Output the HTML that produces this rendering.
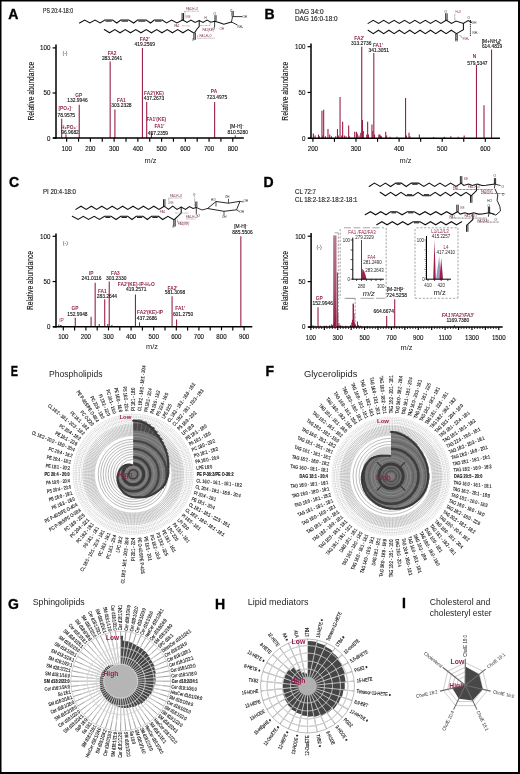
<!DOCTYPE html>
<html><head><meta charset="utf-8"><title>Lipidomics figure</title>
<style>html,body{margin:0;padding:0;background:#fff}svg{display:block}text{font-family:'Liberation Sans', Arial, sans-serif}</style></head>
<body><svg width="520" height="774" viewBox="0 0 520 774">
<rect x="0" y="0" width="520" height="774" fill="#fff"/>
<text font-size="14" fill="#000" font-weight="bold" x="8.30" y="19.20" stroke="#000" stroke-width="0.35">A</text>
<text font-size="6.5" fill="#222" textLength="30" lengthAdjust="spacingAndGlyphs" x="43.00" y="13.20" stroke="#222" stroke-width="0.15">PS 20:4-18:0</text>
<line x1="61.68" y1="138.10" x2="61.68" y2="118.71" stroke="#9a2048" stroke-width="1.1"/>
<line x1="65.95" y1="138.10" x2="65.95" y2="134.49" stroke="#9a2048" stroke-width="1.1"/>
<line x1="79.24" y1="138.10" x2="79.24" y2="104.73" stroke="#9a2048" stroke-width="1.1"/>
<line x1="110.16" y1="138.10" x2="110.16" y2="61.43" stroke="#9a2048" stroke-width="1.1"/>
<line x1="114.90" y1="138.10" x2="114.90" y2="109.51" stroke="#9a2048" stroke-width="1.1"/>
<line x1="142.43" y1="138.10" x2="142.43" y2="47.90" stroke="#9a2048" stroke-width="1.1"/>
<line x1="146.70" y1="138.10" x2="146.70" y2="102.02" stroke="#9a2048" stroke-width="1.1"/>
<line x1="151.44" y1="138.10" x2="151.44" y2="132.69" stroke="#9a2048" stroke-width="1.1"/>
<line x1="214.63" y1="138.10" x2="214.63" y2="102.02" stroke="#9a2048" stroke-width="1.1"/>
<line x1="235.28" y1="138.10" x2="235.28" y2="135.39" stroke="#222" stroke-width="0.8"/>
<line x1="56.00" y1="44.40" x2="56.00" y2="138.80" stroke="#000" stroke-width="1.5"/>
<line x1="53.00" y1="138.10" x2="243.80" y2="138.10" stroke="#000" stroke-width="1.5"/>
<line x1="52.60" y1="138.10" x2="56.00" y2="138.10" stroke="#000" stroke-width="1.2"/>
<text font-size="6.9" fill="#111" text-anchor="end" transform="translate(50.40 140.50) scale(0.9 1)" stroke="#111" stroke-width="0.12">0</text>
<line x1="52.60" y1="93.00" x2="56.00" y2="93.00" stroke="#000" stroke-width="1.2"/>
<text font-size="6.9" fill="#111" text-anchor="end" transform="translate(50.40 95.40) scale(0.9 1)" stroke="#111" stroke-width="0.12">50</text>
<line x1="52.60" y1="47.90" x2="56.00" y2="47.90" stroke="#000" stroke-width="1.2"/>
<text font-size="6.9" fill="#111" text-anchor="end" transform="translate(50.40 50.30) scale(0.9 1)" stroke="#111" stroke-width="0.12">100</text>
<line x1="66.67" y1="138.10" x2="66.67" y2="141.70" stroke="#000" stroke-width="1.15"/>
<line x1="78.54" y1="138.10" x2="78.54" y2="141.70" stroke="#000" stroke-width="1.15"/>
<line x1="90.40" y1="138.10" x2="90.40" y2="141.70" stroke="#000" stroke-width="1.15"/>
<line x1="102.27" y1="138.10" x2="102.27" y2="141.70" stroke="#000" stroke-width="1.15"/>
<line x1="114.13" y1="138.10" x2="114.13" y2="141.70" stroke="#000" stroke-width="1.15"/>
<line x1="126.00" y1="138.10" x2="126.00" y2="141.70" stroke="#000" stroke-width="1.15"/>
<line x1="137.86" y1="138.10" x2="137.86" y2="141.70" stroke="#000" stroke-width="1.15"/>
<line x1="149.73" y1="138.10" x2="149.73" y2="141.70" stroke="#000" stroke-width="1.15"/>
<line x1="161.59" y1="138.10" x2="161.59" y2="141.70" stroke="#000" stroke-width="1.15"/>
<line x1="173.46" y1="138.10" x2="173.46" y2="141.70" stroke="#000" stroke-width="1.15"/>
<line x1="185.32" y1="138.10" x2="185.32" y2="141.70" stroke="#000" stroke-width="1.15"/>
<line x1="197.19" y1="138.10" x2="197.19" y2="141.70" stroke="#000" stroke-width="1.15"/>
<line x1="209.05" y1="138.10" x2="209.05" y2="141.70" stroke="#000" stroke-width="1.15"/>
<line x1="220.92" y1="138.10" x2="220.92" y2="141.70" stroke="#000" stroke-width="1.15"/>
<line x1="232.78" y1="138.10" x2="232.78" y2="141.70" stroke="#000" stroke-width="1.15"/>
<text font-size="6.5" fill="#111" text-anchor="middle" transform="translate(66.67 150.70) scale(0.95 1)" stroke="#111" stroke-width="0.12">100</text>
<text font-size="6.5" fill="#111" text-anchor="middle" transform="translate(90.40 150.70) scale(0.95 1)" stroke="#111" stroke-width="0.12">200</text>
<text font-size="6.5" fill="#111" text-anchor="middle" transform="translate(114.13 150.70) scale(0.95 1)" stroke="#111" stroke-width="0.12">300</text>
<text font-size="6.5" fill="#111" text-anchor="middle" transform="translate(137.86 150.70) scale(0.95 1)" stroke="#111" stroke-width="0.12">400</text>
<text font-size="6.5" fill="#111" text-anchor="middle" transform="translate(161.59 150.70) scale(0.95 1)" stroke="#111" stroke-width="0.12">500</text>
<text font-size="6.5" fill="#111" text-anchor="middle" transform="translate(185.32 150.70) scale(0.95 1)" stroke="#111" stroke-width="0.12">600</text>
<text font-size="6.5" fill="#111" text-anchor="middle" transform="translate(209.05 150.70) scale(0.95 1)" stroke="#111" stroke-width="0.12">700</text>
<text font-size="6.5" fill="#111" text-anchor="middle" transform="translate(232.78 150.70) scale(0.95 1)" stroke="#111" stroke-width="0.12">800</text>
<text font-size="8.3" fill="#111" text-anchor="middle" textLength="58.8" lengthAdjust="spacingAndGlyphs" transform="translate(33.60 91.20) rotate(-90.00)" stroke="#111" stroke-width="0.12">Relative abundance</text>
<text font-size="7.4" fill="#1a1a1a" text-anchor="middle" x="150.50" y="162.50">m/z</text>
<text font-size="5.2" fill="#333" text-anchor="middle" x="65.00" y="55.20">(-)</text>
<text font-size="4.8" fill="#8e2448" text-anchor="middle" font-weight="bold" x="112.10" y="54.70">FA2</text>
<text font-size="4.9" fill="#1e1e1e" text-anchor="middle" x="112.10" y="59.80" stroke="#000" stroke-width="0.12">283.2641</text>
<text font-size="4.8" fill="#8e2448" text-anchor="middle" font-weight="bold" x="144.70" y="41.20">FA2'</text>
<text font-size="4.9" fill="#1e1e1e" text-anchor="middle" x="144.70" y="46.20" stroke="#000" stroke-width="0.12">419.2569</text>
<text font-size="4.8" fill="#8e2448" text-anchor="middle" font-weight="bold" x="121.40" y="102.30">FA1</text>
<text font-size="4.9" fill="#1e1e1e" text-anchor="middle" x="121.40" y="107.40" stroke="#000" stroke-width="0.12">303.2328</text>
<text font-size="4.8" fill="#8e2448" text-anchor="middle" font-weight="bold" x="154.00" y="95.00">FA2'(KE)</text>
<text font-size="4.9" fill="#1e1e1e" text-anchor="middle" x="154.00" y="100.40" stroke="#000" stroke-width="0.12">437.2673</text>
<text font-size="4.8" fill="#8e2448" text-anchor="middle" font-weight="bold" x="156.30" y="120.90">FA1'(KE)</text>
<text font-size="4.8" fill="#8e2448" text-anchor="middle" font-weight="bold" x="159.40" y="127.90">FA1'</text>
<text font-size="4.9" fill="#1e1e1e" text-anchor="middle" x="157.90" y="134.90" stroke="#000" stroke-width="0.12">457.2359</text>
<text font-size="4.8" fill="#8e2448" text-anchor="middle" font-weight="bold" x="214.00" y="92.70">PA</text>
<text font-size="4.9" fill="#1e1e1e" text-anchor="middle" x="217.00" y="99.00" stroke="#000" stroke-width="0.12">723.4975</text>
<text font-size="4.9" fill="#1e1e1e" text-anchor="middle" x="236.90" y="128.40" stroke="#000" stroke-width="0.12">[M-H]⁻</text>
<text font-size="4.9" fill="#1e1e1e" text-anchor="middle" x="237.70" y="133.60" stroke="#000" stroke-width="0.12">810.5280</text>
<text font-size="4.8" fill="#8e2448" text-anchor="middle" font-weight="bold" x="78.75" y="97.30">GP</text>
<text font-size="4.9" fill="#1e1e1e" text-anchor="middle" x="77.50" y="101.80" stroke="#000" stroke-width="0.12">132.9946</text>
<text font-size="4.8" fill="#8e2448" text-anchor="middle" font-weight="bold" x="65.60" y="109.80">[PO₃]⁻</text>
<text font-size="4.9" fill="#1e1e1e" text-anchor="middle" x="66.25" y="116.80" stroke="#000" stroke-width="0.12">78.9575</text>
<text font-size="4.8" fill="#8e2448" text-anchor="middle" font-weight="bold" x="69.40" y="128.60">H₂PO₄⁻</text>
<text font-size="4.9" fill="#1e1e1e" text-anchor="middle" x="70.00" y="133.60" stroke="#000" stroke-width="0.12">96.9682</text>
<polyline points="79.50,23.00 84.70,20.00 89.80,23.00 95.00,20.00 100.20,23.00 104.80,20.00 112.50,20.00 116.80,23.00 120.70,20.00 128.80,20.00 133.70,23.00 137.50,20.00 146.20,20.00 150.50,23.00 154.30,20.00 162.30,20.00 166.50,23.00 171.70,20.00 176.90,23.00 182.50,20.00" fill="none" stroke="#111" stroke-width="1.05" stroke-linejoin="miter" stroke-linecap="round"/>
<line x1="105.60" y1="21.10" x2="111.70" y2="21.10" stroke="#111" stroke-width="1.05"/>
<line x1="121.50" y1="21.10" x2="128.00" y2="21.10" stroke="#111" stroke-width="1.05"/>
<line x1="138.30" y1="21.10" x2="145.40" y2="21.10" stroke="#111" stroke-width="1.05"/>
<line x1="155.10" y1="21.10" x2="161.50" y2="21.10" stroke="#111" stroke-width="1.05"/>
<polyline points="104.30,29.50 109.54,32.80 114.78,29.50 120.02,32.80 125.26,29.50 130.50,32.80 135.74,29.50 140.98,32.80 146.22,29.50 151.46,32.80 156.70,29.50 161.94,32.80 167.18,29.50 172.42,32.80 177.66,29.50 182.90,32.80 188.14,29.50 193.38,32.80" fill="none" stroke="#111" stroke-width="1.05" stroke-linejoin="miter" stroke-linecap="round"/>
<line x1="182.10" y1="20.00" x2="182.10" y2="13.00" stroke="#111" stroke-width="0.9"/>
<line x1="183.50" y1="20.00" x2="183.50" y2="13.00" stroke="#111" stroke-width="0.9"/>
<line x1="193.90" y1="32.80" x2="193.90" y2="39.80" stroke="#111" stroke-width="0.9"/>
<line x1="195.30" y1="32.80" x2="195.30" y2="39.80" stroke="#111" stroke-width="0.9"/>
<polyline points="182.80,20.00 187.00,22.40 191.00,20.00 195.00,22.40 199.20,20.60 203.00,22.40 207.00,20.00 211.00,22.20 214.60,21.20 219.00,22.40 223.80,24.30 231.50,22.00" fill="none" stroke="#111" stroke-width="1.05" stroke-linejoin="miter" stroke-linecap="round"/>
<polyline points="194.60,32.80 197.00,29.00 199.20,26.50 199.20,20.60" fill="none" stroke="#111" stroke-width="1.05" stroke-linejoin="miter" stroke-linecap="round"/>
<line x1="214.90" y1="21.20" x2="214.90" y2="15.20" stroke="#111" stroke-width="0.8"/>
<line x1="216.10" y1="21.20" x2="216.10" y2="15.20" stroke="#111" stroke-width="0.8"/>
<line x1="214.60" y1="21.20" x2="214.60" y2="27.50" stroke="#111" stroke-width="0.8"/>
<polyline points="231.50,22.00 232.50,16.60 242.00,16.60" fill="none" stroke="#111" stroke-width="0.85" stroke-linejoin="miter" stroke-linecap="round"/>
<line x1="232.00" y1="16.60" x2="232.00" y2="11.00" stroke="#111" stroke-width="0.8"/>
<line x1="233.30" y1="16.60" x2="233.30" y2="11.00" stroke="#111" stroke-width="0.8"/>
<line x1="231.50" y1="22.00" x2="237.50" y2="25.00" stroke="#111" stroke-width="0.85"/>
<line x1="184.50" y1="11.20" x2="199.00" y2="11.20" stroke="#555" stroke-width="0.55" stroke-dasharray="0.7,0.55"/>
<line x1="185.00" y1="11.20" x2="185.00" y2="19.00" stroke="#555" stroke-width="0.55" stroke-dasharray="0.7,0.55"/>
<line x1="182.00" y1="25.80" x2="190.00" y2="25.80" stroke="#555" stroke-width="0.55" stroke-dasharray="0.7,0.55"/>
<line x1="200.00" y1="25.50" x2="210.00" y2="25.50" stroke="#555" stroke-width="0.55" stroke-dasharray="0.7,0.55"/>
<line x1="210.00" y1="25.50" x2="210.00" y2="21.00" stroke="#555" stroke-width="0.55" stroke-dasharray="0.7,0.55"/>
<line x1="197.70" y1="38.20" x2="214.60" y2="38.20" stroke="#555" stroke-width="0.55" stroke-dasharray="0.7,0.55"/>
<line x1="197.70" y1="38.20" x2="197.70" y2="34.50" stroke="#555" stroke-width="0.55" stroke-dasharray="0.7,0.55"/>
<text font-size="3.0" fill="#7d2c4c" x="186.00" y="9.60">FA2-H₂O</text>
<text font-size="3.0" fill="#7d2c4c" x="186.50" y="17.60">KE</text>
<text font-size="3.0" fill="#7d2c4c" x="174.20" y="27.00">FA1</text>
<text font-size="3.0" fill="#7d2c4c" x="202.50" y="30.80">FA1(KE)</text>
<text font-size="3.0" fill="#7d2c4c" x="199.50" y="36.80">FA1-H₂O</text>
<text font-size="3.0" fill="#7d2c4c" x="219.50" y="30.00">OH</text>
<text font-size="3.0" fill="#222" x="230.00" y="11.50">O</text>
<text font-size="3.0" fill="#222" x="242.50" y="17.80">OH</text>
<text font-size="3.0" fill="#222" x="237.50" y="28.00">NH₂</text>
<text font-size="3.0" fill="#222" x="213.50" y="14.50">O</text>
<text font-size="3.0" fill="#222" x="212.50" y="30.00">O⁻</text>
<text font-size="3.0" fill="#222" x="192.00" y="40.50">O</text>
<text font-size="3.0" fill="#222" x="204.50" y="18.50">H</text>
<text font-size="14" fill="#000" font-weight="bold" x="264.50" y="19.20" stroke="#000" stroke-width="0.35">B</text>
<text font-size="6.5" fill="#222" textLength="28.5" lengthAdjust="spacingAndGlyphs" x="295.00" y="13.60" stroke="#222" stroke-width="0.15">DAG 34:0</text>
<text font-size="6.5" fill="#222" textLength="42.5" lengthAdjust="spacingAndGlyphs" x="295.00" y="20.90" stroke="#222" stroke-width="0.15">DAG 16:0-18:0</text>
<line x1="313.33" y1="138.20" x2="313.33" y2="133.62" stroke="#9a2048" stroke-width="1.1"/>
<line x1="315.05" y1="138.20" x2="315.05" y2="135.45" stroke="#9a2048" stroke-width="1.1"/>
<line x1="318.50" y1="138.20" x2="318.50" y2="134.54" stroke="#9a2048" stroke-width="1.1"/>
<line x1="319.36" y1="138.20" x2="319.36" y2="136.37" stroke="#9a2048" stroke-width="1.1"/>
<line x1="321.95" y1="138.20" x2="321.95" y2="110.75" stroke="#9a2048" stroke-width="1.1"/>
<line x1="322.81" y1="138.20" x2="322.81" y2="135.45" stroke="#9a2048" stroke-width="1.1"/>
<line x1="323.67" y1="138.20" x2="323.67" y2="109.83" stroke="#9a2048" stroke-width="1.1"/>
<line x1="325.40" y1="138.20" x2="325.40" y2="136.37" stroke="#9a2048" stroke-width="1.1"/>
<line x1="327.98" y1="138.20" x2="327.98" y2="129.05" stroke="#9a2048" stroke-width="1.1"/>
<line x1="329.71" y1="138.20" x2="329.71" y2="134.54" stroke="#9a2048" stroke-width="1.1"/>
<line x1="331.43" y1="138.20" x2="331.43" y2="136.37" stroke="#9a2048" stroke-width="1.1"/>
<line x1="335.74" y1="138.20" x2="335.74" y2="136.37" stroke="#9a2048" stroke-width="1.1"/>
<line x1="337.47" y1="138.20" x2="337.47" y2="129.05" stroke="#9a2048" stroke-width="1.1"/>
<line x1="338.33" y1="138.20" x2="338.33" y2="135.45" stroke="#9a2048" stroke-width="1.1"/>
<line x1="340.05" y1="138.20" x2="340.05" y2="97.03" stroke="#9a2048" stroke-width="1.1"/>
<line x1="341.78" y1="138.20" x2="341.78" y2="135.45" stroke="#9a2048" stroke-width="1.1"/>
<line x1="342.64" y1="138.20" x2="342.64" y2="121.73" stroke="#9a2048" stroke-width="1.1"/>
<line x1="344.36" y1="138.20" x2="344.36" y2="135.45" stroke="#9a2048" stroke-width="1.1"/>
<line x1="346.09" y1="138.20" x2="346.09" y2="136.37" stroke="#9a2048" stroke-width="1.1"/>
<line x1="348.67" y1="138.20" x2="348.67" y2="125.39" stroke="#9a2048" stroke-width="1.1"/>
<line x1="349.53" y1="138.20" x2="349.53" y2="136.37" stroke="#9a2048" stroke-width="1.1"/>
<line x1="354.71" y1="138.20" x2="354.71" y2="131.79" stroke="#9a2048" stroke-width="1.1"/>
<line x1="356.43" y1="138.20" x2="356.43" y2="131.79" stroke="#9a2048" stroke-width="1.1"/>
<line x1="357.29" y1="138.20" x2="357.29" y2="133.62" stroke="#9a2048" stroke-width="1.1"/>
<line x1="359.02" y1="138.20" x2="359.02" y2="135.45" stroke="#9a2048" stroke-width="1.1"/>
<line x1="360.74" y1="138.20" x2="360.74" y2="132.71" stroke="#9a2048" stroke-width="1.1"/>
<line x1="361.72" y1="138.20" x2="361.72" y2="46.70" stroke="#9a2048" stroke-width="1.1"/>
<line x1="362.46" y1="138.20" x2="362.46" y2="119.90" stroke="#9a2048" stroke-width="1.1"/>
<line x1="363.33" y1="138.20" x2="363.33" y2="130.88" stroke="#9a2048" stroke-width="1.1"/>
<line x1="366.77" y1="138.20" x2="366.77" y2="134.54" stroke="#9a2048" stroke-width="1.1"/>
<line x1="367.64" y1="138.20" x2="367.64" y2="121.73" stroke="#9a2048" stroke-width="1.1"/>
<line x1="368.50" y1="138.20" x2="368.50" y2="134.54" stroke="#9a2048" stroke-width="1.1"/>
<line x1="371.95" y1="138.20" x2="371.95" y2="124.47" stroke="#9a2048" stroke-width="1.1"/>
<line x1="372.81" y1="138.20" x2="372.81" y2="130.88" stroke="#9a2048" stroke-width="1.1"/>
<line x1="373.80" y1="138.20" x2="373.80" y2="53.11" stroke="#9a2048" stroke-width="1.1"/>
<line x1="374.53" y1="138.20" x2="374.53" y2="134.54" stroke="#9a2048" stroke-width="1.1"/>
<line x1="378.84" y1="138.20" x2="378.84" y2="134.54" stroke="#9a2048" stroke-width="1.1"/>
<line x1="379.70" y1="138.20" x2="379.70" y2="134.54" stroke="#9a2048" stroke-width="1.1"/>
<line x1="380.57" y1="138.20" x2="380.57" y2="135.45" stroke="#9a2048" stroke-width="1.1"/>
<line x1="381.43" y1="138.20" x2="381.43" y2="136.37" stroke="#9a2048" stroke-width="1.1"/>
<line x1="385.74" y1="138.20" x2="385.74" y2="131.79" stroke="#9a2048" stroke-width="1.1"/>
<line x1="386.60" y1="138.20" x2="386.60" y2="135.45" stroke="#9a2048" stroke-width="1.1"/>
<line x1="390.05" y1="138.20" x2="390.05" y2="136.83" stroke="#9a2048" stroke-width="1.1"/>
<line x1="396.94" y1="138.20" x2="396.94" y2="136.83" stroke="#9a2048" stroke-width="1.1"/>
<line x1="405.56" y1="138.20" x2="405.56" y2="97.94" stroke="#9a2048" stroke-width="1.1"/>
<line x1="406.43" y1="138.20" x2="406.43" y2="135.45" stroke="#9a2048" stroke-width="1.1"/>
<line x1="409.01" y1="138.20" x2="409.01" y2="132.71" stroke="#9a2048" stroke-width="1.1"/>
<line x1="409.88" y1="138.20" x2="409.88" y2="136.37" stroke="#9a2048" stroke-width="1.1"/>
<line x1="419.36" y1="138.20" x2="419.36" y2="134.54" stroke="#9a2048" stroke-width="1.1"/>
<line x1="433.58" y1="138.20" x2="433.58" y2="137.10" stroke="#9a2048" stroke-width="1.1"/>
<line x1="444.35" y1="138.20" x2="444.35" y2="136.83" stroke="#9a2048" stroke-width="1.1"/>
<line x1="450.82" y1="138.20" x2="450.82" y2="136.37" stroke="#9a2048" stroke-width="1.1"/>
<line x1="458.15" y1="138.20" x2="458.15" y2="136.83" stroke="#9a2048" stroke-width="1.1"/>
<line x1="464.18" y1="138.20" x2="464.18" y2="135.45" stroke="#9a2048" stroke-width="1.1"/>
<line x1="476.46" y1="138.20" x2="476.46" y2="65.00" stroke="#9a2048" stroke-width="1.1"/>
<line x1="484.01" y1="138.20" x2="484.01" y2="105.26" stroke="#9a2048" stroke-width="1.1"/>
<line x1="491.55" y1="138.20" x2="491.55" y2="49.45" stroke="#9a2048" stroke-width="1.1"/>
<line x1="311.00" y1="43.60" x2="311.00" y2="138.90" stroke="#000" stroke-width="1.5"/>
<line x1="308.00" y1="138.20" x2="500.00" y2="138.20" stroke="#000" stroke-width="1.5"/>
<line x1="307.60" y1="138.20" x2="311.00" y2="138.20" stroke="#000" stroke-width="1.2"/>
<text font-size="6.9" fill="#111" text-anchor="end" transform="translate(305.40 140.60) scale(0.9 1)" stroke="#111" stroke-width="0.12">0</text>
<line x1="307.60" y1="92.45" x2="311.00" y2="92.45" stroke="#000" stroke-width="1.2"/>
<text font-size="6.9" fill="#111" text-anchor="end" transform="translate(305.40 94.85) scale(0.9 1)" stroke="#111" stroke-width="0.12">50</text>
<line x1="307.60" y1="46.70" x2="311.00" y2="46.70" stroke="#000" stroke-width="1.2"/>
<text font-size="6.9" fill="#111" text-anchor="end" transform="translate(305.40 49.10) scale(0.9 1)" stroke="#111" stroke-width="0.12">100</text>
<line x1="312.90" y1="138.20" x2="312.90" y2="141.80" stroke="#000" stroke-width="1.15"/>
<line x1="334.45" y1="138.20" x2="334.45" y2="141.80" stroke="#000" stroke-width="1.15"/>
<line x1="356.00" y1="138.20" x2="356.00" y2="141.80" stroke="#000" stroke-width="1.15"/>
<line x1="377.55" y1="138.20" x2="377.55" y2="141.80" stroke="#000" stroke-width="1.15"/>
<line x1="399.10" y1="138.20" x2="399.10" y2="141.80" stroke="#000" stroke-width="1.15"/>
<line x1="420.65" y1="138.20" x2="420.65" y2="141.80" stroke="#000" stroke-width="1.15"/>
<line x1="442.20" y1="138.20" x2="442.20" y2="141.80" stroke="#000" stroke-width="1.15"/>
<line x1="463.75" y1="138.20" x2="463.75" y2="141.80" stroke="#000" stroke-width="1.15"/>
<line x1="485.30" y1="138.20" x2="485.30" y2="141.80" stroke="#000" stroke-width="1.15"/>
<text font-size="6.5" fill="#111" text-anchor="middle" transform="translate(312.90 150.70) scale(0.95 1)" stroke="#111" stroke-width="0.12">200</text>
<text font-size="6.5" fill="#111" text-anchor="middle" transform="translate(356.00 150.70) scale(0.95 1)" stroke="#111" stroke-width="0.12">300</text>
<text font-size="6.5" fill="#111" text-anchor="middle" transform="translate(399.10 150.70) scale(0.95 1)" stroke="#111" stroke-width="0.12">400</text>
<text font-size="6.5" fill="#111" text-anchor="middle" transform="translate(442.20 150.70) scale(0.95 1)" stroke="#111" stroke-width="0.12">500</text>
<text font-size="6.5" fill="#111" text-anchor="middle" transform="translate(485.30 150.70) scale(0.95 1)" stroke="#111" stroke-width="0.12">600</text>
<text font-size="8.3" fill="#111" text-anchor="middle" textLength="58.9" lengthAdjust="spacingAndGlyphs" transform="translate(287.80 91.20) rotate(-90.00)" stroke="#111" stroke-width="0.12">Relative abundance</text>
<text font-size="7.4" fill="#1a1a1a" text-anchor="middle" x="405.50" y="162.50">m/z</text>
<text font-size="4.8" fill="#8e2448" text-anchor="middle" font-weight="bold" x="359.30" y="40.20">FA2'</text>
<text font-size="4.9" fill="#1e1e1e" text-anchor="middle" x="361.20" y="45.40" stroke="#000" stroke-width="0.12">313.2736</text>
<text font-size="4.8" fill="#8e2448" text-anchor="middle" font-weight="bold" x="377.90" y="47.20">FA1'</text>
<text font-size="4.9" fill="#1e1e1e" text-anchor="middle" x="378.70" y="52.00" stroke="#000" stroke-width="0.12">341.3051</text>
<text font-size="4.8" fill="#8e2448" text-anchor="middle" font-weight="bold" x="474.60" y="58.10">N</text>
<text font-size="4.9" fill="#1e1e1e" text-anchor="middle" x="477.40" y="65.10" stroke="#000" stroke-width="0.12">579.5347</text>
<text font-size="4.9" fill="#1e1e1e" text-anchor="middle" x="492.10" y="42.60" stroke="#000" stroke-width="0.12">[M+NH₄]⁺</text>
<text font-size="4.9" fill="#1e1e1e" text-anchor="middle" x="492.10" y="48.10" stroke="#000" stroke-width="0.12">614.4819</text>
<polyline points="368.10,23.40 373.30,20.30 378.50,23.40 383.70,20.30 388.90,23.40 394.10,20.30 399.30,23.40 404.50,20.30 409.70,23.40 414.90,20.30 420.10,23.40 425.30,20.30 430.50,23.40 435.70,20.30 440.90,23.40 446.10,20.30" fill="none" stroke="#111" stroke-width="1.05" stroke-linejoin="miter" stroke-linecap="round"/>
<polyline points="368.10,30.20 373.30,33.60 378.50,30.20 383.70,33.60 388.90,30.20 394.10,33.60 399.30,30.20 404.50,33.60 409.70,30.20 414.90,33.60 420.10,30.20 425.30,33.60 430.50,30.20 435.70,33.60 440.90,30.20 446.10,33.60 451.30,30.20 456.50,33.60" fill="none" stroke="#111" stroke-width="1.05" stroke-linejoin="miter" stroke-linecap="round"/>
<line x1="445.70" y1="20.30" x2="445.70" y2="13.30" stroke="#111" stroke-width="0.9"/>
<line x1="447.10" y1="20.30" x2="447.10" y2="13.30" stroke="#111" stroke-width="0.9"/>
<line x1="455.80" y1="33.60" x2="455.80" y2="40.60" stroke="#111" stroke-width="0.9"/>
<line x1="457.20" y1="33.60" x2="457.20" y2="40.60" stroke="#111" stroke-width="0.9"/>
<polyline points="446.40,20.30 451.50,23.50 456.00,21.10 463.40,23.50 468.00,20.50 471.50,22.30" fill="none" stroke="#111" stroke-width="1.05" stroke-linejoin="miter" stroke-linecap="round"/>
<polyline points="456.50,33.60 463.40,29.80 463.40,23.50" fill="none" stroke="#111" stroke-width="1.05" stroke-linejoin="miter" stroke-linecap="round"/>
<line x1="454.80" y1="14.20" x2="454.80" y2="20.50" stroke="#333" stroke-width="0.6" stroke-dasharray="0.7,0.55"/>
<line x1="470.40" y1="20.00" x2="470.40" y2="36.00" stroke="#111" stroke-width="1.0" stroke-dasharray="1.1,0.8"/>
<line x1="459.50" y1="35.00" x2="463.50" y2="39.00" stroke="#333" stroke-width="0.5"/>
<text font-size="3.0" fill="#7d2c4c" x="455.50" y="12.80">H₂O</text>
<text font-size="3.0" fill="#7d2c4c" x="463.50" y="40.20">NH₃</text>
<text font-size="3.0" fill="#222" x="471.80" y="24.30">OH</text>
<text font-size="3.0" fill="#222" x="472.50" y="33.80">NH₄⁺</text>
<text font-size="3.0" fill="#222" x="444.60" y="12.60">O</text>
<text font-size="3.0" fill="#222" x="455.20" y="42.00">O</text>
<text font-size="3.0" fill="#222" x="467.50" y="19.00">O</text>
<text font-size="14" fill="#000" font-weight="bold" x="9.00" y="187.30" stroke="#000" stroke-width="0.35">C</text>
<text font-size="6.5" fill="#222" textLength="33" lengthAdjust="spacingAndGlyphs" x="43.00" y="194.20" stroke="#222" stroke-width="0.15">PI 20:4-18:0</text>
<line x1="58.78" y1="326.80" x2="58.78" y2="324.54" stroke="#9a2048" stroke-width="1.1"/>
<line x1="60.59" y1="326.80" x2="60.59" y2="324.99" stroke="#9a2048" stroke-width="1.1"/>
<line x1="61.49" y1="326.80" x2="61.49" y2="325.44" stroke="#9a2048" stroke-width="1.1"/>
<line x1="75.28" y1="326.80" x2="75.28" y2="317.75" stroke="#9a2048" stroke-width="1.1"/>
<line x1="91.10" y1="326.80" x2="91.10" y2="316.85" stroke="#9a2048" stroke-width="1.1"/>
<line x1="95.17" y1="326.80" x2="95.17" y2="282.82" stroke="#9a2048" stroke-width="1.1"/>
<line x1="99.23" y1="326.80" x2="99.23" y2="324.09" stroke="#9a2048" stroke-width="1.1"/>
<line x1="104.72" y1="326.80" x2="104.72" y2="299.20" stroke="#9a2048" stroke-width="1.1"/>
<line x1="107.82" y1="326.80" x2="107.82" y2="324.09" stroke="#9a2048" stroke-width="1.1"/>
<line x1="109.23" y1="326.80" x2="109.23" y2="281.55" stroke="#9a2048" stroke-width="1.1"/>
<line x1="111.89" y1="326.80" x2="111.89" y2="324.99" stroke="#9a2048" stroke-width="1.1"/>
<line x1="135.45" y1="326.80" x2="135.45" y2="294.58" stroke="#9a2048" stroke-width="1.1"/>
<line x1="139.52" y1="326.80" x2="139.52" y2="322.28" stroke="#9a2048" stroke-width="1.1"/>
<line x1="172.08" y1="326.80" x2="172.08" y2="296.21" stroke="#9a2048" stroke-width="1.1"/>
<line x1="176.59" y1="326.80" x2="176.59" y2="319.56" stroke="#9a2048" stroke-width="1.1"/>
<line x1="240.83" y1="326.80" x2="240.83" y2="236.30" stroke="#9a2048" stroke-width="1.1"/>
<line x1="56.00" y1="233.60" x2="56.00" y2="327.50" stroke="#000" stroke-width="1.5"/>
<line x1="53.00" y1="326.80" x2="252.30" y2="326.80" stroke="#000" stroke-width="1.5"/>
<line x1="52.60" y1="326.80" x2="56.00" y2="326.80" stroke="#000" stroke-width="1.2"/>
<text font-size="6.9" fill="#111" text-anchor="end" transform="translate(50.40 329.20) scale(0.9 1)" stroke="#111" stroke-width="0.12">0</text>
<line x1="52.60" y1="281.55" x2="56.00" y2="281.55" stroke="#000" stroke-width="1.2"/>
<text font-size="6.9" fill="#111" text-anchor="end" transform="translate(50.40 283.95) scale(0.9 1)" stroke="#111" stroke-width="0.12">50</text>
<line x1="52.60" y1="236.30" x2="56.00" y2="236.30" stroke="#000" stroke-width="1.2"/>
<text font-size="6.9" fill="#111" text-anchor="end" transform="translate(50.40 238.70) scale(0.9 1)" stroke="#111" stroke-width="0.12">100</text>
<line x1="63.30" y1="326.80" x2="63.30" y2="330.40" stroke="#000" stroke-width="1.15"/>
<line x1="74.60" y1="326.80" x2="74.60" y2="330.40" stroke="#000" stroke-width="1.15"/>
<line x1="85.90" y1="326.80" x2="85.90" y2="330.40" stroke="#000" stroke-width="1.15"/>
<line x1="97.20" y1="326.80" x2="97.20" y2="330.40" stroke="#000" stroke-width="1.15"/>
<line x1="108.50" y1="326.80" x2="108.50" y2="330.40" stroke="#000" stroke-width="1.15"/>
<line x1="119.80" y1="326.80" x2="119.80" y2="330.40" stroke="#000" stroke-width="1.15"/>
<line x1="131.10" y1="326.80" x2="131.10" y2="330.40" stroke="#000" stroke-width="1.15"/>
<line x1="142.40" y1="326.80" x2="142.40" y2="330.40" stroke="#000" stroke-width="1.15"/>
<line x1="153.70" y1="326.80" x2="153.70" y2="330.40" stroke="#000" stroke-width="1.15"/>
<line x1="165.00" y1="326.80" x2="165.00" y2="330.40" stroke="#000" stroke-width="1.15"/>
<line x1="176.30" y1="326.80" x2="176.30" y2="330.40" stroke="#000" stroke-width="1.15"/>
<line x1="187.60" y1="326.80" x2="187.60" y2="330.40" stroke="#000" stroke-width="1.15"/>
<line x1="198.90" y1="326.80" x2="198.90" y2="330.40" stroke="#000" stroke-width="1.15"/>
<line x1="210.20" y1="326.80" x2="210.20" y2="330.40" stroke="#000" stroke-width="1.15"/>
<line x1="221.50" y1="326.80" x2="221.50" y2="330.40" stroke="#000" stroke-width="1.15"/>
<line x1="232.80" y1="326.80" x2="232.80" y2="330.40" stroke="#000" stroke-width="1.15"/>
<line x1="244.10" y1="326.80" x2="244.10" y2="330.40" stroke="#000" stroke-width="1.15"/>
<text font-size="6.5" fill="#111" text-anchor="middle" transform="translate(63.30 339.40) scale(0.95 1)" stroke="#111" stroke-width="0.12">100</text>
<text font-size="6.5" fill="#111" text-anchor="middle" transform="translate(85.90 339.40) scale(0.95 1)" stroke="#111" stroke-width="0.12">200</text>
<text font-size="6.5" fill="#111" text-anchor="middle" transform="translate(108.50 339.40) scale(0.95 1)" stroke="#111" stroke-width="0.12">300</text>
<text font-size="6.5" fill="#111" text-anchor="middle" transform="translate(131.10 339.40) scale(0.95 1)" stroke="#111" stroke-width="0.12">400</text>
<text font-size="6.5" fill="#111" text-anchor="middle" transform="translate(153.70 339.40) scale(0.95 1)" stroke="#111" stroke-width="0.12">500</text>
<text font-size="6.5" fill="#111" text-anchor="middle" transform="translate(176.30 339.40) scale(0.95 1)" stroke="#111" stroke-width="0.12">600</text>
<text font-size="6.5" fill="#111" text-anchor="middle" transform="translate(198.90 339.40) scale(0.95 1)" stroke="#111" stroke-width="0.12">700</text>
<text font-size="6.5" fill="#111" text-anchor="middle" transform="translate(221.50 339.40) scale(0.95 1)" stroke="#111" stroke-width="0.12">800</text>
<text font-size="6.5" fill="#111" text-anchor="middle" transform="translate(244.10 339.40) scale(0.95 1)" stroke="#111" stroke-width="0.12">900</text>
<text font-size="8.3" fill="#111" text-anchor="middle" textLength="59" lengthAdjust="spacingAndGlyphs" transform="translate(32.50 280.50) rotate(-90.00)" stroke="#111" stroke-width="0.12">Relative abundance</text>
<text font-size="7.4" fill="#1a1a1a" text-anchor="middle" x="152.00" y="349.20">m/z</text>
<text font-size="5.2" fill="#333" text-anchor="middle" x="65.30" y="245.20">(-)</text>
<text font-size="4.8" fill="#8e2448" text-anchor="middle" font-weight="bold" x="75.00" y="310.10">GP</text>
<text font-size="4.9" fill="#1e1e1e" text-anchor="middle" x="77.40" y="315.60" stroke="#000" stroke-width="0.12">152.9948</text>
<text font-size="4.8" fill="#8e2448" text-anchor="middle" font-weight="bold" x="91.30" y="274.70">IP</text>
<text font-size="4.9" fill="#1e1e1e" text-anchor="middle" x="91.50" y="279.50" stroke="#000" stroke-width="0.12">241.0116</text>
<text font-size="4.8" fill="#8e2448" text-anchor="middle" font-weight="bold" x="115.40" y="274.70">FA3</text>
<text font-size="4.9" fill="#1e1e1e" text-anchor="middle" x="116.20" y="280.30" stroke="#000" stroke-width="0.12">303.2330</text>
<text font-size="4.8" fill="#8e2448" text-anchor="middle" font-weight="bold" x="102.30" y="293.20">FA1</text>
<text font-size="4.9" fill="#1e1e1e" text-anchor="middle" x="106.90" y="297.50" stroke="#000" stroke-width="0.12">283.2644</text>
<text font-size="4.8" fill="#8e2448" text-anchor="middle" font-weight="bold" x="136.20" y="286.30">FA2'(KE)-IP-H₂O</text>
<text font-size="4.9" fill="#1e1e1e" text-anchor="middle" x="136.20" y="291.00" stroke="#000" stroke-width="0.12">419.2571</text>
<text font-size="4.8" fill="#8e2448" text-anchor="middle" font-weight="bold" x="150.00" y="314.00">FA2'(KE)-IP</text>
<text font-size="4.9" fill="#1e1e1e" text-anchor="middle" x="146.90" y="319.50" stroke="#000" stroke-width="0.12">437.2686</text>
<text font-size="4.8" fill="#8e2448" text-anchor="middle" font-weight="bold" x="172.50" y="289.60">FA2'</text>
<text font-size="4.9" fill="#1e1e1e" text-anchor="middle" x="175.00" y="294.00" stroke="#000" stroke-width="0.12">581.3098</text>
<text font-size="4.8" fill="#8e2448" text-anchor="middle" font-weight="bold" x="180.20" y="309.70">FA1'</text>
<text font-size="4.9" fill="#1e1e1e" text-anchor="middle" x="183.10" y="315.50" stroke="#000" stroke-width="0.12">601.2750</text>
<text font-size="4.9" fill="#1e1e1e" text-anchor="middle" x="241.20" y="228.00" stroke="#000" stroke-width="0.12">[M-H]⁻</text>
<text font-size="4.9" fill="#1e1e1e" text-anchor="middle" x="242.50" y="234.30" stroke="#000" stroke-width="0.12">885.5506</text>
<text font-size="4.9" fill="#a02e55" text-anchor="middle" x="61.50" y="321.50">IP</text>
<polyline points="75.80,209.40 81.00,206.20 86.20,209.40 91.40,206.20 96.60,209.40 101.80,206.20 107.00,209.40 112.20,206.20 117.40,209.40 122.60,206.20 127.80,209.40 133.00,206.20 138.20,209.40 143.40,206.20 148.60,209.40 153.80,206.20 159.00,209.40 164.20,206.20" fill="none" stroke="#111" stroke-width="1.05" stroke-linejoin="miter" stroke-linecap="round"/>
<polyline points="72.30,216.30 78.10,219.50 83.30,216.30 88.50,219.50 94.20,216.30 99.40,219.50 104.60,216.30 111.00,216.30 116.10,219.50 120.70,216.30 127.70,216.30 132.00,219.50 136.20,216.30 143.00,216.30 147.30,219.50 151.50,216.30 158.50,216.30 162.70,219.50 167.90,216.30 173.50,219.50" fill="none" stroke="#111" stroke-width="1.05" stroke-linejoin="miter" stroke-linecap="round"/>
<line x1="105.40" y1="217.40" x2="110.20" y2="217.40" stroke="#111" stroke-width="1.05"/>
<line x1="121.50" y1="217.40" x2="126.90" y2="217.40" stroke="#111" stroke-width="1.05"/>
<line x1="137.00" y1="217.40" x2="142.20" y2="217.40" stroke="#111" stroke-width="1.05"/>
<line x1="152.30" y1="217.40" x2="157.70" y2="217.40" stroke="#111" stroke-width="1.05"/>
<line x1="163.50" y1="206.20" x2="163.50" y2="199.20" stroke="#111" stroke-width="0.9"/>
<line x1="164.90" y1="206.20" x2="164.90" y2="199.20" stroke="#111" stroke-width="0.9"/>
<line x1="173.80" y1="219.50" x2="173.80" y2="226.50" stroke="#111" stroke-width="0.9"/>
<line x1="175.20" y1="219.50" x2="175.20" y2="226.50" stroke="#111" stroke-width="0.9"/>
<polyline points="164.20,206.20 168.50,209.40 172.70,206.20 177.00,209.40 181.20,207.00 185.50,209.40 189.50,206.60 193.00,208.50 196.30,207.50" fill="none" stroke="#111" stroke-width="1.05" stroke-linejoin="miter" stroke-linecap="round"/>
<polyline points="174.50,219.50 178.00,216.20 181.20,213.00 181.20,207.00" fill="none" stroke="#111" stroke-width="1.05" stroke-linejoin="miter" stroke-linecap="round"/>
<line x1="195.70" y1="207.50" x2="195.70" y2="201.50" stroke="#111" stroke-width="0.8"/>
<line x1="196.90" y1="207.50" x2="196.90" y2="201.50" stroke="#111" stroke-width="0.8"/>
<line x1="196.30" y1="207.50" x2="196.30" y2="214.50" stroke="#111" stroke-width="0.8"/>
<polyline points="196.30,207.50 202.00,210.00 207.50,208.50" fill="none" stroke="#111" stroke-width="0.85" stroke-linejoin="miter" stroke-linecap="round"/>
<polyline points="207.50,208.50 216.00,201.50 228.50,203.20 240.00,201.30 236.50,209.80 224.00,211.30 207.50,208.50" fill="none" stroke="#111" stroke-width="0.9" stroke-linejoin="miter" stroke-linecap="round"/>
<line x1="216.00" y1="201.50" x2="216.00" y2="206.50" stroke="#111" stroke-width="0.7"/>
<line x1="228.50" y1="203.20" x2="228.50" y2="198.80" stroke="#111" stroke-width="0.7"/>
<line x1="224.00" y1="211.30" x2="224.00" y2="215.00" stroke="#111" stroke-width="0.7"/>
<line x1="240.00" y1="201.30" x2="243.50" y2="202.00" stroke="#111" stroke-width="0.7"/>
<line x1="236.50" y1="209.80" x2="239.50" y2="211.50" stroke="#111" stroke-width="0.7"/>
<line x1="168.70" y1="198.00" x2="182.50" y2="198.00" stroke="#555" stroke-width="0.55" stroke-dasharray="0.7,0.55"/>
<line x1="168.70" y1="198.00" x2="168.70" y2="204.00" stroke="#555" stroke-width="0.55" stroke-dasharray="0.7,0.55"/>
<line x1="175.00" y1="213.00" x2="189.00" y2="213.00" stroke="#555" stroke-width="0.55" stroke-dasharray="0.7,0.55"/>
<line x1="177.50" y1="222.00" x2="190.00" y2="222.00" stroke="#555" stroke-width="0.55" stroke-dasharray="0.7,0.55"/>
<line x1="177.50" y1="222.00" x2="177.50" y2="219.00" stroke="#555" stroke-width="0.55" stroke-dasharray="0.7,0.55"/>
<line x1="186.00" y1="219.00" x2="196.00" y2="219.00" stroke="#555" stroke-width="0.55" stroke-dasharray="0.7,0.55"/>
<line x1="194.50" y1="196.50" x2="194.50" y2="206.00" stroke="#555" stroke-width="0.55" stroke-dasharray="0.7,0.55"/>
<text font-size="3.0" fill="#7d2c4c" x="170.00" y="196.50">FA2-H₂O</text>
<text font-size="3.0" fill="#7d2c4c" x="169.50" y="204.00">KE</text>
<text font-size="3.0" fill="#7d2c4c" x="160.00" y="213.00">FA1</text>
<text font-size="3.0" fill="#7d2c4c" x="178.00" y="224.80">FA1(KE)</text>
<text font-size="3.0" fill="#7d2c4c" x="186.00" y="217.80">FA1-H₂O</text>
<text font-size="3.0" fill="#222" x="211.00" y="201.00">HO</text>
<text font-size="3.0" fill="#222" x="225.00" y="198.00">OH</text>
<text font-size="3.0" fill="#222" x="243.50" y="201.50">OH</text>
<text font-size="3.0" fill="#222" x="239.50" y="213.00">OH</text>
<text font-size="3.0" fill="#222" x="222.00" y="218.00">OH</text>
<text font-size="3.0" fill="#222" x="193.00" y="196.00">O</text>
<text font-size="3.0" fill="#222" x="197.50" y="217.00">O⁻</text>
<text font-size="3.0" fill="#222" x="172.00" y="228.00">O</text>
<text font-size="14" fill="#000" font-weight="bold" x="263.50" y="186.90" stroke="#000" stroke-width="0.35">D</text>
<text font-size="6.5" fill="#222" textLength="21" lengthAdjust="spacingAndGlyphs" x="295.00" y="194.30" stroke="#222" stroke-width="0.15">CL 72:7</text>
<text font-size="6.5" fill="#222" textLength="62.5" lengthAdjust="spacingAndGlyphs" x="295.00" y="202.00" stroke="#222" stroke-width="0.15">CL 18:2-18:2-18:2-18:1</text>
<line x1="312.91" y1="327.00" x2="312.91" y2="325.18" stroke="#9a2048" stroke-width="1.1"/>
<line x1="314.93" y1="327.00" x2="314.93" y2="325.64" stroke="#9a2048" stroke-width="1.1"/>
<line x1="318.01" y1="327.00" x2="318.01" y2="307.21" stroke="#9a2048" stroke-width="1.1"/>
<line x1="320.29" y1="327.00" x2="320.29" y2="325.64" stroke="#9a2048" stroke-width="1.1"/>
<line x1="324.32" y1="327.00" x2="324.32" y2="325.64" stroke="#9a2048" stroke-width="1.1"/>
<line x1="326.33" y1="327.00" x2="326.33" y2="325.64" stroke="#9a2048" stroke-width="1.1"/>
<line x1="329.69" y1="327.00" x2="329.69" y2="325.18" stroke="#9a2048" stroke-width="1.1"/>
<line x1="331.70" y1="327.00" x2="331.70" y2="324.28" stroke="#9a2048" stroke-width="1.1"/>
<line x1="332.64" y1="327.00" x2="332.64" y2="325.18" stroke="#9a2048" stroke-width="1.1"/>
<line x1="334.12" y1="327.00" x2="334.12" y2="322.46" stroke="#9a2048" stroke-width="1.1"/>
<line x1="334.65" y1="327.00" x2="334.65" y2="299.76" stroke="#9a2048" stroke-width="1.1"/>
<line x1="334.92" y1="327.00" x2="334.92" y2="236.20" stroke="#9a2048" stroke-width="1.1"/>
<line x1="335.19" y1="327.00" x2="335.19" y2="237.11" stroke="#9a2048" stroke-width="1.1"/>
<line x1="335.46" y1="327.00" x2="335.46" y2="238.92" stroke="#9a2048" stroke-width="1.1"/>
<line x1="335.73" y1="327.00" x2="335.73" y2="308.84" stroke="#9a2048" stroke-width="1.1"/>
<line x1="337.34" y1="327.00" x2="337.34" y2="272.52" stroke="#9a2048" stroke-width="1.1"/>
<line x1="337.74" y1="327.00" x2="337.74" y2="313.38" stroke="#9a2048" stroke-width="1.1"/>
<line x1="338.95" y1="327.00" x2="338.95" y2="323.37" stroke="#9a2048" stroke-width="1.1"/>
<line x1="340.29" y1="327.00" x2="340.29" y2="325.18" stroke="#9a2048" stroke-width="1.1"/>
<line x1="342.17" y1="327.00" x2="342.17" y2="325.64" stroke="#9a2048" stroke-width="1.1"/>
<line x1="345.79" y1="327.00" x2="345.79" y2="325.64" stroke="#9a2048" stroke-width="1.1"/>
<line x1="350.49" y1="327.00" x2="350.49" y2="325.18" stroke="#9a2048" stroke-width="1.1"/>
<line x1="351.83" y1="327.00" x2="351.83" y2="322.46" stroke="#9a2048" stroke-width="1.1"/>
<line x1="352.50" y1="327.00" x2="352.50" y2="319.74" stroke="#9a2048" stroke-width="1.1"/>
<line x1="353.17" y1="327.00" x2="353.17" y2="303.39" stroke="#9a2048" stroke-width="1.1"/>
<line x1="353.44" y1="327.00" x2="353.44" y2="304.30" stroke="#9a2048" stroke-width="1.1"/>
<line x1="353.98" y1="327.00" x2="353.98" y2="313.38" stroke="#9a2048" stroke-width="1.1"/>
<line x1="354.51" y1="327.00" x2="354.51" y2="322.46" stroke="#9a2048" stroke-width="1.1"/>
<line x1="355.32" y1="327.00" x2="355.32" y2="324.28" stroke="#9a2048" stroke-width="1.1"/>
<line x1="357.47" y1="327.00" x2="357.47" y2="321.55" stroke="#9a2048" stroke-width="1.1"/>
<line x1="358.54" y1="327.00" x2="358.54" y2="325.18" stroke="#9a2048" stroke-width="1.1"/>
<line x1="360.55" y1="327.00" x2="360.55" y2="325.64" stroke="#9a2048" stroke-width="1.1"/>
<line x1="367.26" y1="327.00" x2="367.26" y2="326.09" stroke="#9a2048" stroke-width="1.1"/>
<line x1="378.00" y1="327.00" x2="378.00" y2="326.09" stroke="#9a2048" stroke-width="1.1"/>
<line x1="386.68" y1="327.00" x2="386.68" y2="316.10" stroke="#9a2048" stroke-width="1.1"/>
<line x1="394.71" y1="327.00" x2="394.71" y2="299.31" stroke="#9a2048" stroke-width="1.1"/>
<line x1="454.45" y1="327.00" x2="454.45" y2="325.18" stroke="#222" stroke-width="0.8"/>
<line x1="311.10" y1="233.10" x2="311.10" y2="327.70" stroke="#000" stroke-width="1.5"/>
<line x1="308.10" y1="327.00" x2="502.70" y2="327.00" stroke="#000" stroke-width="1.5"/>
<line x1="307.70" y1="327.00" x2="311.10" y2="327.00" stroke="#000" stroke-width="1.2"/>
<text font-size="6.9" fill="#111" text-anchor="end" transform="translate(305.50 329.40) scale(0.9 1)" stroke="#111" stroke-width="0.12">0</text>
<line x1="307.70" y1="281.60" x2="311.10" y2="281.60" stroke="#000" stroke-width="1.2"/>
<text font-size="6.9" fill="#111" text-anchor="end" transform="translate(305.50 284.00) scale(0.9 1)" stroke="#111" stroke-width="0.12">50</text>
<line x1="307.70" y1="236.20" x2="311.10" y2="236.20" stroke="#000" stroke-width="1.2"/>
<text font-size="6.9" fill="#111" text-anchor="end" transform="translate(305.50 238.60) scale(0.9 1)" stroke="#111" stroke-width="0.12">100</text>
<line x1="310.90" y1="327.00" x2="310.90" y2="330.00" stroke="#000" stroke-width="1.15"/>
<line x1="324.32" y1="327.00" x2="324.32" y2="330.00" stroke="#000" stroke-width="1.15"/>
<line x1="337.74" y1="327.00" x2="337.74" y2="330.00" stroke="#000" stroke-width="1.15"/>
<line x1="351.16" y1="327.00" x2="351.16" y2="330.00" stroke="#000" stroke-width="1.15"/>
<line x1="364.58" y1="327.00" x2="364.58" y2="330.00" stroke="#000" stroke-width="1.15"/>
<line x1="378.00" y1="327.00" x2="378.00" y2="330.00" stroke="#000" stroke-width="1.15"/>
<line x1="391.42" y1="327.00" x2="391.42" y2="330.00" stroke="#000" stroke-width="1.15"/>
<line x1="404.84" y1="327.00" x2="404.84" y2="330.00" stroke="#000" stroke-width="1.15"/>
<line x1="418.26" y1="327.00" x2="418.26" y2="330.00" stroke="#000" stroke-width="1.15"/>
<line x1="431.68" y1="327.00" x2="431.68" y2="330.00" stroke="#000" stroke-width="1.15"/>
<line x1="445.10" y1="327.00" x2="445.10" y2="330.00" stroke="#000" stroke-width="1.15"/>
<line x1="458.52" y1="327.00" x2="458.52" y2="330.00" stroke="#000" stroke-width="1.15"/>
<line x1="471.94" y1="327.00" x2="471.94" y2="330.00" stroke="#000" stroke-width="1.15"/>
<line x1="485.36" y1="327.00" x2="485.36" y2="330.00" stroke="#000" stroke-width="1.15"/>
<line x1="498.78" y1="327.00" x2="498.78" y2="330.00" stroke="#000" stroke-width="1.15"/>
<line x1="313.58" y1="327.00" x2="313.58" y2="329.00" stroke="#000" stroke-width="0.75"/>
<line x1="316.27" y1="327.00" x2="316.27" y2="329.00" stroke="#000" stroke-width="0.75"/>
<line x1="318.95" y1="327.00" x2="318.95" y2="329.00" stroke="#000" stroke-width="0.75"/>
<line x1="321.64" y1="327.00" x2="321.64" y2="329.00" stroke="#000" stroke-width="0.75"/>
<line x1="327.00" y1="327.00" x2="327.00" y2="329.00" stroke="#000" stroke-width="0.75"/>
<line x1="329.69" y1="327.00" x2="329.69" y2="329.00" stroke="#000" stroke-width="0.75"/>
<line x1="332.37" y1="327.00" x2="332.37" y2="329.00" stroke="#000" stroke-width="0.75"/>
<line x1="335.06" y1="327.00" x2="335.06" y2="329.00" stroke="#000" stroke-width="0.75"/>
<line x1="340.42" y1="327.00" x2="340.42" y2="329.00" stroke="#000" stroke-width="0.75"/>
<line x1="343.11" y1="327.00" x2="343.11" y2="329.00" stroke="#000" stroke-width="0.75"/>
<line x1="345.79" y1="327.00" x2="345.79" y2="329.00" stroke="#000" stroke-width="0.75"/>
<line x1="348.48" y1="327.00" x2="348.48" y2="329.00" stroke="#000" stroke-width="0.75"/>
<line x1="353.84" y1="327.00" x2="353.84" y2="329.00" stroke="#000" stroke-width="0.75"/>
<line x1="356.53" y1="327.00" x2="356.53" y2="329.00" stroke="#000" stroke-width="0.75"/>
<line x1="359.21" y1="327.00" x2="359.21" y2="329.00" stroke="#000" stroke-width="0.75"/>
<line x1="361.90" y1="327.00" x2="361.90" y2="329.00" stroke="#000" stroke-width="0.75"/>
<line x1="367.26" y1="327.00" x2="367.26" y2="329.00" stroke="#000" stroke-width="0.75"/>
<line x1="369.95" y1="327.00" x2="369.95" y2="329.00" stroke="#000" stroke-width="0.75"/>
<line x1="372.63" y1="327.00" x2="372.63" y2="329.00" stroke="#000" stroke-width="0.75"/>
<line x1="375.32" y1="327.00" x2="375.32" y2="329.00" stroke="#000" stroke-width="0.75"/>
<line x1="380.68" y1="327.00" x2="380.68" y2="329.00" stroke="#000" stroke-width="0.75"/>
<line x1="383.37" y1="327.00" x2="383.37" y2="329.00" stroke="#000" stroke-width="0.75"/>
<line x1="386.05" y1="327.00" x2="386.05" y2="329.00" stroke="#000" stroke-width="0.75"/>
<line x1="388.74" y1="327.00" x2="388.74" y2="329.00" stroke="#000" stroke-width="0.75"/>
<line x1="394.10" y1="327.00" x2="394.10" y2="329.00" stroke="#000" stroke-width="0.75"/>
<line x1="396.79" y1="327.00" x2="396.79" y2="329.00" stroke="#000" stroke-width="0.75"/>
<line x1="399.47" y1="327.00" x2="399.47" y2="329.00" stroke="#000" stroke-width="0.75"/>
<line x1="402.16" y1="327.00" x2="402.16" y2="329.00" stroke="#000" stroke-width="0.75"/>
<line x1="407.52" y1="327.00" x2="407.52" y2="329.00" stroke="#000" stroke-width="0.75"/>
<line x1="410.21" y1="327.00" x2="410.21" y2="329.00" stroke="#000" stroke-width="0.75"/>
<line x1="412.89" y1="327.00" x2="412.89" y2="329.00" stroke="#000" stroke-width="0.75"/>
<line x1="415.58" y1="327.00" x2="415.58" y2="329.00" stroke="#000" stroke-width="0.75"/>
<line x1="420.94" y1="327.00" x2="420.94" y2="329.00" stroke="#000" stroke-width="0.75"/>
<line x1="423.63" y1="327.00" x2="423.63" y2="329.00" stroke="#000" stroke-width="0.75"/>
<line x1="426.31" y1="327.00" x2="426.31" y2="329.00" stroke="#000" stroke-width="0.75"/>
<line x1="429.00" y1="327.00" x2="429.00" y2="329.00" stroke="#000" stroke-width="0.75"/>
<line x1="434.36" y1="327.00" x2="434.36" y2="329.00" stroke="#000" stroke-width="0.75"/>
<line x1="437.05" y1="327.00" x2="437.05" y2="329.00" stroke="#000" stroke-width="0.75"/>
<line x1="439.73" y1="327.00" x2="439.73" y2="329.00" stroke="#000" stroke-width="0.75"/>
<line x1="442.42" y1="327.00" x2="442.42" y2="329.00" stroke="#000" stroke-width="0.75"/>
<line x1="447.78" y1="327.00" x2="447.78" y2="329.00" stroke="#000" stroke-width="0.75"/>
<line x1="450.47" y1="327.00" x2="450.47" y2="329.00" stroke="#000" stroke-width="0.75"/>
<line x1="453.15" y1="327.00" x2="453.15" y2="329.00" stroke="#000" stroke-width="0.75"/>
<line x1="455.84" y1="327.00" x2="455.84" y2="329.00" stroke="#000" stroke-width="0.75"/>
<line x1="461.20" y1="327.00" x2="461.20" y2="329.00" stroke="#000" stroke-width="0.75"/>
<line x1="463.89" y1="327.00" x2="463.89" y2="329.00" stroke="#000" stroke-width="0.75"/>
<line x1="466.57" y1="327.00" x2="466.57" y2="329.00" stroke="#000" stroke-width="0.75"/>
<line x1="469.26" y1="327.00" x2="469.26" y2="329.00" stroke="#000" stroke-width="0.75"/>
<line x1="474.62" y1="327.00" x2="474.62" y2="329.00" stroke="#000" stroke-width="0.75"/>
<line x1="477.31" y1="327.00" x2="477.31" y2="329.00" stroke="#000" stroke-width="0.75"/>
<line x1="479.99" y1="327.00" x2="479.99" y2="329.00" stroke="#000" stroke-width="0.75"/>
<line x1="482.68" y1="327.00" x2="482.68" y2="329.00" stroke="#000" stroke-width="0.75"/>
<line x1="488.04" y1="327.00" x2="488.04" y2="329.00" stroke="#000" stroke-width="0.75"/>
<line x1="490.73" y1="327.00" x2="490.73" y2="329.00" stroke="#000" stroke-width="0.75"/>
<line x1="493.41" y1="327.00" x2="493.41" y2="329.00" stroke="#000" stroke-width="0.75"/>
<line x1="496.10" y1="327.00" x2="496.10" y2="329.00" stroke="#000" stroke-width="0.75"/>
<text font-size="6.5" fill="#111" text-anchor="middle" transform="translate(310.90 339.90) scale(0.95 1)" stroke="#111" stroke-width="0.12">100</text>
<text font-size="6.5" fill="#111" text-anchor="middle" transform="translate(337.74 339.90) scale(0.95 1)" stroke="#111" stroke-width="0.12">300</text>
<text font-size="6.5" fill="#111" text-anchor="middle" transform="translate(364.58 339.90) scale(0.95 1)" stroke="#111" stroke-width="0.12">500</text>
<text font-size="6.5" fill="#111" text-anchor="middle" transform="translate(391.42 339.90) scale(0.95 1)" stroke="#111" stroke-width="0.12">700</text>
<text font-size="6.5" fill="#111" text-anchor="middle" transform="translate(418.26 339.90) scale(0.95 1)" stroke="#111" stroke-width="0.12">900</text>
<text font-size="6.5" fill="#111" text-anchor="middle" transform="translate(445.10 339.90) scale(0.95 1)" stroke="#111" stroke-width="0.12">1100</text>
<text font-size="6.5" fill="#111" text-anchor="middle" transform="translate(471.94 339.90) scale(0.95 1)" stroke="#111" stroke-width="0.12">1300</text>
<text font-size="6.5" fill="#111" text-anchor="middle" transform="translate(498.78 339.90) scale(0.95 1)" stroke="#111" stroke-width="0.12">1500</text>
<text font-size="8.3" fill="#111" text-anchor="middle" textLength="59" lengthAdjust="spacingAndGlyphs" transform="translate(288.30 280.50) rotate(-90.00)" stroke="#111" stroke-width="0.12">Relative abundance</text>
<text font-size="7.4" fill="#1a1a1a" text-anchor="middle" x="406.50" y="350.20">m/z</text>
<text font-size="5.2" fill="#333" text-anchor="middle" x="319.20" y="249.20">(-)</text>
<text font-size="4.8" fill="#8e2448" text-anchor="middle" font-weight="bold" x="319.30" y="299.60">GP</text>
<text font-size="4.9" fill="#1e1e1e" text-anchor="middle" x="322.70" y="305.10" stroke="#000" stroke-width="0.12">152.9946</text>
<text font-size="4.9" fill="#1e1e1e" text-anchor="middle" x="383.80" y="313.40" stroke="#000" stroke-width="0.12">664.6674</text>
<text font-size="4.9" fill="#1e1e1e" text-anchor="middle" x="395.80" y="291.30" stroke="#000" stroke-width="0.12">[M-2H]²⁻</text>
<text font-size="4.9" fill="#1e1e1e" text-anchor="middle" x="396.70" y="297.10" stroke="#000" stroke-width="0.12">724.5258</text>
<text font-size="4.8" fill="#8e2448" text-anchor="middle" font-weight="bold" font-style="italic" x="457.90" y="317.00">FA1'/FA2'/FA3'</text>
<text font-size="4.9" fill="#1e1e1e" text-anchor="middle" x="457.90" y="321.50" stroke="#000" stroke-width="0.12">1169.7380</text>
<linearGradient id="gD" x1="0" y1="0" x2="0" y2="1"><stop offset="0" stop-color="#b87a92"/><stop offset="0.6" stop-color="#a8506e"/><stop offset="1" stop-color="#8e1a40"/></linearGradient>
<rect x="333.2" y="235.4" width="3.3" height="91.6" fill="url(#gD)"/>
<line x1="338.30" y1="233.00" x2="338.30" y2="324.00" stroke="#8f8f8f" stroke-width="0.8" stroke-dasharray="2.2,1.4"/>
<line x1="334.50" y1="232.80" x2="338.30" y2="232.80" stroke="#8f8f8f" stroke-width="0.8"/>
<line x1="345.80" y1="298.30" x2="355.60" y2="298.30" stroke="#8f8f8f" stroke-width="0.8"/>
<line x1="355.20" y1="298.30" x2="355.20" y2="324.00" stroke="#8f8f8f" stroke-width="0.8" stroke-dasharray="2.2,1.4"/>
<rect x="340.2" y="227.8" width="46" height="70.3" fill="#fff" stroke="none"/>
<line x1="340.20" y1="229.00" x2="340.20" y2="298.00" stroke="#8f8f8f" stroke-width="0.8" stroke-dasharray="2.2,1.4"/>
<line x1="386.20" y1="227.80" x2="386.20" y2="298.00" stroke="#8f8f8f" stroke-width="0.8" stroke-dasharray="2.2,1.4"/>
<line x1="344.00" y1="227.80" x2="384.00" y2="227.80" stroke="#8f8f8f" stroke-width="0.8" stroke-dasharray="7,2.5"/>
<line x1="344.50" y1="298.30" x2="385.00" y2="298.30" stroke="#8f8f8f" stroke-width="0.8" stroke-dasharray="10.5,5.5,13.6,2"/>
<line x1="361.50" y1="279.20" x2="361.50" y2="240.00" stroke="#9a2048" stroke-width="1.0"/>
<path d="M361.8 279.2 L362.3 268.5 L363.3 270 L364.5 272 L365.5 275 L366.5 279.2 Z" fill="#9a2048"/>
<line x1="352.80" y1="237.70" x2="352.80" y2="279.60" stroke="#000" stroke-width="1.0"/>
<line x1="352.40" y1="279.20" x2="383.80" y2="279.20" stroke="#000" stroke-width="1.0"/>
<line x1="350.60" y1="240.00" x2="352.80" y2="240.00" stroke="#000" stroke-width="0.7"/>
<line x1="350.60" y1="250.00" x2="352.80" y2="250.00" stroke="#000" stroke-width="0.7"/>
<line x1="350.60" y1="259.60" x2="352.80" y2="259.60" stroke="#000" stroke-width="0.7"/>
<line x1="350.60" y1="269.40" x2="352.80" y2="269.40" stroke="#000" stroke-width="0.7"/>
<line x1="350.60" y1="279.20" x2="352.80" y2="279.20" stroke="#000" stroke-width="0.7"/>
<line x1="356.60" y1="279.20" x2="356.60" y2="281.00" stroke="#000" stroke-width="0.7"/>
<line x1="361.50" y1="279.20" x2="361.50" y2="281.00" stroke="#000" stroke-width="0.7"/>
<line x1="366.40" y1="279.20" x2="366.40" y2="281.00" stroke="#000" stroke-width="0.7"/>
<line x1="371.20" y1="279.20" x2="371.20" y2="281.00" stroke="#000" stroke-width="0.7"/>
<line x1="376.00" y1="279.20" x2="376.00" y2="281.00" stroke="#000" stroke-width="0.7"/>
<line x1="380.80" y1="279.20" x2="380.80" y2="281.00" stroke="#000" stroke-width="0.7"/>
<text font-size="5.0" fill="#1e1e1e" text-anchor="end" transform="translate(350.00 241.80) scale(0.86 1)">100</text>
<text font-size="5.0" fill="#1e1e1e" text-anchor="end" transform="translate(350.00 281.00) scale(0.86 1)">0</text>
<text font-size="5.2" fill="#1e1e1e" text-anchor="middle" transform="translate(361.50 288.30) scale(0.86 1)">280</text>
<text font-size="5.2" fill="#1e1e1e" text-anchor="middle" transform="translate(380.80 288.30) scale(0.86 1)">300</text>
<text font-size="7.6" fill="#1e1e1e" text-anchor="middle" font-style="italic" x="368.80" y="295.80">m/z</text>
<text font-size="5.2" fill="#8e2448" text-anchor="middle" transform="translate(362.00 233.80) scale(0.86 1)">FA1 /FA2/FA3</text>
<text font-size="5.2" fill="#1e1e1e" text-anchor="middle" transform="translate(364.50 238.70) scale(0.86 1)">279.2329</text>
<text font-size="5.2" fill="#8e2448" text-anchor="middle" transform="translate(371.50 259.20) scale(0.86 1)">FA4</text>
<text font-size="5.2" fill="#1e1e1e" text-anchor="middle" transform="translate(372.50 264.00) scale(0.86 1)">281.2490</text>
<text font-size="5.2" fill="#1e1e1e" text-anchor="middle" transform="translate(374.50 271.60) scale(0.86 1)">283.2643</text>
<rect x="415" y="227.8" width="43" height="70.3" fill="#fff" stroke="none"/>
<line x1="415.00" y1="229.00" x2="415.00" y2="298.00" stroke="#8f8f8f" stroke-width="0.8" stroke-dasharray="2.2,1.4"/>
<line x1="458.00" y1="227.80" x2="458.00" y2="298.00" stroke="#8f8f8f" stroke-width="0.8" stroke-dasharray="2.2,1.4"/>
<line x1="416.50" y1="227.80" x2="457.00" y2="227.80" stroke="#8f8f8f" stroke-width="0.8" stroke-dasharray="2.2,1.6"/>
<line x1="415.00" y1="298.30" x2="458.00" y2="298.30" stroke="#8f8f8f" stroke-width="0.8" stroke-dasharray="2.2,1.6"/>
<path d="M433.2 279.2 L434.5 240 L435.8 279.2 Z" fill="#9a2048"/>
<path d="M436 279.2 L439.2 256 L441 279.2 Z" fill="#8e8ec2" opacity="0.9"/>
<path d="M439.5 279.2 L441.2 257.7 L443 279.2 Z" fill="#9a2048"/>
<line x1="426.50" y1="236.00" x2="426.50" y2="279.60" stroke="#000" stroke-width="1.0"/>
<line x1="426.10" y1="279.20" x2="451.00" y2="279.20" stroke="#000" stroke-width="1.0"/>
<line x1="424.30" y1="279.20" x2="426.50" y2="279.20" stroke="#000" stroke-width="0.5"/>
<line x1="425.20" y1="277.24" x2="426.50" y2="277.24" stroke="#000" stroke-width="0.5"/>
<line x1="425.20" y1="275.28" x2="426.50" y2="275.28" stroke="#000" stroke-width="0.5"/>
<line x1="425.20" y1="273.32" x2="426.50" y2="273.32" stroke="#000" stroke-width="0.5"/>
<line x1="425.20" y1="271.36" x2="426.50" y2="271.36" stroke="#000" stroke-width="0.5"/>
<line x1="424.30" y1="269.40" x2="426.50" y2="269.40" stroke="#000" stroke-width="0.5"/>
<line x1="425.20" y1="267.44" x2="426.50" y2="267.44" stroke="#000" stroke-width="0.5"/>
<line x1="425.20" y1="265.48" x2="426.50" y2="265.48" stroke="#000" stroke-width="0.5"/>
<line x1="425.20" y1="263.52" x2="426.50" y2="263.52" stroke="#000" stroke-width="0.5"/>
<line x1="425.20" y1="261.56" x2="426.50" y2="261.56" stroke="#000" stroke-width="0.5"/>
<line x1="424.30" y1="259.60" x2="426.50" y2="259.60" stroke="#000" stroke-width="0.5"/>
<line x1="425.20" y1="257.64" x2="426.50" y2="257.64" stroke="#000" stroke-width="0.5"/>
<line x1="425.20" y1="255.68" x2="426.50" y2="255.68" stroke="#000" stroke-width="0.5"/>
<line x1="425.20" y1="253.72" x2="426.50" y2="253.72" stroke="#000" stroke-width="0.5"/>
<line x1="425.20" y1="251.76" x2="426.50" y2="251.76" stroke="#000" stroke-width="0.5"/>
<line x1="424.30" y1="249.80" x2="426.50" y2="249.80" stroke="#000" stroke-width="0.5"/>
<line x1="425.20" y1="247.84" x2="426.50" y2="247.84" stroke="#000" stroke-width="0.5"/>
<line x1="425.20" y1="245.88" x2="426.50" y2="245.88" stroke="#000" stroke-width="0.5"/>
<line x1="425.20" y1="243.92" x2="426.50" y2="243.92" stroke="#000" stroke-width="0.5"/>
<line x1="425.20" y1="241.96" x2="426.50" y2="241.96" stroke="#000" stroke-width="0.5"/>
<line x1="424.30" y1="240.00" x2="426.50" y2="240.00" stroke="#000" stroke-width="0.5"/>
<line x1="428.00" y1="279.20" x2="428.00" y2="281.00" stroke="#000" stroke-width="0.7"/>
<line x1="434.60" y1="279.20" x2="434.60" y2="281.00" stroke="#000" stroke-width="0.7"/>
<line x1="441.20" y1="279.20" x2="441.20" y2="281.00" stroke="#000" stroke-width="0.7"/>
<line x1="447.80" y1="279.20" x2="447.80" y2="281.00" stroke="#000" stroke-width="0.7"/>
<text font-size="5.0" fill="#1e1e1e" text-anchor="end" transform="translate(424.00 241.60) scale(0.86 1)">100</text>
<text font-size="5.0" fill="#1e1e1e" text-anchor="end" transform="translate(424.60 281.00) scale(0.86 1)">0</text>
<text font-size="5.2" fill="#1e1e1e" text-anchor="middle" transform="translate(428.00 287.30) scale(0.86 1)">410</text>
<text font-size="5.2" fill="#1e1e1e" text-anchor="middle" transform="translate(441.20 287.30) scale(0.86 1)">420</text>
<text font-size="7.6" fill="#1e1e1e" text-anchor="middle" x="439.60" y="295.30">m/z</text>
<text font-size="5.2" fill="#8e2448" text-anchor="middle" transform="translate(440.00 233.20) scale(0.86 1)">L1/L2/L3</text>
<text font-size="5.2" fill="#1e1e1e" text-anchor="middle" transform="translate(441.00 238.00) scale(0.86 1)">415.2257</text>
<text font-size="5.2" fill="#8e2448" text-anchor="middle" transform="translate(446.00 249.40) scale(0.86 1)">L4</text>
<text font-size="5.2" fill="#1e1e1e" text-anchor="middle" transform="translate(445.80 254.00) scale(0.86 1)">417.2410</text>
<polyline points="369.20,186.50 374.40,183.10 380.20,186.50 385.40,183.10 390.60,186.50 395.80,183.10 401.30,183.10 406.10,186.50 411.30,183.10 418.50,183.10 423.85,186.50 429.20,183.10 434.55,186.50 439.90,183.10 445.25,186.50 450.60,183.10 455.95,186.50 461.30,183.10" fill="none" stroke="#111" stroke-width="1.05" stroke-linejoin="miter" stroke-linecap="round"/>
<line x1="396.60" y1="184.20" x2="400.50" y2="184.20" stroke="#111" stroke-width="1.05"/>
<line x1="412.10" y1="184.20" x2="417.70" y2="184.20" stroke="#111" stroke-width="1.05"/>
<polyline points="380.20,192.30 385.40,195.80 390.60,192.30 395.80,195.80 401.00,192.30 406.10,195.80 413.00,195.80 418.00,192.30 423.00,195.80 430.00,195.80 435.15,192.30 440.30,195.80 445.45,192.30 450.60,195.80 455.75,192.30 460.90,195.80 466.05,192.30 471.20,195.80" fill="none" stroke="#111" stroke-width="1.05" stroke-linejoin="miter" stroke-linecap="round"/>
<line x1="406.90" y1="194.70" x2="412.20" y2="194.70" stroke="#111" stroke-width="1.05"/>
<line x1="423.80" y1="194.70" x2="429.20" y2="194.70" stroke="#111" stroke-width="1.05"/>
<polyline points="365.20,214.80 370.40,211.70 375.60,214.80 380.80,211.70 386.00,214.80 390.60,211.70 396.90,211.70 402.10,214.80 407.30,211.70 414.20,211.70 419.61,214.80 425.02,211.70 430.43,214.80 435.84,211.70 441.25,214.80 446.66,211.70 452.07,214.80 457.48,211.70" fill="none" stroke="#111" stroke-width="1.05" stroke-linejoin="miter" stroke-linecap="round"/>
<line x1="391.40" y1="212.80" x2="396.10" y2="212.80" stroke="#111" stroke-width="1.05"/>
<line x1="408.10" y1="212.80" x2="413.40" y2="212.80" stroke="#111" stroke-width="1.05"/>
<polyline points="376.70,224.80 381.90,221.70 387.10,224.80 392.30,221.70 397.50,224.80 402.70,221.70 407.90,224.80 413.10,221.70 420.10,221.70 425.30,224.80 430.50,221.70 435.70,224.80 440.90,221.70 446.10,224.80 451.30,221.70 456.50,224.80 461.70,221.70" fill="none" stroke="#111" stroke-width="1.05" stroke-linejoin="miter" stroke-linecap="round"/>
<line x1="413.90" y1="222.80" x2="419.30" y2="222.80" stroke="#111" stroke-width="1.05"/>
<line x1="460.40" y1="183.10" x2="460.40" y2="176.10" stroke="#111" stroke-width="0.9"/>
<line x1="461.80" y1="183.10" x2="461.80" y2="176.10" stroke="#111" stroke-width="0.9"/>
<line x1="470.50" y1="195.80" x2="470.50" y2="202.80" stroke="#111" stroke-width="0.9"/>
<line x1="471.90" y1="195.80" x2="471.90" y2="202.80" stroke="#111" stroke-width="0.9"/>
<polyline points="461.10,183.10 463.80,185.50 468.50,184.10 472.50,185.50 477.30,184.10 482.10,185.50 486.00,185.30 495.00,184.10" fill="none" stroke="#111" stroke-width="1.05" stroke-linejoin="miter" stroke-linecap="round"/>
<polyline points="471.20,195.80 476.50,190.50 476.50,185.50" fill="none" stroke="#111" stroke-width="1.05" stroke-linejoin="miter" stroke-linecap="round"/>
<line x1="494.40" y1="184.10" x2="494.40" y2="178.10" stroke="#111" stroke-width="0.9"/>
<line x1="495.60" y1="184.10" x2="495.60" y2="178.10" stroke="#111" stroke-width="0.9"/>
<line x1="495.00" y1="184.10" x2="500.50" y2="185.50" stroke="#111" stroke-width="0.8"/>
<line x1="495.00" y1="184.10" x2="494.40" y2="188.10" stroke="#111" stroke-width="0.8"/>
<line x1="453.10" y1="189.50" x2="493.00" y2="189.50" stroke="#222" stroke-width="0.7" stroke-dasharray="0.8,0.6"/>
<line x1="481.10" y1="193.50" x2="505.00" y2="193.50" stroke="#222" stroke-width="0.7" stroke-dasharray="0.8,0.6"/>
<text font-size="3.0" fill="#7d2c4c" x="453.10" y="188.90">FA1</text>
<text font-size="3.0" fill="#7d2c4c" x="468.10" y="188.10">FA1-H₂O</text>
<text font-size="3.0" fill="#7d2c4c" x="481.10" y="193.10">FA2(KE)</text>
<text font-size="3.0" fill="#7d2c4c" x="464.10" y="180.10">KE</text>
<line x1="456.80" y1="211.70" x2="456.80" y2="204.70" stroke="#111" stroke-width="0.9"/>
<line x1="458.20" y1="211.70" x2="458.20" y2="204.70" stroke="#111" stroke-width="0.9"/>
<line x1="466.50" y1="224.80" x2="466.50" y2="231.80" stroke="#111" stroke-width="0.9"/>
<line x1="467.90" y1="224.80" x2="467.90" y2="231.80" stroke="#111" stroke-width="0.9"/>
<polyline points="457.50,211.70 460.20,214.10 464.90,212.70 468.90,214.10 473.70,212.70 478.50,214.10 482.40,213.90 489.00,212.70" fill="none" stroke="#111" stroke-width="1.05" stroke-linejoin="miter" stroke-linecap="round"/>
<polyline points="467.20,224.80 472.90,219.50 472.90,214.10" fill="none" stroke="#111" stroke-width="1.05" stroke-linejoin="miter" stroke-linecap="round"/>
<line x1="488.40" y1="212.70" x2="488.40" y2="206.70" stroke="#111" stroke-width="0.9"/>
<line x1="489.60" y1="212.70" x2="489.60" y2="206.70" stroke="#111" stroke-width="0.9"/>
<line x1="489.00" y1="212.70" x2="494.50" y2="214.10" stroke="#111" stroke-width="0.8"/>
<line x1="489.00" y1="212.70" x2="488.40" y2="216.70" stroke="#111" stroke-width="0.8"/>
<line x1="449.50" y1="218.10" x2="487.00" y2="218.10" stroke="#222" stroke-width="0.7" stroke-dasharray="0.8,0.6"/>
<line x1="477.50" y1="222.10" x2="499.00" y2="222.10" stroke="#222" stroke-width="0.7" stroke-dasharray="0.8,0.6"/>
<text font-size="3.0" fill="#7d2c4c" x="449.50" y="217.50">FA1</text>
<text font-size="3.0" fill="#7d2c4c" x="464.50" y="216.70">FA1-H₂O</text>
<text font-size="3.0" fill="#7d2c4c" x="477.50" y="221.70">FA2(KE)</text>
<text font-size="3.0" fill="#7d2c4c" x="460.50" y="208.70">KE</text>
<polyline points="495.00,189.00 497.80,194.90 497.10,200.30 499.80,206.30 500.50,211.00 495.80,215.10 489.00,212.70" fill="none" stroke="#111" stroke-width="0.9" stroke-linejoin="miter" stroke-linecap="round"/>
<text font-size="3.0" fill="#222" x="487.30" y="201.50">HO</text>
<text font-size="3.0" fill="#222" x="493.50" y="176.50">O</text>
<text font-size="3.0" fill="#222" x="501.50" y="187.50">O⁻</text>
<text font-size="3.0" fill="#222" x="502.00" y="196.00">O</text>
<text font-size="3.0" fill="#222" x="487.50" y="206.50">O</text>
<text font-size="3.0" fill="#222" x="494.50" y="221.00">O⁻</text>
<text font-size="14" fill="#000" font-weight="bold" transform="translate(10.80 376.00) scale(0.78 1)" stroke="#000" stroke-width="0.35">E</text>
<text font-size="9.4" fill="#1e1e1e" textLength="53.5" lengthAdjust="spacingAndGlyphs" x="49.00" y="377.20">Phospholipids</text>
<circle cx="133.20" cy="474.30" r="15.00" fill="none" stroke="#8a8a8a" stroke-width="0.6"/>
<circle cx="133.20" cy="474.30" r="17.50" fill="none" stroke="#8a8a8a" stroke-width="0.6"/>
<circle cx="133.20" cy="474.30" r="20.00" fill="none" stroke="#8a8a8a" stroke-width="0.6"/>
<circle cx="133.20" cy="474.30" r="22.50" fill="none" stroke="#8a8a8a" stroke-width="0.6"/>
<circle cx="133.20" cy="474.30" r="25.00" fill="none" stroke="#8a8a8a" stroke-width="0.6"/>
<circle cx="133.20" cy="474.30" r="27.50" fill="none" stroke="#8a8a8a" stroke-width="0.6"/>
<circle cx="133.20" cy="474.30" r="30.00" fill="none" stroke="#8a8a8a" stroke-width="0.6"/>
<circle cx="133.20" cy="474.30" r="32.50" fill="none" stroke="#8a8a8a" stroke-width="0.6"/>
<circle cx="133.20" cy="474.30" r="35.00" fill="none" stroke="#8a8a8a" stroke-width="0.6"/>
<path d="M133.20 435.80L133.20 424.30M134.41 435.82L134.77 424.32M135.62 435.88L136.34 424.40M136.82 435.97L137.91 424.52M138.03 436.10L139.47 424.69M139.22 436.27L141.02 424.92M140.41 436.48L142.57 425.19M141.60 436.73L144.11 425.50M142.77 437.01L145.63 425.87M143.94 437.33L147.15 426.29M145.10 437.68L148.65 426.75M146.24 438.08L150.14 427.26M147.37 438.50L151.61 427.81M148.49 438.97L153.06 428.41M149.59 439.46L154.49 429.06M150.68 440.00L155.90 429.75M151.75 440.56L157.29 430.48M152.80 441.16L158.65 431.26M153.83 441.79L159.99 432.08M154.84 442.46L161.30 432.95M155.83 443.15L162.59 433.85M156.80 443.88L163.85 434.79M157.74 444.64L165.07 435.77M158.66 445.42L166.27 436.79M159.56 446.23L167.43 437.85M160.42 447.08L168.56 438.94M161.27 447.94L169.65 440.07M162.08 448.84L170.71 441.23M162.86 449.76L171.73 442.43M163.62 450.70L172.71 443.65M164.35 451.67L173.65 444.91M165.04 452.66L174.55 446.20M165.71 453.67L175.42 447.51M166.34 454.70L176.24 448.85M166.94 455.75L177.02 450.21M167.50 456.82L177.75 451.60M168.04 457.91L178.44 453.01M168.53 459.01L179.09 454.44M169.00 460.13L179.69 455.89M169.42 461.26L180.24 457.36M169.82 462.40L180.75 458.85M170.17 463.56L181.21 460.35M170.49 464.73L181.63 461.87M170.77 465.90L182.00 463.39M171.02 467.09L182.31 464.93M171.23 468.28L182.58 466.48M171.40 469.47L182.81 468.03M171.53 470.68L182.98 469.59M171.62 471.88L183.10 471.16M171.68 473.09L183.18 472.73M171.70 474.30L183.20 474.30M171.68 475.51L183.18 475.87M171.62 476.72L183.10 477.44M171.53 477.92L182.98 479.01M171.40 479.13L182.81 480.57M171.23 480.32L182.58 482.12M171.02 481.51L182.31 483.67M170.77 482.70L182.00 485.21M170.49 483.87L181.63 486.73M170.17 485.04L181.21 488.25M169.82 486.20L180.75 489.75M169.42 487.34L180.24 491.24M169.00 488.47L179.69 492.71M168.53 489.59L179.09 494.16M168.04 490.69L178.44 495.59M167.50 491.78L177.75 497.00M166.94 492.85L177.02 498.39M166.34 493.90L176.24 499.75M165.71 494.93L175.42 501.09M165.04 495.94L174.55 502.40M164.35 496.93L173.65 503.69M163.62 497.90L172.71 504.95M162.86 498.84L171.73 506.17M162.08 499.76L170.71 507.37M161.27 500.66L169.65 508.53M160.42 501.52L168.56 509.66M159.56 502.37L167.43 510.75M158.66 503.18L166.27 511.81M157.74 503.96L165.07 512.83M156.80 504.72L163.85 513.81M155.83 505.45L162.59 514.75M154.84 506.14L161.30 515.65M153.83 506.81L159.99 516.52M152.80 507.44L158.65 517.34M151.75 508.04L157.29 518.12M150.68 508.60L155.90 518.85M149.59 509.14L154.49 519.54M148.49 509.63L153.06 520.19M147.37 510.10L151.61 520.79M146.24 510.52L150.14 521.34M145.10 510.92L148.65 521.85M143.94 511.27L147.15 522.31M142.77 511.59L145.63 522.73M141.60 511.87L144.11 523.10M140.41 512.12L142.57 523.41M139.22 512.33L141.02 523.68M138.03 512.50L139.47 523.91M136.82 512.63L137.91 524.08M135.62 512.72L136.34 524.20M134.41 512.78L134.77 524.28M133.20 512.80L133.20 524.30M131.99 512.78L131.63 524.28M130.78 512.72L130.06 524.20M129.58 512.63L128.49 524.08M128.37 512.50L126.93 523.91M127.18 512.33L125.38 523.68M125.99 512.12L123.83 523.41M124.80 511.87L122.29 523.10M123.63 511.59L120.77 522.73M122.46 511.27L119.25 522.31M121.30 510.92L117.75 521.85M120.16 510.52L116.26 521.34M119.03 510.10L114.79 520.79M117.91 509.63L113.34 520.19M116.81 509.14L111.91 519.54M115.72 508.60L110.50 518.85M114.65 508.04L109.11 518.12M113.60 507.44L107.75 517.34M112.57 506.81L106.41 516.52M111.56 506.14L105.10 515.65M110.57 505.45L103.81 514.75M109.60 504.72L102.55 513.81M108.66 503.96L101.33 512.83M107.74 503.18L100.13 511.81M106.84 502.37L98.97 510.75M105.98 501.52L97.84 509.66M105.13 500.66L96.75 508.53M104.32 499.76L95.69 507.37M103.54 498.84L94.67 506.17M102.78 497.90L93.69 504.95M102.05 496.93L92.75 503.69M101.36 495.94L91.85 502.40M100.69 494.93L90.98 501.09M100.06 493.90L90.16 499.75M99.46 492.85L89.38 498.39M98.90 491.78L88.65 497.00M98.36 490.69L87.96 495.59M97.87 489.59L87.31 494.16M97.40 488.47L86.71 492.71M96.98 487.34L86.16 491.24M96.58 486.20L85.65 489.75M96.23 485.04L85.19 488.25M95.91 483.87L84.77 486.73M95.63 482.70L84.40 485.21M95.38 481.51L84.09 483.67M95.17 480.32L83.82 482.12M95.00 479.13L83.59 480.57M94.87 477.92L83.42 479.01M94.78 476.72L83.30 477.44M94.72 475.51L83.22 475.87M94.70 474.30L83.20 474.30M94.72 473.09L83.22 472.73M94.78 471.88L83.30 471.16M94.87 470.68L83.42 469.59M95.00 469.47L83.59 468.03M95.17 468.28L83.82 466.48M95.38 467.09L84.09 464.93M95.63 465.90L84.40 463.39M95.91 464.73L84.77 461.87M96.23 463.56L85.19 460.35M96.58 462.40L85.65 458.85M96.98 461.26L86.16 457.36M97.40 460.13L86.71 455.89M97.87 459.01L87.31 454.44M98.36 457.91L87.96 453.01M98.90 456.82L88.65 451.60M99.46 455.75L89.38 450.21M100.06 454.70L90.16 448.85M100.69 453.67L90.98 447.51M101.36 452.66L91.85 446.20M102.05 451.67L92.75 444.91M102.78 450.70L93.69 443.65M103.54 449.76L94.67 442.43M104.32 448.84L95.69 441.23M105.13 447.94L96.75 440.07M105.98 447.08L97.84 438.94M106.84 446.23L98.97 437.85M107.74 445.42L100.13 436.79M108.66 444.64L101.33 435.77M109.60 443.88L102.55 434.79M110.57 443.15L103.81 433.85M111.56 442.46L105.10 432.95M112.57 441.79L106.41 432.08M113.60 441.16L107.75 431.26M114.65 440.56L109.11 430.48M115.72 440.00L110.50 429.75M116.81 439.46L111.91 429.06M117.91 438.97L113.34 428.41M119.03 438.50L114.79 427.81M120.16 438.08L116.26 427.26M121.30 437.68L117.75 426.75M122.46 437.33L119.25 426.29M123.63 437.01L120.77 425.87M124.80 436.73L122.29 425.50M125.99 436.48L123.83 425.19M127.18 436.27L125.38 424.92M128.37 436.10L126.93 424.69M129.58 435.97L128.49 424.52M130.78 435.88L130.06 424.40M131.99 435.82L131.63 424.32" stroke="#8c8c8c" stroke-width="0.5" fill="none"/>
<path d="M133.20 424.30L133.20 414.30M134.77 424.32L135.08 414.33M136.34 424.40L136.97 414.42M137.91 424.52L138.85 414.57M139.47 424.69L140.72 414.77M141.02 424.92L142.59 415.04M142.57 425.19L144.44 415.36M144.11 425.50L146.29 415.74M145.63 425.87L148.12 416.19M147.15 426.29L149.94 416.68M148.65 426.75L151.74 417.24M150.14 427.26L153.52 417.85M151.61 427.81L155.29 418.51M153.06 428.41L157.03 419.23M154.49 429.06L158.75 420.01M155.90 429.75L160.44 420.84M157.29 430.48L162.11 421.72M158.65 431.26L163.74 422.66M159.99 432.08L165.35 423.64M161.30 432.95L166.93 424.68M162.59 433.85L168.47 425.76M163.85 434.79L169.97 426.89M165.07 435.77L171.45 428.07M166.27 436.79L172.88 429.29M167.43 437.85L174.27 430.56M168.56 438.94L175.63 431.87M169.65 440.07L176.94 433.23M170.71 441.23L178.21 434.62M171.73 442.43L179.43 436.05M172.71 443.65L180.61 437.53M173.65 444.91L181.74 439.03M174.55 446.20L182.82 440.57M175.42 447.51L183.86 442.15M176.24 448.85L184.84 443.76M177.02 450.21L185.78 445.39M177.75 451.60L186.66 447.06M178.44 453.01L187.49 448.75M179.09 454.44L188.27 450.47M179.69 455.89L188.99 452.21M180.24 457.36L189.65 453.98M180.75 458.85L190.26 455.76M181.21 460.35L190.82 457.56M181.63 461.87L191.31 459.38M182.00 463.39L191.76 461.21M182.31 464.93L192.14 463.06M182.58 466.48L192.46 464.91M182.81 468.03L192.73 466.78M182.98 469.59L192.93 468.65M183.10 471.16L193.08 470.53M183.18 472.73L193.17 472.42M183.20 474.30L193.20 474.30M183.18 475.87L193.17 476.18M183.10 477.44L193.08 478.07M182.98 479.01L192.93 479.95M182.81 480.57L192.73 481.82M182.58 482.12L192.46 483.69M182.31 483.67L192.14 485.54M182.00 485.21L191.76 487.39M181.63 486.73L191.31 489.22M181.21 488.25L190.82 491.04M180.75 489.75L190.26 492.84M180.24 491.24L189.65 494.62M179.69 492.71L188.99 496.39M179.09 494.16L188.27 498.13M178.44 495.59L187.49 499.85M177.75 497.00L186.66 501.54M177.02 498.39L185.78 503.21M176.24 499.75L184.84 504.84M175.42 501.09L183.86 506.45M174.55 502.40L182.82 508.03M173.65 503.69L181.74 509.57M172.71 504.95L180.61 511.07M171.73 506.17L179.43 512.55M170.71 507.37L178.21 513.98M169.65 508.53L176.94 515.37M168.56 509.66L175.63 516.73M167.43 510.75L174.27 518.04M166.27 511.81L172.88 519.31M165.07 512.83L171.45 520.53M163.85 513.81L169.97 521.71M162.59 514.75L168.47 522.84M161.30 515.65L166.93 523.92M159.99 516.52L165.35 524.96M158.65 517.34L163.74 525.94M157.29 518.12L162.11 526.88M155.90 518.85L160.44 527.76M154.49 519.54L158.75 528.59M153.06 520.19L157.03 529.37M151.61 520.79L155.29 530.09M150.14 521.34L153.52 530.75M148.65 521.85L151.74 531.36M147.15 522.31L149.94 531.92M145.63 522.73L148.12 532.41M144.11 523.10L146.29 532.86M142.57 523.41L144.44 533.24M141.02 523.68L142.59 533.56M139.47 523.91L140.72 533.83M137.91 524.08L138.85 534.03M136.34 524.20L136.97 534.18M134.77 524.28L135.08 534.27M133.20 524.30L133.20 534.30M131.63 524.28L131.32 534.27M130.06 524.20L129.43 534.18M128.49 524.08L127.55 534.03M126.93 523.91L125.68 533.83M125.38 523.68L123.81 533.56M123.83 523.41L121.96 533.24M122.29 523.10L120.11 532.86M120.77 522.73L118.28 532.41M119.25 522.31L116.46 531.92M117.75 521.85L114.66 531.36M116.26 521.34L112.88 530.75M114.79 520.79L111.11 530.09M113.34 520.19L109.37 529.37M111.91 519.54L107.65 528.59M110.50 518.85L105.96 527.76M109.11 518.12L104.29 526.88M107.75 517.34L102.66 525.94M106.41 516.52L101.05 524.96M105.10 515.65L99.47 523.92M103.81 514.75L97.93 522.84M102.55 513.81L96.43 521.71M101.33 512.83L94.95 520.53M100.13 511.81L93.52 519.31M98.97 510.75L92.13 518.04M97.84 509.66L90.77 516.73M96.75 508.53L89.46 515.37M95.69 507.37L88.19 513.98M94.67 506.17L86.97 512.55M93.69 504.95L85.79 511.07M92.75 503.69L84.66 509.57M91.85 502.40L83.58 508.03M90.98 501.09L82.54 506.45M90.16 499.75L81.56 504.84M89.38 498.39L80.62 503.21M88.65 497.00L79.74 501.54M87.96 495.59L78.91 499.85M87.31 494.16L78.13 498.13M86.71 492.71L77.41 496.39M86.16 491.24L76.75 494.62M85.65 489.75L76.14 492.84M85.19 488.25L75.58 491.04M84.77 486.73L75.09 489.22M84.40 485.21L74.64 487.39M84.09 483.67L74.26 485.54M83.82 482.12L73.94 483.69M83.59 480.57L73.67 481.82M83.42 479.01L73.47 479.95M83.30 477.44L73.32 478.07M83.22 475.87L73.23 476.18M83.20 474.30L73.20 474.30M83.22 472.73L73.23 472.42M83.30 471.16L73.32 470.53M83.42 469.59L73.47 468.65M83.59 468.03L73.67 466.78M83.82 466.48L73.94 464.91M84.09 464.93L74.26 463.06M84.40 463.39L74.64 461.21M84.77 461.87L75.09 459.38M85.19 460.35L75.58 457.56M85.65 458.85L76.14 455.76M86.16 457.36L76.75 453.98M86.71 455.89L77.41 452.21M87.31 454.44L78.13 450.47M87.96 453.01L78.91 448.75M88.65 451.60L79.74 447.06M89.38 450.21L80.62 445.39M90.16 448.85L81.56 443.76M90.98 447.51L82.54 442.15M91.85 446.20L83.58 440.57M92.75 444.91L84.66 439.03M93.69 443.65L85.79 437.53M94.67 442.43L86.97 436.05M95.69 441.23L88.19 434.62M96.75 440.07L89.46 433.23M97.84 438.94L90.77 431.87M98.97 437.85L92.13 430.56M100.13 436.79L93.52 429.29M101.33 435.77L94.95 428.07M102.55 434.79L96.43 426.89M103.81 433.85L97.93 425.76M105.10 432.95L99.47 424.68M106.41 432.08L101.05 423.64M107.75 431.26L102.66 422.66M109.11 430.48L104.29 421.72M110.50 429.75L105.96 420.84M111.91 429.06L107.65 420.01M113.34 428.41L109.37 419.23M114.79 427.81L111.11 418.51M116.26 427.26L112.88 417.85M117.75 426.75L114.66 417.24M119.25 426.29L116.46 416.68M120.77 425.87L118.28 416.19M122.29 425.50L120.11 415.74M123.83 425.19L121.96 415.36M125.38 424.92L123.81 415.04M126.93 424.69L125.68 414.77M128.49 424.52L127.55 414.57M130.06 424.40L129.43 414.42M131.63 424.32L131.32 414.33" stroke="#9a9a9a" stroke-width="0.5" fill="none" stroke-dasharray="0.8 0.8"/>
<circle cx="133.20" cy="474.30" r="38.50" fill="none" stroke="#b0b0b0" stroke-width="0.5" stroke-dasharray="0.8 0.8"/>
<circle cx="133.20" cy="474.30" r="41.50" fill="none" stroke="#b0b0b0" stroke-width="0.5" stroke-dasharray="0.8 0.8"/>
<circle cx="133.20" cy="474.30" r="44.50" fill="none" stroke="#b0b0b0" stroke-width="0.5" stroke-dasharray="0.8 0.8"/>
<circle cx="133.20" cy="474.30" r="47.50" fill="none" stroke="#b0b0b0" stroke-width="0.5" stroke-dasharray="0.8 0.8"/>
<circle cx="133.20" cy="474.30" r="50.50" fill="none" stroke="#b0b0b0" stroke-width="0.5" stroke-dasharray="0.8 0.8"/>
<circle cx="133.20" cy="474.30" r="54.00" fill="none" stroke="#b0b0b0" stroke-width="0.5" stroke-dasharray="0.8 0.8"/>
<circle cx="133.20" cy="474.30" r="57.50" fill="none" stroke="#b0b0b0" stroke-width="0.5" stroke-dasharray="0.8 0.8"/>
<circle cx="133.20" cy="474.30" r="60.00" fill="none" stroke="#b0b0b0" stroke-width="0.5" stroke-dasharray="0.8 0.8"/>
<path d="M133.20 474.30L133.20 419.18A55.12 55.12 0 0 1 138.00 419.39ZM133.20 474.30L138.01 419.27A55.24 55.24 0 0 1 142.79 419.90ZM133.20 474.30L142.63 420.81A54.31 54.31 0 0 1 147.26 421.84ZM133.20 474.30L146.89 423.22A52.88 52.88 0 0 1 151.29 424.61ZM133.20 474.30L150.80 425.94A51.47 51.47 0 0 1 154.95 427.66ZM133.20 474.30L154.00 429.69A49.22 49.22 0 0 1 157.81 431.67ZM133.20 474.30L156.79 433.44A47.18 47.18 0 0 1 160.26 435.65ZM133.20 474.30L159.53 436.70A45.90 45.90 0 0 1 162.70 439.14ZM133.20 474.30L161.57 440.49A44.14 44.14 0 0 1 164.41 443.09ZM133.20 474.30L163.56 443.94A42.93 42.93 0 0 1 166.09 446.70ZM133.20 474.30L165.57 447.14A42.25 42.25 0 0 1 167.81 450.07ZM133.20 474.30L166.73 450.82A40.93 40.93 0 0 1 168.65 453.83ZM133.20 474.30L167.92 454.26A40.09 40.09 0 0 1 169.53 457.36ZM133.20 474.30L168.21 457.98A38.63 38.63 0 0 1 169.50 461.09ZM133.20 474.30L168.89 461.31A37.98 37.98 0 0 1 169.88 464.47ZM133.20 474.30L169.16 464.67A37.22 37.22 0 0 1 169.86 467.84ZM133.20 474.30L169.07 467.98A36.42 36.42 0 0 1 169.48 471.13ZM133.20 474.30L169.45 471.13A36.39 36.39 0 0 1 169.59 474.30ZM133.20 474.30L169.10 474.30A35.90 35.90 0 0 1 168.97 477.43ZM133.20 474.30L167.99 477.34A34.92 34.92 0 0 1 167.59 480.36ZM133.20 474.30L167.13 480.28A34.45 34.45 0 0 1 166.48 483.22ZM133.20 474.30L166.05 483.10A34.01 34.01 0 0 1 165.16 485.93ZM133.20 474.30L164.56 485.72A33.38 33.38 0 0 1 163.45 488.41ZM133.20 474.30L162.33 487.88A32.14 32.14 0 0 1 161.04 490.37ZM133.20 474.30L160.12 489.84A31.09 31.09 0 0 1 158.67 492.13ZM133.20 474.30L158.00 491.66A30.27 30.27 0 0 1 156.39 493.76ZM133.20 474.30L155.59 493.09A29.23 29.23 0 0 1 153.87 494.97ZM133.20 474.30L153.38 494.48A28.54 28.54 0 0 1 151.55 496.16ZM133.20 474.30L151.11 495.65A27.87 27.87 0 0 1 149.18 497.13ZM133.20 474.30L148.76 496.52A27.13 27.13 0 0 1 146.76 497.79ZM133.20 474.30L146.32 497.02A26.23 26.23 0 0 1 144.29 498.08ZM133.20 474.30L143.98 497.41A25.50 25.50 0 0 1 141.92 498.26ZM133.20 474.30L141.67 497.56A24.75 24.75 0 0 1 139.61 498.21ZM133.20 474.30L139.52 497.90A24.43 24.43 0 0 1 137.44 498.36ZM133.20 474.30L137.36 497.91A23.97 23.97 0 0 1 135.29 498.18ZM133.20 474.30L135.24 497.67A23.46 23.46 0 0 1 133.20 497.76ZM133.20 474.30L133.20 497.89A23.59 23.59 0 0 1 131.14 497.80ZM133.20 474.30L131.19 497.25A23.04 23.04 0 0 1 129.20 496.99ZM133.20 474.30L129.26 496.66A22.71 22.71 0 0 1 127.32 496.23ZM133.20 474.30L127.49 495.60A22.05 22.05 0 0 1 125.66 495.02ZM133.20 474.30L125.66 495.02A22.05 22.05 0 0 1 123.88 494.28ZM133.20 474.30L124.13 493.75A21.47 21.47 0 0 1 122.47 492.89ZM133.20 474.30L122.94 492.07A20.52 20.52 0 0 1 121.43 491.11ZM133.20 474.30L121.64 490.81A20.15 20.15 0 0 1 120.25 489.74ZM133.20 474.30L120.42 489.53A19.88 19.88 0 0 1 119.14 488.36ZM133.20 474.30L119.50 488.00A19.38 19.38 0 0 1 118.36 486.76ZM133.20 474.30L118.63 486.52A19.02 19.02 0 0 1 117.62 485.21ZM133.20 474.30L118.24 484.78A18.26 18.26 0 0 1 117.38 483.43ZM133.20 474.30L117.56 483.33A18.06 18.06 0 0 1 116.83 481.93ZM133.20 474.30L117.32 481.71A17.52 17.52 0 0 1 116.73 480.29ZM133.20 474.30L117.32 480.08A16.89 16.89 0 0 1 116.88 478.67ZM133.20 474.30L117.08 478.62A16.69 16.69 0 0 1 116.76 477.20ZM133.20 474.30L116.96 477.16A16.49 16.49 0 0 1 116.77 475.74ZM133.20 474.30L117.17 475.70A16.10 16.10 0 0 1 117.10 474.30ZM133.20 474.30L117.65 474.30A15.55 15.55 0 0 1 117.71 472.94ZM133.20 474.30L117.95 472.97A15.30 15.30 0 0 1 118.13 471.64ZM133.20 474.30L118.75 471.75A14.67 14.67 0 0 1 119.03 470.50ZM133.20 474.30L119.20 470.55A14.50 14.50 0 0 1 119.58 469.34ZM133.20 474.30L119.55 469.33A14.53 14.53 0 0 1 120.04 468.16ZM133.20 474.30L120.52 468.39A13.99 13.99 0 0 1 121.08 467.30ZM133.20 474.30L121.47 467.53A13.54 13.54 0 0 1 122.11 466.53ZM133.20 474.30L122.17 466.58A13.46 13.46 0 0 1 122.89 465.65ZM133.20 474.30L123.12 465.84A13.16 13.16 0 0 1 123.89 464.99ZM133.20 474.30L124.19 465.29A12.74 12.74 0 0 1 125.01 464.54ZM133.20 474.30L125.38 464.98A12.16 12.16 0 0 1 126.22 464.34ZM133.20 474.30L126.43 464.63A11.80 11.80 0 0 1 127.30 464.08ZM133.20 474.30L127.49 464.41A11.42 11.42 0 0 1 128.37 463.95ZM133.20 474.30L128.49 464.19A11.15 11.15 0 0 1 129.39 463.82ZM133.20 474.30L129.58 464.37A10.57 10.57 0 0 1 130.46 464.09ZM133.20 474.30L130.60 464.58A10.06 10.06 0 0 1 131.45 464.39ZM133.20 474.30L131.51 464.71A9.74 9.74 0 0 1 132.35 464.60ZM133.20 474.30L132.41 465.24A9.10 9.10 0 0 1 133.20 465.20Z" fill="#737373"/>
<clipPath id="clipE"><path d="M133.20 474.30L133.20 419.18A55.12 55.12 0 0 1 138.00 419.39ZM133.20 474.30L138.01 419.27A55.24 55.24 0 0 1 142.79 419.90ZM133.20 474.30L142.63 420.81A54.31 54.31 0 0 1 147.26 421.84ZM133.20 474.30L146.89 423.22A52.88 52.88 0 0 1 151.29 424.61ZM133.20 474.30L150.80 425.94A51.47 51.47 0 0 1 154.95 427.66ZM133.20 474.30L154.00 429.69A49.22 49.22 0 0 1 157.81 431.67ZM133.20 474.30L156.79 433.44A47.18 47.18 0 0 1 160.26 435.65ZM133.20 474.30L159.53 436.70A45.90 45.90 0 0 1 162.70 439.14ZM133.20 474.30L161.57 440.49A44.14 44.14 0 0 1 164.41 443.09ZM133.20 474.30L163.56 443.94A42.93 42.93 0 0 1 166.09 446.70ZM133.20 474.30L165.57 447.14A42.25 42.25 0 0 1 167.81 450.07ZM133.20 474.30L166.73 450.82A40.93 40.93 0 0 1 168.65 453.83ZM133.20 474.30L167.92 454.26A40.09 40.09 0 0 1 169.53 457.36ZM133.20 474.30L168.21 457.98A38.63 38.63 0 0 1 169.50 461.09ZM133.20 474.30L168.89 461.31A37.98 37.98 0 0 1 169.88 464.47ZM133.20 474.30L169.16 464.67A37.22 37.22 0 0 1 169.86 467.84ZM133.20 474.30L169.07 467.98A36.42 36.42 0 0 1 169.48 471.13ZM133.20 474.30L169.45 471.13A36.39 36.39 0 0 1 169.59 474.30ZM133.20 474.30L169.10 474.30A35.90 35.90 0 0 1 168.97 477.43ZM133.20 474.30L167.99 477.34A34.92 34.92 0 0 1 167.59 480.36ZM133.20 474.30L167.13 480.28A34.45 34.45 0 0 1 166.48 483.22ZM133.20 474.30L166.05 483.10A34.01 34.01 0 0 1 165.16 485.93ZM133.20 474.30L164.56 485.72A33.38 33.38 0 0 1 163.45 488.41ZM133.20 474.30L162.33 487.88A32.14 32.14 0 0 1 161.04 490.37ZM133.20 474.30L160.12 489.84A31.09 31.09 0 0 1 158.67 492.13ZM133.20 474.30L158.00 491.66A30.27 30.27 0 0 1 156.39 493.76ZM133.20 474.30L155.59 493.09A29.23 29.23 0 0 1 153.87 494.97ZM133.20 474.30L153.38 494.48A28.54 28.54 0 0 1 151.55 496.16ZM133.20 474.30L151.11 495.65A27.87 27.87 0 0 1 149.18 497.13ZM133.20 474.30L148.76 496.52A27.13 27.13 0 0 1 146.76 497.79ZM133.20 474.30L146.32 497.02A26.23 26.23 0 0 1 144.29 498.08ZM133.20 474.30L143.98 497.41A25.50 25.50 0 0 1 141.92 498.26ZM133.20 474.30L141.67 497.56A24.75 24.75 0 0 1 139.61 498.21ZM133.20 474.30L139.52 497.90A24.43 24.43 0 0 1 137.44 498.36ZM133.20 474.30L137.36 497.91A23.97 23.97 0 0 1 135.29 498.18ZM133.20 474.30L135.24 497.67A23.46 23.46 0 0 1 133.20 497.76ZM133.20 474.30L133.20 497.89A23.59 23.59 0 0 1 131.14 497.80ZM133.20 474.30L131.19 497.25A23.04 23.04 0 0 1 129.20 496.99ZM133.20 474.30L129.26 496.66A22.71 22.71 0 0 1 127.32 496.23ZM133.20 474.30L127.49 495.60A22.05 22.05 0 0 1 125.66 495.02ZM133.20 474.30L125.66 495.02A22.05 22.05 0 0 1 123.88 494.28ZM133.20 474.30L124.13 493.75A21.47 21.47 0 0 1 122.47 492.89ZM133.20 474.30L122.94 492.07A20.52 20.52 0 0 1 121.43 491.11ZM133.20 474.30L121.64 490.81A20.15 20.15 0 0 1 120.25 489.74ZM133.20 474.30L120.42 489.53A19.88 19.88 0 0 1 119.14 488.36ZM133.20 474.30L119.50 488.00A19.38 19.38 0 0 1 118.36 486.76ZM133.20 474.30L118.63 486.52A19.02 19.02 0 0 1 117.62 485.21ZM133.20 474.30L118.24 484.78A18.26 18.26 0 0 1 117.38 483.43ZM133.20 474.30L117.56 483.33A18.06 18.06 0 0 1 116.83 481.93ZM133.20 474.30L117.32 481.71A17.52 17.52 0 0 1 116.73 480.29ZM133.20 474.30L117.32 480.08A16.89 16.89 0 0 1 116.88 478.67ZM133.20 474.30L117.08 478.62A16.69 16.69 0 0 1 116.76 477.20ZM133.20 474.30L116.96 477.16A16.49 16.49 0 0 1 116.77 475.74ZM133.20 474.30L117.17 475.70A16.10 16.10 0 0 1 117.10 474.30ZM133.20 474.30L117.65 474.30A15.55 15.55 0 0 1 117.71 472.94ZM133.20 474.30L117.95 472.97A15.30 15.30 0 0 1 118.13 471.64ZM133.20 474.30L118.75 471.75A14.67 14.67 0 0 1 119.03 470.50ZM133.20 474.30L119.20 470.55A14.50 14.50 0 0 1 119.58 469.34ZM133.20 474.30L119.55 469.33A14.53 14.53 0 0 1 120.04 468.16ZM133.20 474.30L120.52 468.39A13.99 13.99 0 0 1 121.08 467.30ZM133.20 474.30L121.47 467.53A13.54 13.54 0 0 1 122.11 466.53ZM133.20 474.30L122.17 466.58A13.46 13.46 0 0 1 122.89 465.65ZM133.20 474.30L123.12 465.84A13.16 13.16 0 0 1 123.89 464.99ZM133.20 474.30L124.19 465.29A12.74 12.74 0 0 1 125.01 464.54ZM133.20 474.30L125.38 464.98A12.16 12.16 0 0 1 126.22 464.34ZM133.20 474.30L126.43 464.63A11.80 11.80 0 0 1 127.30 464.08ZM133.20 474.30L127.49 464.41A11.42 11.42 0 0 1 128.37 463.95ZM133.20 474.30L128.49 464.19A11.15 11.15 0 0 1 129.39 463.82ZM133.20 474.30L129.58 464.37A10.57 10.57 0 0 1 130.46 464.09ZM133.20 474.30L130.60 464.58A10.06 10.06 0 0 1 131.45 464.39ZM133.20 474.30L131.51 464.71A9.74 9.74 0 0 1 132.35 464.60ZM133.20 474.30L132.41 465.24A9.10 9.10 0 0 1 133.20 465.20Z"/></clipPath>
<g clip-path="url(#clipE)">
<circle cx="133.20" cy="474.30" r="4.50" fill="none" stroke="#3c3c3c" stroke-width="1.6"/>
<circle cx="133.20" cy="474.30" r="10.50" fill="none" stroke="#3a3a3a" stroke-width="3"/>
<circle cx="133.20" cy="474.30" r="17.00" fill="none" stroke="#3e3e3e" stroke-width="2.6"/>
<circle cx="133.20" cy="474.30" r="25.50" fill="none" stroke="#444" stroke-width="2.2"/>
<circle cx="133.20" cy="474.30" r="33.50" fill="none" stroke="#444" stroke-width="2.2"/>
<circle cx="133.20" cy="474.30" r="47.50" fill="none" stroke="#4a4a4a" stroke-width="7"/>
<circle cx="133.20" cy="474.30" r="7.50" fill="none" stroke="#9a9a9a" stroke-width="0.6"/>
<circle cx="133.20" cy="474.30" r="13.80" fill="none" stroke="#9a9a9a" stroke-width="0.6"/>
<circle cx="133.20" cy="474.30" r="21.00" fill="none" stroke="#999" stroke-width="0.7"/>
<circle cx="133.20" cy="474.30" r="29.50" fill="none" stroke="#999" stroke-width="0.7"/>
<circle cx="133.20" cy="474.30" r="38.00" fill="none" stroke="#9a9a9a" stroke-width="0.7"/>
<circle cx="133.20" cy="474.30" r="41.00" fill="none" stroke="#9a9a9a" stroke-width="0.6"/>
<path d="M133.20 431.30L133.20 418.30M136.95 431.46L138.08 418.51M140.67 431.95L142.92 419.15M144.33 432.77L147.69 420.21M147.91 433.89L152.35 421.68M151.37 435.33L156.87 423.55M154.70 437.06L161.20 425.80M157.86 439.08L165.32 428.43M160.84 441.36L169.20 431.40M163.61 443.89L172.80 434.70M166.14 446.66L176.10 438.30M168.42 449.64L179.07 442.18M170.44 452.80L181.70 446.30M172.17 456.13L183.95 450.63M173.61 459.59L185.82 455.15M174.73 463.17L187.29 459.81M175.55 466.83L188.35 464.58M176.04 470.55L188.99 469.42M176.20 474.30L189.20 474.30M176.04 478.05L188.99 479.18M175.55 481.77L188.35 484.02M174.73 485.43L187.29 488.79M173.61 489.01L185.82 493.45M172.17 492.47L183.95 497.97M170.44 495.80L181.70 502.30M168.42 498.96L179.07 506.42M166.14 501.94L176.10 510.30M163.61 504.71L172.80 513.90M160.84 507.24L169.20 517.20M157.86 509.52L165.32 520.17M154.70 511.54L161.20 522.80M151.37 513.27L156.87 525.05M147.91 514.71L152.35 526.92M144.33 515.83L147.69 528.39M140.67 516.65L142.92 529.45M136.95 517.14L138.08 530.09M133.20 517.30L133.20 530.30M129.45 517.14L128.32 530.09M125.73 516.65L123.48 529.45M122.07 515.83L118.71 528.39M118.49 514.71L114.05 526.92M115.03 513.27L109.53 525.05M111.70 511.54L105.20 522.80M108.54 509.52L101.08 520.17M105.56 507.24L97.20 517.20M102.79 504.71L93.60 513.90M100.26 501.94L90.30 510.30M97.98 498.96L87.33 506.42M95.96 495.80L84.70 502.30M94.23 492.47L82.45 497.97M92.79 489.01L80.58 493.45M91.67 485.43L79.11 488.79M90.85 481.77L78.05 484.02M90.36 478.05L77.41 479.18M90.20 474.30L77.20 474.30M90.36 470.55L77.41 469.42M90.85 466.83L78.05 464.58M91.67 463.17L79.11 459.81M92.79 459.59L80.58 455.15M94.23 456.13L82.45 450.63M95.96 452.80L84.70 446.30M97.98 449.64L87.33 442.18M100.26 446.66L90.30 438.30M102.79 443.89L93.60 434.70M105.56 441.36L97.20 431.40M108.54 439.08L101.08 428.43M111.70 437.06L105.20 425.80M115.03 435.33L109.53 423.55M118.49 433.89L114.05 421.68M122.07 432.77L118.71 420.21M125.73 431.95L123.48 419.15M129.45 431.46L128.32 418.51" stroke="#8a8a8a" stroke-width="0.45" fill="none"/>
</g>
<polyline points="133.20,420.74 135.02,420.89 136.84,421.10 138.64,421.37 140.42,421.71 142.16,422.31 143.86,423.00 145.52,423.73 147.14,424.52 148.66,425.55 150.12,426.66 151.52,427.81 152.86,429.01 154.03,430.47 155.08,432.04 156.05,433.64 156.97,435.19 158.00,436.46 158.99,437.75 159.91,439.06 160.77,440.39 161.57,441.74 162.34,443.07 163.08,444.40 163.76,445.74 164.39,447.08 164.95,448.44 165.47,449.81 165.94,451.17 166.38,452.51 166.77,453.86 167.11,455.21 167.39,456.56 167.62,457.91 167.81,459.24 167.98,460.56 168.10,461.87 168.18,463.17 168.20,464.47 168.18,465.75 168.13,467.02 168.19,468.24 168.20,469.46 168.18,470.68 168.11,471.89 167.99,473.09 167.84,474.27 167.65,475.45 167.41,476.61 167.14,477.76 166.83,478.89 166.48,480.01 166.10,481.11 165.68,482.18 165.10,483.21 164.46,484.19 163.79,485.14 163.10,486.06 162.38,486.94 161.63,487.79 160.84,488.59 160.02,489.35 159.19,490.07 158.33,490.75 157.46,491.39 156.58,491.99 155.73,492.59 154.86,493.14 153.98,493.67 153.09,494.15 152.20,494.59 151.29,495.00 150.39,495.37 149.47,495.70 148.56,496.00 147.65,496.27 146.75,496.52 145.85,496.72 144.95,496.90 144.05,497.03 143.15,497.13 142.27,497.20 141.39,497.24 140.52,497.24 139.66,497.22 138.84,497.30 138.03,497.35 137.21,497.37 136.40,497.36 135.60,497.33 134.81,497.26 134.02,497.17 133.24,497.05 132.46,496.90 131.70,496.72 130.95,496.51 130.22,496.28 129.49,496.02 128.78,495.74 128.09,495.44 127.41,495.11 126.74,494.76 126.11,494.36 125.50,493.94 124.91,493.49 124.34,493.02 123.79,492.54 123.26,492.05 122.76,491.53 122.28,491.01 121.83,490.47 121.40,489.93 120.99,489.37 120.61,488.80 120.25,488.22 119.91,487.64 119.60,487.05 119.32,486.45 119.06,485.85 118.81,485.25 118.59,484.66 118.38,484.06 118.20,483.46 118.04,482.86 117.91,482.26 117.80,481.67 117.71,481.07 117.64,480.47 117.59,479.88 117.55,479.31 117.52,478.73 117.52,478.16 117.53,477.59 117.57,477.03 117.63,476.48 117.70,475.93 117.80,475.39 117.91,474.86 118.04,474.34 118.16,473.82 118.30,473.32 118.46,472.82 118.63,472.33 118.81,471.86 119.02,471.39 119.23,470.93 119.47,470.49 119.71,470.06 119.97,469.64 120.25,469.23 120.53,468.84 120.83,468.46 121.14,468.09 121.46,467.74 121.79,467.40 122.13,467.08 122.47,466.77 122.83,466.48 123.21,466.21 123.60,465.98 124.00,465.76 124.41,465.55 124.81,465.37 125.22,465.20 125.63,465.05 126.04,464.92 126.46,464.80 126.87,464.70 127.28,464.63 127.69,464.57 128.10,464.53 128.51,464.51 128.91,464.50 129.31,464.51 129.70,464.54 130.08,464.58 130.46,464.63 130.83,464.70 131.19,464.78 131.54,464.87 131.89,464.95" fill="none" stroke="#383838" stroke-width="2.0" stroke-linejoin="miter" stroke-linecap="round"/>
<text font-size="5.0" fill="#1c1c1c" transform="translate(133.20 410.80) rotate(-90.00) scale(0.77 1)" dominant-baseline="central" stroke="#1c1c1c" stroke-width="0.16">PI 18:1 - 18:0</text>
<text font-size="5.0" fill="#1c1c1c" transform="translate(139.42 411.11) rotate(-84.38) scale(0.77 1)" dominant-baseline="central" stroke="#1c1c1c" stroke-width="0.16">CL 18:2 - 16:1 - 18:1 - 20:4</text>
<text font-size="5.0" fill="#1c1c1c" transform="translate(145.59 412.02) rotate(-78.75) scale(0.77 1)" dominant-baseline="central" stroke="#1c1c1c" stroke-width="0.16">PA 18:1 - 20:4</text>
<text font-size="5.0" fill="#1c1c1c" transform="translate(151.63 413.53) rotate(-73.12) scale(0.77 1)" dominant-baseline="central" stroke="#1c1c1c" stroke-width="0.16">PA 18:0 - 18:2</text>
<text font-size="5.0" fill="#1c1c1c" transform="translate(157.50 415.63) rotate(-67.50) scale(0.77 1)" dominant-baseline="central" stroke="#1c1c1c" stroke-width="0.16">PS 22:4 - 16:0</text>
<text font-size="5.0" fill="#1c1c1c" transform="translate(163.13 418.30) rotate(-61.88) scale(0.77 1)" dominant-baseline="central" stroke="#1c1c1c" stroke-width="0.16">LPE 22:5</text>
<text font-size="5.0" fill="#1c1c1c" transform="translate(168.48 421.50) rotate(-56.25) scale(0.77 1)" dominant-baseline="central" stroke="#1c1c1c" stroke-width="0.16">CL 18:2 - 18:2 - 16:0 - 18:2</text>
<text font-size="5.0" fill="#1c1c1c" transform="translate(173.48 425.21) rotate(-50.62) scale(0.77 1)" dominant-baseline="central" stroke="#1c1c1c" stroke-width="0.16">CL 18:2 - 18:1 - 20:3 - 18:3</text>
<text font-size="5.0" fill="#1c1c1c" transform="translate(178.10 429.40) rotate(-45.00) scale(0.77 1)" dominant-baseline="central" stroke="#1c1c1c" stroke-width="0.16">PS 16:0 - 20:2</text>
<text font-size="5.0" fill="#1c1c1c" transform="translate(182.29 434.02) rotate(-39.38) scale(0.77 1)" dominant-baseline="central" stroke="#1c1c1c" stroke-width="0.16">LPI 18:0</text>
<text font-size="5.0" fill="#1c1c1c" transform="translate(186.00 439.02) rotate(-33.75) scale(0.77 1)" dominant-baseline="central" stroke="#1c1c1c" stroke-width="0.16">PE 18:1 - 18:0</text>
<text font-size="5.0" fill="#1c1c1c" transform="translate(189.20 444.37) rotate(-28.12) scale(0.77 1)" dominant-baseline="central" stroke="#1c1c1c" stroke-width="0.16">PA 18:1 - 18:0</text>
<text font-size="5.0" fill="#1c1c1c" transform="translate(191.87 450.00) rotate(-22.50) scale(0.77 1)" dominant-baseline="central" stroke="#1c1c1c" stroke-width="0.16">PC 18:0 - 20:2</text>
<text font-size="5.0" fill="#1c1c1c" transform="translate(193.97 455.87) rotate(-16.88) scale(0.77 1)" dominant-baseline="central" stroke="#1c1c1c" stroke-width="0.16">PG 18:1 - 18:2</text>
<text font-size="5.0" fill="#1c1c1c" transform="translate(195.48 461.91) rotate(-11.25) scale(0.77 1)" dominant-baseline="central" stroke="#1c1c1c" stroke-width="0.16">PA 16:0 - 20:4</text>
<text font-size="5.0" fill="#1c1c1c" transform="translate(196.39 468.08) rotate(-5.62) scale(0.77 1)" dominant-baseline="central" stroke="#1c1c1c" stroke-width="0.16">LPE 18:0</text>
<text font-size="5.0" fill="#1c1c1c" font-weight="bold" transform="translate(196.70 474.30) rotate(0.00) scale(0.77 1)" dominant-baseline="central" stroke="#1c1c1c" stroke-width="0.16">PE P-36:3/PE O-36:2</text>
<text font-size="5.0" fill="#1c1c1c" transform="translate(196.39 480.52) rotate(5.62) scale(0.77 1)" dominant-baseline="central" stroke="#1c1c1c" stroke-width="0.16">CL 16:0 - 16:1 - 16:1 - 18:2</text>
<text font-size="5.0" fill="#1c1c1c" transform="translate(195.48 486.69) rotate(11.25) scale(0.77 1)" dominant-baseline="central" stroke="#1c1c1c" stroke-width="0.16">CL 20:4 - 18:1 - 16:0 - 20:4</text>
<text font-size="5.0" fill="#1c1c1c" transform="translate(193.97 492.73) rotate(16.88) scale(0.77 1)" dominant-baseline="central" stroke="#1c1c1c" stroke-width="0.16">PI 20:4 - 18:1</text>
<text font-size="5.0" fill="#1c1c1c" transform="translate(191.87 498.60) rotate(22.50) scale(0.77 1)" dominant-baseline="central" stroke="#1c1c1c" stroke-width="0.16">PE 18:1 - 20:4</text>
<text font-size="5.0" fill="#1c1c1c" transform="translate(189.20 504.23) rotate(28.12) scale(0.77 1)" dominant-baseline="central" stroke="#1c1c1c" stroke-width="0.16">CL 18:1 - 18:1 - 22:5 - 18:1</text>
<text font-size="5.0" fill="#1c1c1c" transform="translate(186.00 509.58) rotate(33.75) scale(0.77 1)" dominant-baseline="central" stroke="#1c1c1c" stroke-width="0.16">CL 18:2 - 18:0 - 18:1 - 18:1</text>
<text font-size="5.0" fill="#1c1c1c" transform="translate(182.29 514.58) rotate(39.38) scale(0.77 1)" dominant-baseline="central" stroke="#1c1c1c" stroke-width="0.16">PI 18:0 - 18:1</text>
<text font-size="5.0" fill="#1c1c1c" transform="translate(178.10 519.20) rotate(45.00) scale(0.77 1)" dominant-baseline="central" stroke="#1c1c1c" stroke-width="0.16">LPI 22:0</text>
<text font-size="5.0" fill="#1c1c1c" transform="translate(173.48 523.39) rotate(50.62) scale(0.77 1)" dominant-baseline="central" stroke="#1c1c1c" stroke-width="0.16">PA 18:1 - 16:1</text>
<text font-size="5.0" fill="#1c1c1c" transform="translate(168.48 527.10) rotate(56.25) scale(0.77 1)" dominant-baseline="central" stroke="#1c1c1c" stroke-width="0.16">LPC 22:0</text>
<text font-size="5.0" fill="#1c1c1c" transform="translate(163.13 530.30) rotate(61.88) scale(0.77 1)" dominant-baseline="central" stroke="#1c1c1c" stroke-width="0.16">PE 18:1 - 16:1</text>
<text font-size="5.0" fill="#1c1c1c" transform="translate(157.50 532.97) rotate(67.50) scale(0.77 1)" dominant-baseline="central" stroke="#1c1c1c" stroke-width="0.16">PS 18:2 - 22:5</text>
<text font-size="5.0" fill="#1c1c1c" transform="translate(151.63 535.07) rotate(73.12) scale(0.77 1)" dominant-baseline="central" stroke="#1c1c1c" stroke-width="0.16">PG 18:2 - 20:0</text>
<text font-size="5.0" fill="#1c1c1c" transform="translate(145.59 536.58) rotate(78.75) scale(0.77 1)" dominant-baseline="central" stroke="#1c1c1c" stroke-width="0.16">PE 18:1 - 20:1</text>
<text font-size="5.0" fill="#1c1c1c" transform="translate(139.42 537.49) rotate(84.38) scale(0.77 1)" dominant-baseline="central" stroke="#1c1c1c" stroke-width="0.16">PE O-40:6/PE P-40:5</text>
<text font-size="5.0" fill="#1c1c1c" text-anchor="end" transform="translate(133.20 537.80) rotate(270.00) scale(0.77 1)" dominant-baseline="central" stroke="#1c1c1c" stroke-width="0.16">PI 20:1 - 22:4</text>
<text font-size="5.0" fill="#1c1c1c" text-anchor="end" transform="translate(126.98 537.49) rotate(275.62) scale(0.77 1)" dominant-baseline="central" stroke="#1c1c1c" stroke-width="0.16">CL 18:1 - 16:1 - 20:3 - 20:4</text>
<text font-size="5.0" fill="#1c1c1c" text-anchor="end" transform="translate(120.81 536.58) rotate(281.25) scale(0.77 1)" dominant-baseline="central" stroke="#1c1c1c" stroke-width="0.16">LPC 18:2</text>
<text font-size="5.0" fill="#1c1c1c" text-anchor="end" transform="translate(114.77 535.07) rotate(286.88) scale(0.77 1)" dominant-baseline="central" stroke="#1c1c1c" stroke-width="0.16">PC 16:1 - 20:4</text>
<text font-size="5.0" fill="#1c1c1c" text-anchor="end" transform="translate(108.90 532.97) rotate(292.50) scale(0.77 1)" dominant-baseline="central" stroke="#1c1c1c" stroke-width="0.16">PC 18:2 - 18:1</text>
<text font-size="5.0" fill="#1c1c1c" text-anchor="end" transform="translate(103.27 530.30) rotate(298.12) scale(0.77 1)" dominant-baseline="central" stroke="#1c1c1c" stroke-width="0.16">CL 18:0 - 16:1 - 20:3 - 18:1</text>
<text font-size="5.0" fill="#1c1c1c" text-anchor="end" transform="translate(97.92 527.10) rotate(303.75) scale(0.77 1)" dominant-baseline="central" stroke="#1c1c1c" stroke-width="0.16">PS 18:1 - 18:1</text>
<text font-size="5.0" fill="#1c1c1c" text-anchor="end" transform="translate(92.92 523.39) rotate(309.38) scale(0.77 1)" dominant-baseline="central" stroke="#1c1c1c" stroke-width="0.16">PC 18:2 - 18:1</text>
<text font-size="5.0" fill="#1c1c1c" text-anchor="end" transform="translate(88.30 519.20) rotate(315.00) scale(0.77 1)" dominant-baseline="central" stroke="#1c1c1c" stroke-width="0.16">PC 20:4 - 22:1</text>
<text font-size="5.0" fill="#1c1c1c" text-anchor="end" transform="translate(84.11 514.58) rotate(320.62) scale(0.77 1)" dominant-baseline="central" stroke="#1c1c1c" stroke-width="0.16">PC 18:0 - 22:5</text>
<text font-size="5.0" fill="#1c1c1c" text-anchor="end" transform="translate(80.40 509.58) rotate(326.25) scale(0.77 1)" dominant-baseline="central" stroke="#1c1c1c" stroke-width="0.16">PC P-38:5/PC O-38:4</text>
<text font-size="5.0" fill="#1c1c1c" text-anchor="end" transform="translate(77.20 504.23) rotate(331.88) scale(0.77 1)" dominant-baseline="central" stroke="#1c1c1c" stroke-width="0.16">PE P-40:5/PE O-40:4</text>
<text font-size="5.0" fill="#1c1c1c" text-anchor="end" transform="translate(74.53 498.60) rotate(337.50) scale(0.77 1)" dominant-baseline="central" stroke="#1c1c1c" stroke-width="0.16">PE 18:3 - 18:0</text>
<text font-size="5.0" fill="#1c1c1c" text-anchor="end" transform="translate(72.43 492.73) rotate(343.12) scale(0.77 1)" dominant-baseline="central" stroke="#1c1c1c" stroke-width="0.16">PE 18:0 - 19:1</text>
<text font-size="5.0" fill="#1c1c1c" text-anchor="end" transform="translate(70.92 486.69) rotate(348.75) scale(0.77 1)" dominant-baseline="central" stroke="#1c1c1c" stroke-width="0.16">PS 20:4 - 20:0</text>
<text font-size="5.0" fill="#1c1c1c" text-anchor="end" transform="translate(70.01 480.52) rotate(354.38) scale(0.77 1)" dominant-baseline="central" stroke="#1c1c1c" stroke-width="0.16">PA 19:0 - 20:4</text>
<text font-size="5.0" fill="#1c1c1c" text-anchor="end" font-weight="bold" transform="translate(69.70 474.30) rotate(360.00) scale(0.77 1)" dominant-baseline="central" stroke="#1c1c1c" stroke-width="0.16">PC 20:4 - 20:0</text>
<text font-size="5.0" fill="#1c1c1c" text-anchor="end" transform="translate(70.01 468.08) rotate(365.62) scale(0.77 1)" dominant-baseline="central" stroke="#1c1c1c" stroke-width="0.16">PE 18:1 - 20:2</text>
<text font-size="5.0" fill="#1c1c1c" text-anchor="end" transform="translate(70.92 461.91) rotate(371.25) scale(0.77 1)" dominant-baseline="central" stroke="#1c1c1c" stroke-width="0.16">PE 20:4 - 18:2</text>
<text font-size="5.0" fill="#1c1c1c" text-anchor="end" transform="translate(72.43 455.87) rotate(376.88) scale(0.77 1)" dominant-baseline="central" stroke="#1c1c1c" stroke-width="0.16">PC 20:4 - 18:2</text>
<text font-size="5.0" fill="#1c1c1c" text-anchor="end" transform="translate(74.53 450.00) rotate(382.50) scale(0.77 1)" dominant-baseline="central" stroke="#1c1c1c" stroke-width="0.16">CL 18:2 - 20:2 - 18:0 - 20:4</text>
<text font-size="5.0" fill="#1c1c1c" text-anchor="end" transform="translate(77.20 444.37) rotate(388.12) scale(0.77 1)" dominant-baseline="central" stroke="#1c1c1c" stroke-width="0.16">PE 18:1 - 22:6</text>
<text font-size="5.0" fill="#1c1c1c" text-anchor="end" transform="translate(80.40 439.02) rotate(393.75) scale(0.77 1)" dominant-baseline="central" stroke="#1c1c1c" stroke-width="0.16">PC 20:4 - 18:2</text>
<text font-size="5.0" fill="#1c1c1c" text-anchor="end" transform="translate(84.11 434.02) rotate(399.38) scale(0.77 1)" dominant-baseline="central" stroke="#1c1c1c" stroke-width="0.16">CL 18:2 - 18:1 - 20:3 - 18:2</text>
<text font-size="5.0" fill="#1c1c1c" text-anchor="end" transform="translate(88.30 429.40) rotate(405.00) scale(0.77 1)" dominant-baseline="central" stroke="#1c1c1c" stroke-width="0.16">PE 18:1 - 18:2</text>
<text font-size="5.0" fill="#1c1c1c" text-anchor="end" transform="translate(92.92 425.21) rotate(410.62) scale(0.77 1)" dominant-baseline="central" stroke="#1c1c1c" stroke-width="0.16">PC O-22:0</text>
<text font-size="5.0" fill="#1c1c1c" text-anchor="end" transform="translate(97.92 421.50) rotate(416.25) scale(0.77 1)" dominant-baseline="central" stroke="#1c1c1c" stroke-width="0.16">PE P-40:5/PE O-40:4</text>
<text font-size="5.0" fill="#1c1c1c" text-anchor="end" transform="translate(103.27 418.30) rotate(421.88) scale(0.77 1)" dominant-baseline="central" stroke="#1c1c1c" stroke-width="0.16">PC 22:6 - 18:0</text>
<text font-size="5.0" fill="#1c1c1c" text-anchor="end" transform="translate(108.90 415.63) rotate(427.50) scale(0.77 1)" dominant-baseline="central" stroke="#1c1c1c" stroke-width="0.16">PI 18:2 - 22:0</text>
<text font-size="5.0" fill="#1c1c1c" text-anchor="end" transform="translate(114.77 413.53) rotate(433.12) scale(0.77 1)" dominant-baseline="central" stroke="#1c1c1c" stroke-width="0.16">PC 20:1 - 16:0</text>
<text font-size="5.0" fill="#1c1c1c" text-anchor="end" transform="translate(120.81 412.02) rotate(438.75) scale(0.77 1)" dominant-baseline="central" stroke="#1c1c1c" stroke-width="0.16">PE 16:0 - 16:0</text>
<text font-size="5.0" fill="#1c1c1c" text-anchor="end" transform="translate(126.98 411.11) rotate(444.38) scale(0.77 1)" dominant-baseline="central" stroke="#1c1c1c" stroke-width="0.16">PS 16:0 - 20:4</text>
<text font-size="5.9" fill="#962050" text-anchor="middle" font-weight="bold" x="125.40" y="417.00" dominant-baseline="central">Low</text>
<text font-size="6.6" fill="#962050" text-anchor="middle" font-weight="bold" x="125.30" y="474.70" dominant-baseline="central">High</text>
<text font-size="14" fill="#000" font-weight="bold" x="265.50" y="376.30" stroke="#000" stroke-width="0.35">F</text>
<text font-size="9.4" fill="#1e1e1e" textLength="53.5" lengthAdjust="spacingAndGlyphs" x="304.00" y="377.20">Glycerolipids</text>
<circle cx="391.00" cy="476.30" r="14.00" fill="none" stroke="#909090" stroke-width="0.6"/>
<circle cx="391.00" cy="476.30" r="17.00" fill="none" stroke="#909090" stroke-width="0.6"/>
<circle cx="391.00" cy="476.30" r="20.00" fill="none" stroke="#909090" stroke-width="0.6"/>
<circle cx="391.00" cy="476.30" r="23.00" fill="none" stroke="#909090" stroke-width="0.6"/>
<circle cx="391.00" cy="476.30" r="26.00" fill="none" stroke="#909090" stroke-width="0.6"/>
<circle cx="391.00" cy="476.30" r="29.00" fill="none" stroke="#909090" stroke-width="0.6"/>
<circle cx="391.00" cy="476.30" r="32.00" fill="none" stroke="#909090" stroke-width="0.6"/>
<circle cx="391.00" cy="476.30" r="35.00" fill="none" stroke="#909090" stroke-width="0.6"/>
<circle cx="391.00" cy="476.30" r="38.00" fill="none" stroke="#909090" stroke-width="0.6"/>
<path d="M391.00 435.30L391.00 425.30M392.29 435.32L392.60 425.33M393.57 435.38L394.20 425.40M394.86 435.48L395.80 425.53M396.14 435.62L397.39 425.70M397.41 435.80L398.98 425.93M398.68 436.03L400.56 426.20M399.94 436.29L402.13 426.53M401.20 436.59L403.68 426.90M402.44 436.93L405.23 427.33M403.67 437.31L406.76 427.80M404.89 437.72L408.28 428.32M406.09 438.18L409.77 428.88M407.28 438.67L411.25 429.49M408.46 439.20L412.71 430.15M409.61 439.77L414.15 430.86M410.75 440.37L415.57 431.61M411.87 441.01L416.96 432.40M412.97 441.68L418.33 433.24M414.05 442.39L419.67 434.12M415.10 443.13L420.98 435.04M416.13 443.90L422.26 436.00M417.13 444.71L423.51 437.00M418.11 445.55L424.73 438.04M419.07 446.41L425.91 439.12M419.99 447.31L427.06 440.24M420.89 448.23L428.18 441.39M421.75 449.19L429.26 442.57M422.59 450.17L430.30 443.79M423.40 451.17L431.30 445.04M424.17 452.20L432.26 446.32M424.91 453.25L433.18 447.63M425.62 454.33L434.06 448.97M426.29 455.43L434.90 450.34M426.93 456.55L435.69 451.73M427.53 457.69L436.44 453.15M428.10 458.84L437.15 454.59M428.63 460.02L437.81 456.05M429.12 461.21L438.42 457.53M429.58 462.41L438.98 459.02M429.99 463.63L439.50 460.54M430.37 464.86L439.97 462.07M430.71 466.10L440.40 463.62M431.01 467.36L440.77 465.17M431.27 468.62L441.10 466.74M431.50 469.89L441.37 468.32M431.68 471.16L441.60 469.91M431.82 472.44L441.77 471.50M431.92 473.73L441.90 473.10M431.98 475.01L441.97 474.70M432.00 476.30L442.00 476.30M431.98 477.59L441.97 477.90M431.92 478.87L441.90 479.50M431.82 480.16L441.77 481.10M431.68 481.44L441.60 482.69M431.50 482.71L441.37 484.28M431.27 483.98L441.10 485.86M431.01 485.24L440.77 487.43M430.71 486.50L440.40 488.98M430.37 487.74L439.97 490.53M429.99 488.97L439.50 492.06M429.58 490.19L438.98 493.58M429.12 491.39L438.42 495.07M428.63 492.58L437.81 496.55M428.10 493.76L437.15 498.01M427.53 494.91L436.44 499.45M426.93 496.05L435.69 500.87M426.29 497.17L434.90 502.26M425.62 498.27L434.06 503.63M424.91 499.35L433.18 504.97M424.17 500.40L432.26 506.28M423.40 501.43L431.30 507.56M422.59 502.43L430.30 508.81M421.75 503.41L429.26 510.03M420.89 504.37L428.18 511.21M419.99 505.29L427.06 512.36M419.07 506.19L425.91 513.48M418.11 507.05L424.73 514.56M417.13 507.89L423.51 515.60M416.13 508.70L422.26 516.60M415.10 509.47L420.98 517.56M414.05 510.21L419.67 518.48M412.97 510.92L418.33 519.36M411.87 511.59L416.96 520.20M410.75 512.23L415.57 520.99M409.61 512.83L414.15 521.74M408.46 513.40L412.71 522.45M407.28 513.93L411.25 523.11M406.09 514.42L409.77 523.72M404.89 514.88L408.28 524.28M403.67 515.29L406.76 524.80M402.44 515.67L405.23 525.27M401.20 516.01L403.68 525.70M399.94 516.31L402.13 526.07M398.68 516.57L400.56 526.40M397.41 516.80L398.98 526.67M396.14 516.98L397.39 526.90M394.86 517.12L395.80 527.07M393.57 517.22L394.20 527.20M392.29 517.28L392.60 527.27M391.00 517.30L391.00 527.30M389.71 517.28L389.40 527.27M388.43 517.22L387.80 527.20M387.14 517.12L386.20 527.07M385.86 516.98L384.61 526.90M384.59 516.80L383.02 526.67M383.32 516.57L381.44 526.40M382.06 516.31L379.87 526.07M380.80 516.01L378.32 525.70M379.56 515.67L376.77 525.27M378.33 515.29L375.24 524.80M377.11 514.88L373.72 524.28M375.91 514.42L372.23 523.72M374.72 513.93L370.75 523.11M373.54 513.40L369.29 522.45M372.39 512.83L367.85 521.74M371.25 512.23L366.43 520.99M370.13 511.59L365.04 520.20M369.03 510.92L363.67 519.36M367.95 510.21L362.33 518.48M366.90 509.47L361.02 517.56M365.87 508.70L359.74 516.60M364.87 507.89L358.49 515.60M363.89 507.05L357.27 514.56M362.93 506.19L356.09 513.48M362.01 505.29L354.94 512.36M361.11 504.37L353.82 511.21M360.25 503.41L352.74 510.03M359.41 502.43L351.70 508.81M358.60 501.43L350.70 507.56M357.83 500.40L349.74 506.28M357.09 499.35L348.82 504.97M356.38 498.27L347.94 503.63M355.71 497.17L347.10 502.26M355.07 496.05L346.31 500.87M354.47 494.91L345.56 499.45M353.90 493.76L344.85 498.01M353.37 492.58L344.19 496.55M352.88 491.39L343.58 495.07M352.42 490.19L343.02 493.58M352.01 488.97L342.50 492.06M351.63 487.74L342.03 490.53M351.29 486.50L341.60 488.98M350.99 485.24L341.23 487.43M350.73 483.98L340.90 485.86M350.50 482.71L340.63 484.28M350.32 481.44L340.40 482.69M350.18 480.16L340.23 481.10M350.08 478.87L340.10 479.50M350.02 477.59L340.03 477.90M350.00 476.30L340.00 476.30M350.02 475.01L340.03 474.70M350.08 473.73L340.10 473.10M350.18 472.44L340.23 471.50M350.32 471.16L340.40 469.91M350.50 469.89L340.63 468.32M350.73 468.62L340.90 466.74M350.99 467.36L341.23 465.17M351.29 466.10L341.60 463.62M351.63 464.86L342.03 462.07M352.01 463.63L342.50 460.54M352.42 462.41L343.02 459.02M352.88 461.21L343.58 457.53M353.37 460.02L344.19 456.05M353.90 458.84L344.85 454.59M354.47 457.69L345.56 453.15M355.07 456.55L346.31 451.73M355.71 455.43L347.10 450.34M356.38 454.33L347.94 448.97M357.09 453.25L348.82 447.63M357.83 452.20L349.74 446.32M358.60 451.17L350.70 445.04M359.41 450.17L351.70 443.79M360.25 449.19L352.74 442.57M361.11 448.23L353.82 441.39M362.01 447.31L354.94 440.24M362.93 446.41L356.09 439.12M363.89 445.55L357.27 438.04M364.87 444.71L358.49 437.00M365.87 443.90L359.74 436.00M366.90 443.13L361.02 435.04M367.95 442.39L362.33 434.12M369.03 441.68L363.67 433.24M370.13 441.01L365.04 432.40M371.25 440.37L366.43 431.61M372.39 439.77L367.85 430.86M373.54 439.20L369.29 430.15M374.72 438.67L370.75 429.49M375.91 438.18L372.23 428.88M377.11 437.72L373.72 428.32M378.33 437.31L375.24 427.80M379.56 436.93L376.77 427.33M380.80 436.59L378.32 426.90M382.06 436.29L379.87 426.53M383.32 436.03L381.44 426.20M384.59 435.80L383.02 425.93M385.86 435.62L384.61 425.70M387.14 435.48L386.20 425.53M388.43 435.38L387.80 425.40M389.71 435.32L389.40 425.33" stroke="#8c8c8c" stroke-width="0.5" fill="none"/>
<path d="M391.00 425.30L391.00 417.30M392.60 425.33L392.85 417.33M394.20 425.40L394.70 417.42M395.80 425.53L396.55 417.56M397.39 425.70L398.39 417.77M398.98 425.93L400.23 418.03M400.56 426.20L402.06 418.35M402.13 426.53L403.87 418.72M403.68 426.90L405.67 419.15M405.23 427.33L407.46 419.64M406.76 427.80L409.23 420.19M408.28 428.32L410.99 420.79M409.77 428.88L412.72 421.44M411.25 429.49L414.43 422.15M412.71 430.15L416.12 422.92M414.15 430.86L417.79 423.73M415.57 431.61L419.42 424.60M416.96 432.40L421.03 425.52M418.33 433.24L422.61 426.48M419.67 434.12L424.16 427.50M420.98 435.04L425.68 428.57M422.26 436.00L427.16 429.68M423.51 437.00L428.61 430.84M424.73 438.04L430.02 432.04M425.91 439.12L431.39 433.29M427.06 440.24L432.72 434.58M428.18 441.39L434.01 435.91M429.26 442.57L435.26 437.28M430.30 443.79L436.46 438.69M431.30 445.04L437.62 440.14M432.26 446.32L438.73 441.62M433.18 447.63L439.80 443.14M434.06 448.97L440.82 444.69M434.90 450.34L441.78 446.27M435.69 451.73L442.70 447.88M436.44 453.15L443.57 449.51M437.15 454.59L444.38 451.18M437.81 456.05L445.15 452.87M438.42 457.53L445.86 454.58M438.98 459.02L446.51 456.31M439.50 460.54L447.11 458.07M439.97 462.07L447.66 459.84M440.40 463.62L448.15 461.63M440.77 465.17L448.58 463.43M441.10 466.74L448.95 465.24M441.37 468.32L449.27 467.07M441.60 469.91L449.53 468.91M441.77 471.50L449.74 470.75M441.90 473.10L449.88 472.60M441.97 474.70L449.97 474.45M442.00 476.30L450.00 476.30M441.97 477.90L449.97 478.15M441.90 479.50L449.88 480.00M441.77 481.10L449.74 481.85M441.60 482.69L449.53 483.69M441.37 484.28L449.27 485.53M441.10 485.86L448.95 487.36M440.77 487.43L448.58 489.17M440.40 488.98L448.15 490.97M439.97 490.53L447.66 492.76M439.50 492.06L447.11 494.53M438.98 493.58L446.51 496.29M438.42 495.07L445.86 498.02M437.81 496.55L445.15 499.73M437.15 498.01L444.38 501.42M436.44 499.45L443.57 503.09M435.69 500.87L442.70 504.72M434.90 502.26L441.78 506.33M434.06 503.63L440.82 507.91M433.18 504.97L439.80 509.46M432.26 506.28L438.73 510.98M431.30 507.56L437.62 512.46M430.30 508.81L436.46 513.91M429.26 510.03L435.26 515.32M428.18 511.21L434.01 516.69M427.06 512.36L432.72 518.02M425.91 513.48L431.39 519.31M424.73 514.56L430.02 520.56M423.51 515.60L428.61 521.76M422.26 516.60L427.16 522.92M420.98 517.56L425.68 524.03M419.67 518.48L424.16 525.10M418.33 519.36L422.61 526.12M416.96 520.20L421.03 527.08M415.57 520.99L419.42 528.00M414.15 521.74L417.79 528.87M412.71 522.45L416.12 529.68M411.25 523.11L414.43 530.45M409.77 523.72L412.72 531.16M408.28 524.28L410.99 531.81M406.76 524.80L409.23 532.41M405.23 525.27L407.46 532.96M403.68 525.70L405.67 533.45M402.13 526.07L403.87 533.88M400.56 526.40L402.06 534.25M398.98 526.67L400.23 534.57M397.39 526.90L398.39 534.83M395.80 527.07L396.55 535.04M394.20 527.20L394.70 535.18M392.60 527.27L392.85 535.27M391.00 527.30L391.00 535.30M389.40 527.27L389.15 535.27M387.80 527.20L387.30 535.18M386.20 527.07L385.45 535.04M384.61 526.90L383.61 534.83M383.02 526.67L381.77 534.57M381.44 526.40L379.94 534.25M379.87 526.07L378.13 533.88M378.32 525.70L376.33 533.45M376.77 525.27L374.54 532.96M375.24 524.80L372.77 532.41M373.72 524.28L371.01 531.81M372.23 523.72L369.28 531.16M370.75 523.11L367.57 530.45M369.29 522.45L365.88 529.68M367.85 521.74L364.21 528.87M366.43 520.99L362.58 528.00M365.04 520.20L360.97 527.08M363.67 519.36L359.39 526.12M362.33 518.48L357.84 525.10M361.02 517.56L356.32 524.03M359.74 516.60L354.84 522.92M358.49 515.60L353.39 521.76M357.27 514.56L351.98 520.56M356.09 513.48L350.61 519.31M354.94 512.36L349.28 518.02M353.82 511.21L347.99 516.69M352.74 510.03L346.74 515.32M351.70 508.81L345.54 513.91M350.70 507.56L344.38 512.46M349.74 506.28L343.27 510.98M348.82 504.97L342.20 509.46M347.94 503.63L341.18 507.91M347.10 502.26L340.22 506.33M346.31 500.87L339.30 504.72M345.56 499.45L338.43 503.09M344.85 498.01L337.62 501.42M344.19 496.55L336.85 499.73M343.58 495.07L336.14 498.02M343.02 493.58L335.49 496.29M342.50 492.06L334.89 494.53M342.03 490.53L334.34 492.76M341.60 488.98L333.85 490.97M341.23 487.43L333.42 489.17M340.90 485.86L333.05 487.36M340.63 484.28L332.73 485.53M340.40 482.69L332.47 483.69M340.23 481.10L332.26 481.85M340.10 479.50L332.12 480.00M340.03 477.90L332.03 478.15M340.00 476.30L332.00 476.30M340.03 474.70L332.03 474.45M340.10 473.10L332.12 472.60M340.23 471.50L332.26 470.75M340.40 469.91L332.47 468.91M340.63 468.32L332.73 467.07M340.90 466.74L333.05 465.24M341.23 465.17L333.42 463.43M341.60 463.62L333.85 461.63M342.03 462.07L334.34 459.84M342.50 460.54L334.89 458.07M343.02 459.02L335.49 456.31M343.58 457.53L336.14 454.58M344.19 456.05L336.85 452.87M344.85 454.59L337.62 451.18M345.56 453.15L338.43 449.51M346.31 451.73L339.30 447.88M347.10 450.34L340.22 446.27M347.94 448.97L341.18 444.69M348.82 447.63L342.20 443.14M349.74 446.32L343.27 441.62M350.70 445.04L344.38 440.14M351.70 443.79L345.54 438.69M352.74 442.57L346.74 437.28M353.82 441.39L347.99 435.91M354.94 440.24L349.28 434.58M356.09 439.12L350.61 433.29M357.27 438.04L351.98 432.04M358.49 437.00L353.39 430.84M359.74 436.00L354.84 429.68M361.02 435.04L356.32 428.57M362.33 434.12L357.84 427.50M363.67 433.24L359.39 426.48M365.04 432.40L360.97 425.52M366.43 431.61L362.58 424.60M367.85 430.86L364.21 423.73M369.29 430.15L365.88 422.92M370.75 429.49L367.57 422.15M372.23 428.88L369.28 421.44M373.72 428.32L371.01 420.79M375.24 427.80L372.77 420.19M376.77 427.33L374.54 419.64M378.32 426.90L376.33 419.15M379.87 426.53L378.13 418.72M381.44 426.20L379.94 418.35M383.02 425.93L381.77 418.03M384.61 425.70L383.61 417.77M386.20 425.53L385.45 417.56M387.80 425.40L387.30 417.42M389.40 425.33L389.15 417.33" stroke="#9a9a9a" stroke-width="0.5" fill="none" stroke-dasharray="0.8 0.8"/>
<circle cx="391.00" cy="476.30" r="41.00" fill="none" stroke="#b0b0b0" stroke-width="0.5" stroke-dasharray="0.8 0.8"/>
<circle cx="391.00" cy="476.30" r="44.00" fill="none" stroke="#b0b0b0" stroke-width="0.5" stroke-dasharray="0.8 0.8"/>
<circle cx="391.00" cy="476.30" r="47.00" fill="none" stroke="#b0b0b0" stroke-width="0.5" stroke-dasharray="0.8 0.8"/>
<circle cx="391.00" cy="476.30" r="50.00" fill="none" stroke="#b0b0b0" stroke-width="0.5" stroke-dasharray="0.8 0.8"/>
<circle cx="391.00" cy="476.30" r="53.50" fill="none" stroke="#b0b0b0" stroke-width="0.5" stroke-dasharray="0.8 0.8"/>
<circle cx="391.00" cy="476.30" r="56.50" fill="none" stroke="#b0b0b0" stroke-width="0.5" stroke-dasharray="0.8 0.8"/>
<circle cx="391.00" cy="476.30" r="59.00" fill="none" stroke="#b0b0b0" stroke-width="0.5" stroke-dasharray="0.8 0.8"/>
<path d="M373.15 469.80 L362.81 466.04 A30 30 0 0 1 391.0 446.3 L391.0 457.3 A19 19 0 0 0 373.15 469.80 Z" fill="#d0d0d0"/>
<path d="M391.00 476.30L391.00 430.73A45.57 45.57 0 0 1 394.97 430.90ZM391.00 476.30L394.97 430.94A45.53 45.53 0 0 1 398.91 431.46ZM391.00 476.30L398.79 432.10A44.88 44.88 0 0 1 402.62 432.95ZM391.00 476.30L402.37 433.86A43.94 43.94 0 0 1 406.03 435.01ZM391.00 476.30L405.83 435.54A43.37 43.37 0 0 1 409.33 436.99ZM391.00 476.30L409.02 437.66A42.64 42.64 0 0 1 412.32 439.38ZM391.00 476.30L412.02 439.89A42.05 42.05 0 0 1 415.12 441.86ZM391.00 476.30L414.80 442.31A41.50 41.50 0 0 1 417.67 444.51ZM391.00 476.30L417.05 445.25A40.53 40.53 0 0 1 419.66 447.64ZM391.00 476.30L419.24 448.06A39.94 39.94 0 0 1 421.60 450.63ZM391.00 476.30L421.55 450.67A39.88 39.88 0 0 1 423.66 453.43ZM391.00 476.30L423.17 453.78A39.27 39.27 0 0 1 425.01 456.67ZM391.00 476.30L425.02 456.66A39.28 39.28 0 0 1 426.60 459.70ZM391.00 476.30L426.02 459.97A38.64 38.64 0 0 1 427.31 463.08ZM391.00 476.30L427.38 463.06A38.72 38.72 0 0 1 428.40 466.28ZM391.00 476.30L428.38 466.28A38.70 38.70 0 0 1 429.11 469.58ZM391.00 476.30L428.66 469.66A38.24 38.24 0 0 1 429.09 472.97ZM391.00 476.30L429.52 472.93A38.67 38.67 0 0 1 429.67 476.30ZM391.00 476.30L429.64 476.30A38.64 38.64 0 0 1 429.49 479.67ZM391.00 476.30L428.97 479.62A38.12 38.12 0 0 1 428.54 482.92ZM391.00 476.30L428.46 482.91A38.04 38.04 0 0 1 427.74 486.15ZM391.00 476.30L427.90 486.19A38.20 38.20 0 0 1 426.90 489.37ZM391.00 476.30L426.98 489.40A38.29 38.29 0 0 1 425.70 492.48ZM391.00 476.30L425.26 492.28A37.80 37.80 0 0 1 423.74 495.20ZM391.00 476.30L423.45 495.03A37.47 37.47 0 0 1 421.69 497.79ZM391.00 476.30L421.52 497.67A37.26 37.26 0 0 1 419.55 500.25ZM391.00 476.30L419.12 499.89A36.70 36.70 0 0 1 416.95 502.25ZM391.00 476.30L416.80 502.10A36.49 36.49 0 0 1 414.46 504.25ZM391.00 476.30L414.33 504.10A36.30 36.30 0 0 1 411.82 506.03ZM391.00 476.30L411.60 505.72A35.91 35.91 0 0 1 408.96 507.40ZM391.00 476.30L408.67 506.90A35.33 35.33 0 0 1 405.93 508.32ZM391.00 476.30L405.75 507.93A34.90 34.90 0 0 1 402.94 509.10ZM391.00 476.30L402.79 508.69A34.47 34.47 0 0 1 399.92 509.60ZM391.00 476.30L399.85 509.32A34.19 34.19 0 0 1 396.94 509.97ZM391.00 476.30L396.85 509.49A33.70 33.70 0 0 1 393.94 509.87ZM391.00 476.30L393.89 509.36A33.19 33.19 0 0 1 391.00 509.49ZM391.00 476.30L391.00 509.69A33.39 33.39 0 0 1 388.09 509.57ZM391.00 476.30L388.12 509.18A33.00 33.00 0 0 1 385.27 508.80ZM391.00 476.30L385.30 508.64A32.83 32.83 0 0 1 382.50 508.02ZM391.00 476.30L382.63 507.54A32.34 32.34 0 0 1 379.94 506.69ZM391.00 476.30L379.85 506.94A32.60 32.60 0 0 1 377.22 505.85ZM391.00 476.30L377.35 505.58A32.30 32.30 0 0 1 374.85 504.27ZM391.00 476.30L375.18 503.70A31.64 31.64 0 0 1 372.85 502.22ZM391.00 476.30L372.88 502.18A31.60 31.60 0 0 1 370.69 500.50ZM391.00 476.30L370.64 500.57A31.68 31.68 0 0 1 368.60 498.70ZM391.00 476.30L368.71 498.59A31.53 31.53 0 0 1 366.85 496.56ZM391.00 476.30L366.86 496.56A31.51 31.51 0 0 1 365.19 494.38ZM391.00 476.30L365.56 494.11A31.06 31.06 0 0 1 364.10 491.83ZM391.00 476.30L364.03 491.87A31.15 31.15 0 0 1 362.77 489.46ZM391.00 476.30L363.01 489.35A30.88 30.88 0 0 1 361.98 486.86ZM391.00 476.30L362.35 486.73A30.49 30.49 0 0 1 361.55 484.19ZM391.00 476.30L361.56 484.19A30.48 30.48 0 0 1 360.98 481.59ZM391.00 476.30L360.98 481.59A30.49 30.49 0 0 1 360.63 478.96ZM391.00 476.30L360.82 478.94A30.29 30.29 0 0 1 360.71 476.30ZM391.00 476.30L361.14 476.30A29.86 29.86 0 0 1 361.25 473.70ZM391.00 476.30L361.49 473.72A29.62 29.62 0 0 1 361.83 471.16ZM391.00 476.30L362.44 471.26A29.00 29.00 0 0 1 362.99 468.79ZM391.00 476.30L363.15 468.84A28.84 28.84 0 0 1 363.90 466.44ZM391.00 476.30L363.86 466.42A28.88 28.88 0 0 1 364.83 464.09ZM391.00 476.30L365.31 464.32A28.34 28.34 0 0 1 366.46 462.13ZM391.00 476.30L366.89 462.38A27.84 27.84 0 0 1 368.20 460.33ZM391.00 476.30L368.30 460.41A27.71 27.71 0 0 1 369.77 458.49ZM391.00 476.30L370.13 458.79A27.25 27.25 0 0 1 371.73 457.03ZM391.00 476.30L372.28 457.58A26.48 26.48 0 0 1 373.98 456.02ZM391.00 476.30L374.58 456.73A25.54 25.54 0 0 1 376.35 455.38ZM391.00 476.30L376.80 456.02A24.76 24.76 0 0 1 378.62 454.86ZM391.00 476.30L379.01 455.53A23.98 23.98 0 0 1 380.86 454.56ZM391.00 476.30L381.14 455.16A23.32 23.32 0 0 1 383.02 454.38ZM391.00 476.30L383.33 455.23A22.42 22.42 0 0 1 385.20 454.65ZM391.00 476.30L385.34 455.18A21.86 21.86 0 0 1 387.20 454.77ZM391.00 476.30L387.27 455.16A21.46 21.46 0 0 1 389.13 454.92ZM391.00 476.30L389.18 455.51A20.87 20.87 0 0 1 391.00 455.43Z" fill="#7a7a7a"/>
<clipPath id="clipF"><path d="M391.00 476.30L391.00 430.73A45.57 45.57 0 0 1 394.97 430.90ZM391.00 476.30L394.97 430.94A45.53 45.53 0 0 1 398.91 431.46ZM391.00 476.30L398.79 432.10A44.88 44.88 0 0 1 402.62 432.95ZM391.00 476.30L402.37 433.86A43.94 43.94 0 0 1 406.03 435.01ZM391.00 476.30L405.83 435.54A43.37 43.37 0 0 1 409.33 436.99ZM391.00 476.30L409.02 437.66A42.64 42.64 0 0 1 412.32 439.38ZM391.00 476.30L412.02 439.89A42.05 42.05 0 0 1 415.12 441.86ZM391.00 476.30L414.80 442.31A41.50 41.50 0 0 1 417.67 444.51ZM391.00 476.30L417.05 445.25A40.53 40.53 0 0 1 419.66 447.64ZM391.00 476.30L419.24 448.06A39.94 39.94 0 0 1 421.60 450.63ZM391.00 476.30L421.55 450.67A39.88 39.88 0 0 1 423.66 453.43ZM391.00 476.30L423.17 453.78A39.27 39.27 0 0 1 425.01 456.67ZM391.00 476.30L425.02 456.66A39.28 39.28 0 0 1 426.60 459.70ZM391.00 476.30L426.02 459.97A38.64 38.64 0 0 1 427.31 463.08ZM391.00 476.30L427.38 463.06A38.72 38.72 0 0 1 428.40 466.28ZM391.00 476.30L428.38 466.28A38.70 38.70 0 0 1 429.11 469.58ZM391.00 476.30L428.66 469.66A38.24 38.24 0 0 1 429.09 472.97ZM391.00 476.30L429.52 472.93A38.67 38.67 0 0 1 429.67 476.30ZM391.00 476.30L429.64 476.30A38.64 38.64 0 0 1 429.49 479.67ZM391.00 476.30L428.97 479.62A38.12 38.12 0 0 1 428.54 482.92ZM391.00 476.30L428.46 482.91A38.04 38.04 0 0 1 427.74 486.15ZM391.00 476.30L427.90 486.19A38.20 38.20 0 0 1 426.90 489.37ZM391.00 476.30L426.98 489.40A38.29 38.29 0 0 1 425.70 492.48ZM391.00 476.30L425.26 492.28A37.80 37.80 0 0 1 423.74 495.20ZM391.00 476.30L423.45 495.03A37.47 37.47 0 0 1 421.69 497.79ZM391.00 476.30L421.52 497.67A37.26 37.26 0 0 1 419.55 500.25ZM391.00 476.30L419.12 499.89A36.70 36.70 0 0 1 416.95 502.25ZM391.00 476.30L416.80 502.10A36.49 36.49 0 0 1 414.46 504.25ZM391.00 476.30L414.33 504.10A36.30 36.30 0 0 1 411.82 506.03ZM391.00 476.30L411.60 505.72A35.91 35.91 0 0 1 408.96 507.40ZM391.00 476.30L408.67 506.90A35.33 35.33 0 0 1 405.93 508.32ZM391.00 476.30L405.75 507.93A34.90 34.90 0 0 1 402.94 509.10ZM391.00 476.30L402.79 508.69A34.47 34.47 0 0 1 399.92 509.60ZM391.00 476.30L399.85 509.32A34.19 34.19 0 0 1 396.94 509.97ZM391.00 476.30L396.85 509.49A33.70 33.70 0 0 1 393.94 509.87ZM391.00 476.30L393.89 509.36A33.19 33.19 0 0 1 391.00 509.49ZM391.00 476.30L391.00 509.69A33.39 33.39 0 0 1 388.09 509.57ZM391.00 476.30L388.12 509.18A33.00 33.00 0 0 1 385.27 508.80ZM391.00 476.30L385.30 508.64A32.83 32.83 0 0 1 382.50 508.02ZM391.00 476.30L382.63 507.54A32.34 32.34 0 0 1 379.94 506.69ZM391.00 476.30L379.85 506.94A32.60 32.60 0 0 1 377.22 505.85ZM391.00 476.30L377.35 505.58A32.30 32.30 0 0 1 374.85 504.27ZM391.00 476.30L375.18 503.70A31.64 31.64 0 0 1 372.85 502.22ZM391.00 476.30L372.88 502.18A31.60 31.60 0 0 1 370.69 500.50ZM391.00 476.30L370.64 500.57A31.68 31.68 0 0 1 368.60 498.70ZM391.00 476.30L368.71 498.59A31.53 31.53 0 0 1 366.85 496.56ZM391.00 476.30L366.86 496.56A31.51 31.51 0 0 1 365.19 494.38ZM391.00 476.30L365.56 494.11A31.06 31.06 0 0 1 364.10 491.83ZM391.00 476.30L364.03 491.87A31.15 31.15 0 0 1 362.77 489.46ZM391.00 476.30L363.01 489.35A30.88 30.88 0 0 1 361.98 486.86ZM391.00 476.30L362.35 486.73A30.49 30.49 0 0 1 361.55 484.19ZM391.00 476.30L361.56 484.19A30.48 30.48 0 0 1 360.98 481.59ZM391.00 476.30L360.98 481.59A30.49 30.49 0 0 1 360.63 478.96ZM391.00 476.30L360.82 478.94A30.29 30.29 0 0 1 360.71 476.30ZM391.00 476.30L361.14 476.30A29.86 29.86 0 0 1 361.25 473.70ZM391.00 476.30L361.49 473.72A29.62 29.62 0 0 1 361.83 471.16ZM391.00 476.30L362.44 471.26A29.00 29.00 0 0 1 362.99 468.79ZM391.00 476.30L363.15 468.84A28.84 28.84 0 0 1 363.90 466.44ZM391.00 476.30L363.86 466.42A28.88 28.88 0 0 1 364.83 464.09ZM391.00 476.30L365.31 464.32A28.34 28.34 0 0 1 366.46 462.13ZM391.00 476.30L366.89 462.38A27.84 27.84 0 0 1 368.20 460.33ZM391.00 476.30L368.30 460.41A27.71 27.71 0 0 1 369.77 458.49ZM391.00 476.30L370.13 458.79A27.25 27.25 0 0 1 371.73 457.03ZM391.00 476.30L372.28 457.58A26.48 26.48 0 0 1 373.98 456.02ZM391.00 476.30L374.58 456.73A25.54 25.54 0 0 1 376.35 455.38ZM391.00 476.30L376.80 456.02A24.76 24.76 0 0 1 378.62 454.86ZM391.00 476.30L379.01 455.53A23.98 23.98 0 0 1 380.86 454.56ZM391.00 476.30L381.14 455.16A23.32 23.32 0 0 1 383.02 454.38ZM391.00 476.30L383.33 455.23A22.42 22.42 0 0 1 385.20 454.65ZM391.00 476.30L385.34 455.18A21.86 21.86 0 0 1 387.20 454.77ZM391.00 476.30L387.27 455.16A21.46 21.46 0 0 1 389.13 454.92ZM391.00 476.30L389.18 455.51A20.87 20.87 0 0 1 391.00 455.43Z"/></clipPath>
<g clip-path="url(#clipF)">
<path d="M391.00 472.30L391.00 430.30M391.17 472.30L393.01 430.34M391.35 472.32L395.01 430.48M391.52 472.33L397.00 430.69M391.69 472.36L398.99 431.00M391.87 472.39L400.96 431.39M392.04 472.44L402.91 431.87M392.20 472.49L404.83 432.43M392.37 472.54L406.73 433.07M392.53 472.60L408.60 433.80M392.69 472.67L410.44 434.61M392.85 472.75L412.24 435.50M393.00 472.84L414.00 436.46M393.15 472.93L415.72 437.50M393.29 473.02L417.38 438.62M393.44 473.13L419.00 439.81M393.57 473.24L420.57 441.06M393.70 473.35L422.08 442.39M393.83 473.47L423.53 443.77M393.95 473.60L424.91 445.22M394.06 473.73L426.24 446.73M394.17 473.86L427.49 448.30M394.28 474.01L428.68 449.92M394.37 474.15L429.80 451.58M394.46 474.30L430.84 453.30M394.55 474.45L431.80 455.06M394.63 474.61L432.69 456.86M394.70 474.77L433.50 458.70M394.76 474.93L434.23 460.57M394.81 475.10L434.87 462.47M394.86 475.26L435.43 464.39M394.91 475.43L435.91 466.34M394.94 475.61L436.30 468.31M394.97 475.78L436.61 470.30M394.98 475.95L436.82 472.29M395.00 476.13L436.96 474.29M395.00 476.30L437.00 476.30M395.00 476.47L436.96 478.31M394.98 476.65L436.82 480.31M394.97 476.82L436.61 482.30M394.94 476.99L436.30 484.29M394.91 477.17L435.91 486.26M394.86 477.34L435.43 488.21M394.81 477.50L434.87 490.13M394.76 477.67L434.23 492.03M394.70 477.83L433.50 493.90M394.63 477.99L432.69 495.74M394.55 478.15L431.80 497.54M394.46 478.30L430.84 499.30M394.37 478.45L429.80 501.02M394.28 478.59L428.68 502.68M394.17 478.74L427.49 504.30M394.06 478.87L426.24 505.87M393.95 479.00L424.91 507.38M393.83 479.13L423.53 508.83M393.70 479.25L422.08 510.21M393.57 479.36L420.57 511.54M393.44 479.47L419.00 512.79M393.29 479.58L417.38 513.98M393.15 479.67L415.72 515.10M393.00 479.76L414.00 516.14M392.85 479.85L412.24 517.10M392.69 479.93L410.44 517.99M392.53 480.00L408.60 518.80M392.37 480.06L406.73 519.53M392.20 480.11L404.83 520.17M392.04 480.16L402.91 520.73M391.87 480.21L400.96 521.21M391.69 480.24L398.99 521.60M391.52 480.27L397.00 521.91M391.35 480.28L395.01 522.12M391.17 480.30L393.01 522.26M391.00 480.30L391.00 522.30M390.83 480.30L388.99 522.26M390.65 480.28L386.99 522.12M390.48 480.27L385.00 521.91M390.31 480.24L383.01 521.60M390.13 480.21L381.04 521.21M389.96 480.16L379.09 520.73M389.80 480.11L377.17 520.17M389.63 480.06L375.27 519.53M389.47 480.00L373.40 518.80M389.31 479.93L371.56 517.99M389.15 479.85L369.76 517.10M389.00 479.76L368.00 516.14M388.85 479.67L366.28 515.10M388.71 479.58L364.62 513.98M388.56 479.47L363.00 512.79M388.43 479.36L361.43 511.54M388.30 479.25L359.92 510.21M388.17 479.13L358.47 508.83M388.05 479.00L357.09 507.38M387.94 478.87L355.76 505.87M387.83 478.74L354.51 504.30M387.72 478.59L353.32 502.68M387.63 478.45L352.20 501.02M387.54 478.30L351.16 499.30M387.45 478.15L350.20 497.54M387.37 477.99L349.31 495.74M387.30 477.83L348.50 493.90M387.24 477.67L347.77 492.03M387.19 477.50L347.13 490.13M387.14 477.34L346.57 488.21M387.09 477.17L346.09 486.26M387.06 476.99L345.70 484.29M387.03 476.82L345.39 482.30M387.02 476.65L345.18 480.31M387.00 476.47L345.04 478.31M387.00 476.30L345.00 476.30M387.00 476.13L345.04 474.29M387.02 475.95L345.18 472.29M387.03 475.78L345.39 470.30M387.06 475.61L345.70 468.31M387.09 475.43L346.09 466.34M387.14 475.26L346.57 464.39M387.19 475.10L347.13 462.47M387.24 474.93L347.77 460.57M387.30 474.77L348.50 458.70M387.37 474.61L349.31 456.86M387.45 474.45L350.20 455.06M387.54 474.30L351.16 453.30M387.63 474.15L352.20 451.58M387.72 474.01L353.32 449.92M387.83 473.86L354.51 448.30M387.94 473.73L355.76 446.73M388.05 473.60L357.09 445.22M388.17 473.47L358.47 443.77M388.30 473.35L359.92 442.39M388.43 473.24L361.43 441.06M388.56 473.13L363.00 439.81M388.71 473.02L364.62 438.62M388.85 472.93L366.28 437.50M389.00 472.84L368.00 436.46M389.15 472.75L369.76 435.50M389.31 472.67L371.56 434.61M389.47 472.60L373.40 433.80M389.63 472.54L375.27 433.07M389.80 472.49L377.17 432.43M389.96 472.44L379.09 431.87M390.13 472.39L381.04 431.39M390.31 472.36L383.01 431.00M390.48 472.33L385.00 430.69M390.65 472.32L386.99 430.48M390.83 472.30L388.99 430.34" stroke="#666" stroke-width="0.35" fill="none"/>
<circle cx="391.00" cy="476.30" r="12.20" fill="none" stroke="#3a3a3a" stroke-width="3.0"/>
<circle cx="391.00" cy="476.30" r="27.50" fill="none" stroke="#3e3e3e" stroke-width="2.6"/>
<circle cx="391.00" cy="476.30" r="5.50" fill="none" stroke="#444" stroke-width="0.8"/>
<circle cx="391.00" cy="476.30" r="8.50" fill="none" stroke="#444" stroke-width="0.8"/>
<circle cx="391.00" cy="476.30" r="16.50" fill="none" stroke="#9a9a9a" stroke-width="0.6"/>
<circle cx="391.00" cy="476.30" r="19.50" fill="none" stroke="#9a9a9a" stroke-width="0.6"/>
<circle cx="391.00" cy="476.30" r="22.50" fill="none" stroke="#555" stroke-width="0.7"/>
<circle cx="391.00" cy="476.30" r="31.50" fill="none" stroke="#9a9a9a" stroke-width="0.6"/>
<circle cx="391.00" cy="476.30" r="34.50" fill="none" stroke="#555" stroke-width="0.7"/>
<circle cx="391.00" cy="476.30" r="38.00" fill="none" stroke="#9a9a9a" stroke-width="0.6"/>
<circle cx="391.00" cy="476.30" r="41.50" fill="none" stroke="#9a9a9a" stroke-width="0.6"/>
<path d="M400.55 466.75L405.14 462.16M400.55 485.85L405.14 490.44M381.45 485.85L376.86 490.44M381.45 466.75L376.86 462.16" stroke="#3a3a3a" stroke-width="1.3" fill="none"/>
</g>
<polyline points="391.00,431.91 392.54,432.10 394.06,432.34 395.56,432.63 397.05,433.04 398.50,433.50 399.94,434.01 401.34,434.57 402.72,435.18 404.06,435.87 405.36,436.60 406.63,437.38 407.86,438.19 409.05,439.05 410.21,439.94 411.32,440.86 412.40,441.82 413.43,442.81 414.43,443.81 415.42,444.81 416.36,445.84 417.26,446.89 418.12,447.98 418.94,449.08 419.71,450.21 420.43,451.36 421.12,452.52 421.75,453.71 422.38,454.88 423.05,456.02 423.67,457.18 424.25,458.36 424.79,459.56 425.29,460.77 425.74,462.00 426.15,463.24 426.51,464.49 426.83,465.75 427.11,467.01 427.34,468.29 427.53,469.57 427.67,470.85 427.82,472.13 427.94,473.41 428.02,474.69 428.05,475.98 428.04,477.26 427.99,478.55 427.89,479.83 427.74,481.11 427.55,482.38 427.28,483.64 426.95,484.88 426.57,486.11 426.16,487.32 425.70,488.51 425.20,489.69 424.66,490.84 424.08,491.98 423.47,493.09 422.82,494.18 422.09,495.22 421.31,496.22 420.50,497.19 419.66,498.12 418.78,499.02 417.88,499.89 416.96,500.72 416.01,501.52 415.03,502.28 414.03,503.01 413.01,503.69 411.97,504.34 410.89,504.91 409.80,505.45 408.69,505.94 407.58,506.40 406.45,506.81 405.31,507.18 404.17,507.50 403.02,507.79 401.86,508.03 400.71,508.23 399.55,508.39 398.40,508.51 397.24,508.59 396.10,508.64 394.95,508.66 393.82,508.65 392.69,508.59 391.56,508.50 390.45,508.39 389.34,508.26 388.24,508.10 387.14,507.90 386.06,507.67 384.99,507.39 383.94,507.08 382.89,506.74 381.87,506.36 380.86,505.94 379.86,505.49 378.89,505.01 377.94,504.50 377.01,503.95 376.09,503.38 375.21,502.77 374.34,502.13 373.50,501.48 372.67,500.81 371.87,500.12 371.09,499.40 370.34,498.65 369.61,497.88 368.92,497.08 368.25,496.27 367.62,495.43 367.01,494.57 366.44,493.70 365.90,492.80 365.39,491.89 364.91,490.96 364.48,490.02 364.08,489.06 363.71,488.10 363.38,487.12 363.08,486.13 362.82,485.14 362.60,484.14 362.41,483.13 362.25,482.12 362.13,481.11 362.05,480.09 362.00,479.08 361.99,478.07 362.01,477.06 362.08,476.05 362.21,475.05 362.39,474.06 362.59,473.09 362.83,472.12 363.10,471.16 363.40,470.22 363.74,469.29 364.10,468.38 364.50,467.49 364.93,466.61 365.38,465.76 365.86,464.92 366.38,464.11 366.93,463.32 367.52,462.57 368.12,461.83 368.75,461.12 369.40,460.44 370.07,459.79 370.78,459.17 371.60,458.67 372.43,458.21 373.27,457.79 374.11,457.40 374.96,457.04 375.82,456.73 376.69,456.47 377.56,456.25 378.43,456.06 379.30,455.91 380.16,455.79 381.02,455.71 381.87,455.67 382.71,455.65 383.53,455.68 384.34,455.69 385.11,455.65 385.87,455.63 386.63,455.65 387.38,455.69 388.12,455.75 388.85,455.79 389.57,455.84 390.29,455.93" fill="none" stroke="#383838" stroke-width="2.0" stroke-linejoin="miter" stroke-linecap="round"/>
<text font-size="5.0" fill="#1c1c1c" transform="translate(391.00 413.30) rotate(-90.00) scale(0.77 1)" dominant-baseline="central" stroke="#1c1c1c" stroke-width="0.16">TAG 18:2 - 20:1 - 18:1</text>
<text font-size="5.0" fill="#1c1c1c" transform="translate(397.18 413.60) rotate(-84.38) scale(0.77 1)" dominant-baseline="central" stroke="#1c1c1c" stroke-width="0.16">TAG 16:0 - 18:2 - 20:4</text>
<text font-size="5.0" fill="#1c1c1c" transform="translate(403.29 414.51) rotate(-78.75) scale(0.77 1)" dominant-baseline="central" stroke="#1c1c1c" stroke-width="0.16">TAG 18:1 - 18:1 - 20:4</text>
<text font-size="5.0" fill="#1c1c1c" transform="translate(409.29 416.01) rotate(-73.12) scale(0.77 1)" dominant-baseline="central" stroke="#1c1c1c" stroke-width="0.16">TAG 16:0 - 20:3 - 18:1</text>
<text font-size="5.0" fill="#1c1c1c" transform="translate(415.11 418.10) rotate(-67.50) scale(0.77 1)" dominant-baseline="central" stroke="#1c1c1c" stroke-width="0.16">TAG 16:0 - 18:1 - 22:5</text>
<text font-size="5.0" fill="#1c1c1c" transform="translate(420.70 420.74) rotate(-61.88) scale(0.77 1)" dominant-baseline="central" stroke="#1c1c1c" stroke-width="0.16">TAG 18:1 - 18:1 - 18:1</text>
<text font-size="5.0" fill="#1c1c1c" transform="translate(426.00 423.92) rotate(-56.25) scale(0.77 1)" dominant-baseline="central" stroke="#1c1c1c" stroke-width="0.16">TAG 18:1 - 22:6 - 18:1</text>
<text font-size="5.0" fill="#1c1c1c" transform="translate(430.97 427.60) rotate(-50.62) scale(0.77 1)" dominant-baseline="central" stroke="#1c1c1c" stroke-width="0.16">TAG 18:2 - 18:2 - 18:2</text>
<text font-size="5.0" fill="#1c1c1c" transform="translate(435.55 431.75) rotate(-45.00) scale(0.77 1)" dominant-baseline="central" stroke="#1c1c1c" stroke-width="0.16">TAG 18:1 - 20:4 - 16:0</text>
<text font-size="5.0" fill="#1c1c1c" transform="translate(439.70 436.33) rotate(-39.38) scale(0.77 1)" dominant-baseline="central" stroke="#1c1c1c" stroke-width="0.16">TAG 18:1 - 22:4 - 18:1</text>
<text font-size="5.0" fill="#1c1c1c" transform="translate(443.38 441.30) rotate(-33.75) scale(0.77 1)" dominant-baseline="central" stroke="#1c1c1c" stroke-width="0.16">TAG 18:1 - 18:1 - 18:2</text>
<text font-size="5.0" fill="#1c1c1c" transform="translate(446.56 446.60) rotate(-28.12) scale(0.77 1)" dominant-baseline="central" stroke="#1c1c1c" stroke-width="0.16">TAG 22:4 - 16:0 - 18:1</text>
<text font-size="5.0" fill="#1c1c1c" transform="translate(449.20 452.19) rotate(-22.50) scale(0.77 1)" dominant-baseline="central" stroke="#1c1c1c" stroke-width="0.16">TAG 18:2 - 20:3 - 18:1</text>
<text font-size="5.0" fill="#1c1c1c" transform="translate(451.29 458.01) rotate(-16.88) scale(0.77 1)" dominant-baseline="central" stroke="#1c1c1c" stroke-width="0.16">TAG 18:2 - 16:0 - 20:1</text>
<text font-size="5.0" fill="#1c1c1c" transform="translate(452.79 464.01) rotate(-11.25) scale(0.77 1)" dominant-baseline="central" stroke="#1c1c1c" stroke-width="0.16">TAG 18:1 - 16:1 - 18:1</text>
<text font-size="5.0" fill="#1c1c1c" transform="translate(453.70 470.12) rotate(-5.62) scale(0.77 1)" dominant-baseline="central" stroke="#1c1c1c" stroke-width="0.16">TAG 18:2 - 16:0 - 18:3</text>
<text font-size="5.0" fill="#1c1c1c" font-weight="bold" transform="translate(454.00 476.30) rotate(0.00) scale(0.77 1)" dominant-baseline="central" stroke="#1c1c1c" stroke-width="0.16">DAG 20:5 - 20:0</text>
<text font-size="5.0" fill="#1c1c1c" transform="translate(453.70 482.48) rotate(5.62) scale(0.77 1)" dominant-baseline="central" stroke="#1c1c1c" stroke-width="0.16">TAG 16:0 - 16:1 - 18:1</text>
<text font-size="5.0" fill="#1c1c1c" transform="translate(452.79 488.59) rotate(11.25) scale(0.77 1)" dominant-baseline="central" stroke="#1c1c1c" stroke-width="0.16">TAG 18:2 - 20:1 - 16:0</text>
<text font-size="5.0" fill="#1c1c1c" transform="translate(451.29 494.59) rotate(16.88) scale(0.77 1)" dominant-baseline="central" stroke="#1c1c1c" stroke-width="0.16">TAG 18:1 - 16:0 - 18:3</text>
<text font-size="5.0" fill="#1c1c1c" transform="translate(449.20 500.41) rotate(22.50) scale(0.77 1)" dominant-baseline="central" stroke="#1c1c1c" stroke-width="0.16">TAG 18:0 - 18:0 - 16:0</text>
<text font-size="5.0" fill="#1c1c1c" transform="translate(446.56 506.00) rotate(28.12) scale(0.77 1)" dominant-baseline="central" stroke="#1c1c1c" stroke-width="0.16">TAG 18:2 - 16:0 - 22:6</text>
<text font-size="5.0" fill="#1c1c1c" transform="translate(443.38 511.30) rotate(33.75) scale(0.77 1)" dominant-baseline="central" stroke="#1c1c1c" stroke-width="0.16">TAG 20:2 - 18:1 - 18:2</text>
<text font-size="5.0" fill="#1c1c1c" transform="translate(439.70 516.27) rotate(39.38) scale(0.77 1)" dominant-baseline="central" stroke="#1c1c1c" stroke-width="0.16">TAG 18:0 - 20:4 - 18:2</text>
<text font-size="5.0" fill="#1c1c1c" transform="translate(435.55 520.85) rotate(45.00) scale(0.77 1)" dominant-baseline="central" stroke="#1c1c1c" stroke-width="0.16">TAG 16:0 - 18:1 - 20:4</text>
<text font-size="5.0" fill="#1c1c1c" transform="translate(430.97 525.00) rotate(50.62) scale(0.77 1)" dominant-baseline="central" stroke="#1c1c1c" stroke-width="0.16">TAG 18:1 - 18:2 - 16:1</text>
<text font-size="5.0" fill="#1c1c1c" transform="translate(426.00 528.68) rotate(56.25) scale(0.77 1)" dominant-baseline="central" stroke="#1c1c1c" stroke-width="0.16">DAG 16:0 - 18:1</text>
<text font-size="5.0" fill="#1c1c1c" transform="translate(420.70 531.86) rotate(61.88) scale(0.77 1)" dominant-baseline="central" stroke="#1c1c1c" stroke-width="0.16">TAG 18:0 - 16:0 - 16:0</text>
<text font-size="5.0" fill="#1c1c1c" transform="translate(415.11 534.50) rotate(67.50) scale(0.77 1)" dominant-baseline="central" stroke="#1c1c1c" stroke-width="0.16">DAG 18:2 - 20:4</text>
<text font-size="5.0" fill="#1c1c1c" transform="translate(409.29 536.59) rotate(73.12) scale(0.77 1)" dominant-baseline="central" stroke="#1c1c1c" stroke-width="0.16">TAG 16:0 - 18:1 - 18:1</text>
<text font-size="5.0" fill="#1c1c1c" transform="translate(403.29 538.09) rotate(78.75) scale(0.77 1)" dominant-baseline="central" stroke="#1c1c1c" stroke-width="0.16">TAG 20:4 - 16:0 - 18:1</text>
<text font-size="5.0" fill="#1c1c1c" transform="translate(397.18 539.00) rotate(84.38) scale(0.77 1)" dominant-baseline="central" stroke="#1c1c1c" stroke-width="0.16">DAG 16:0 - 20:4</text>
<text font-size="5.0" fill="#1c1c1c" text-anchor="end" transform="translate(391.00 539.30) rotate(270.00) scale(0.77 1)" dominant-baseline="central" stroke="#1c1c1c" stroke-width="0.16">TAG 18:2 - 18:1 - 16:0</text>
<text font-size="5.0" fill="#1c1c1c" text-anchor="end" transform="translate(384.82 539.00) rotate(275.62) scale(0.77 1)" dominant-baseline="central" stroke="#1c1c1c" stroke-width="0.16">TAG 16:0 - 16:0 - 16:0</text>
<text font-size="5.0" fill="#1c1c1c" text-anchor="end" transform="translate(378.71 538.09) rotate(281.25) scale(0.77 1)" dominant-baseline="central" stroke="#1c1c1c" stroke-width="0.16">DAG 18:1 - 18:1</text>
<text font-size="5.0" fill="#1c1c1c" text-anchor="end" transform="translate(372.71 536.59) rotate(286.88) scale(0.77 1)" dominant-baseline="central" stroke="#1c1c1c" stroke-width="0.16">TAG 14:0 - 16:0 - 18:1</text>
<text font-size="5.0" fill="#1c1c1c" text-anchor="end" transform="translate(366.89 534.50) rotate(292.50) scale(0.77 1)" dominant-baseline="central" stroke="#1c1c1c" stroke-width="0.16">TAG 18:0 - 18:1 - 18:1</text>
<text font-size="5.0" fill="#1c1c1c" text-anchor="end" transform="translate(361.30 531.86) rotate(298.12) scale(0.77 1)" dominant-baseline="central" stroke="#1c1c1c" stroke-width="0.16">TAG 16:0 - 18:0 - 18:0</text>
<text font-size="5.0" fill="#1c1c1c" text-anchor="end" transform="translate(356.00 528.68) rotate(303.75) scale(0.77 1)" dominant-baseline="central" stroke="#1c1c1c" stroke-width="0.16">DAG 16:1 - 18:1</text>
<text font-size="5.0" fill="#1c1c1c" text-anchor="end" transform="translate(351.03 525.00) rotate(309.38) scale(0.77 1)" dominant-baseline="central" stroke="#1c1c1c" stroke-width="0.16">TAG 18:1 - 18:1 - 16:1</text>
<text font-size="5.0" fill="#1c1c1c" text-anchor="end" transform="translate(346.45 520.85) rotate(315.00) scale(0.77 1)" dominant-baseline="central" stroke="#1c1c1c" stroke-width="0.16">TAG 16:0 - 18:1 - 18:1</text>
<text font-size="5.0" fill="#1c1c1c" text-anchor="end" transform="translate(342.30 516.27) rotate(320.62) scale(0.77 1)" dominant-baseline="central" stroke="#1c1c1c" stroke-width="0.16">TAG 18:2 - 16:0 - 18:1</text>
<text font-size="5.0" fill="#1c1c1c" text-anchor="end" transform="translate(338.62 511.30) rotate(326.25) scale(0.77 1)" dominant-baseline="central" stroke="#1c1c1c" stroke-width="0.16">TAG 18:1 - 18:1 - 18:1</text>
<text font-size="5.0" fill="#1c1c1c" text-anchor="end" transform="translate(335.44 506.00) rotate(331.88) scale(0.77 1)" dominant-baseline="central" stroke="#1c1c1c" stroke-width="0.16">TAG 18:0 - 16:0 - 18:1</text>
<text font-size="5.0" fill="#1c1c1c" text-anchor="end" transform="translate(332.80 500.41) rotate(337.50) scale(0.77 1)" dominant-baseline="central" stroke="#1c1c1c" stroke-width="0.16">TAG 16:1 - 18:1 - 18:1</text>
<text font-size="5.0" fill="#1c1c1c" text-anchor="end" transform="translate(330.71 494.59) rotate(343.12) scale(0.77 1)" dominant-baseline="central" stroke="#1c1c1c" stroke-width="0.16">TAG 16:0 - 18:1 - 18:2</text>
<text font-size="5.0" fill="#1c1c1c" text-anchor="end" transform="translate(329.21 488.59) rotate(348.75) scale(0.77 1)" dominant-baseline="central" stroke="#1c1c1c" stroke-width="0.16">TAG 16:0 - 18:0 - 18:1</text>
<text font-size="5.0" fill="#1c1c1c" text-anchor="end" transform="translate(328.30 482.48) rotate(354.38) scale(0.77 1)" dominant-baseline="central" stroke="#1c1c1c" stroke-width="0.16">TAG 18:0 - 18:1 - 18:1</text>
<text font-size="5.0" fill="#1c1c1c" text-anchor="end" font-weight="bold" transform="translate(328.00 476.30) rotate(360.00) scale(0.77 1)" dominant-baseline="central" stroke="#1c1c1c" stroke-width="0.16">DAG 18:1 - 20:4</text>
<text font-size="5.0" fill="#1c1c1c" text-anchor="end" transform="translate(328.30 470.12) rotate(365.62) scale(0.77 1)" dominant-baseline="central" stroke="#1c1c1c" stroke-width="0.16">TAG 16:0 - 18:1 - 18:1</text>
<text font-size="5.0" fill="#1c1c1c" text-anchor="end" transform="translate(329.21 464.01) rotate(371.25) scale(0.77 1)" dominant-baseline="central" stroke="#1c1c1c" stroke-width="0.16">TAG 18:2 - 16:0 - 18:2</text>
<text font-size="5.0" fill="#1c1c1c" text-anchor="end" transform="translate(330.71 458.01) rotate(376.88) scale(0.77 1)" dominant-baseline="central" stroke="#1c1c1c" stroke-width="0.16">TAG 16:1 - 18:1 - 18:1</text>
<text font-size="5.0" fill="#1c1c1c" text-anchor="end" transform="translate(332.80 452.19) rotate(382.50) scale(0.77 1)" dominant-baseline="central" stroke="#1c1c1c" stroke-width="0.16">TAG 18:1 - 20:1 - 18:1</text>
<text font-size="5.0" fill="#1c1c1c" text-anchor="end" transform="translate(335.44 446.60) rotate(388.12) scale(0.77 1)" dominant-baseline="central" stroke="#1c1c1c" stroke-width="0.16">TAG 16:0 - 20:1 - 18:2</text>
<text font-size="5.0" fill="#1c1c1c" text-anchor="end" transform="translate(338.62 441.30) rotate(393.75) scale(0.77 1)" dominant-baseline="central" stroke="#1c1c1c" stroke-width="0.16">TAG 18:2 - 18:2 - 16:0</text>
<text font-size="5.0" fill="#1c1c1c" text-anchor="end" transform="translate(342.30 436.33) rotate(399.38) scale(0.77 1)" dominant-baseline="central" stroke="#1c1c1c" stroke-width="0.16">TAG 18:2 - 16:1 - 18:2</text>
<text font-size="5.0" fill="#1c1c1c" text-anchor="end" transform="translate(346.45 431.75) rotate(405.00) scale(0.77 1)" dominant-baseline="central" stroke="#1c1c1c" stroke-width="0.16">TAG 16:1 - 18:1 - 16:0</text>
<text font-size="5.0" fill="#1c1c1c" text-anchor="end" transform="translate(351.03 427.60) rotate(410.62) scale(0.77 1)" dominant-baseline="central" stroke="#1c1c1c" stroke-width="0.16">TAG 16:0 - 18:2 - 18:0</text>
<text font-size="5.0" fill="#1c1c1c" text-anchor="end" transform="translate(356.00 423.92) rotate(416.25) scale(0.77 1)" dominant-baseline="central" stroke="#1c1c1c" stroke-width="0.16">TAG 16:0 - 16:1 - 20:4</text>
<text font-size="5.0" fill="#1c1c1c" text-anchor="end" transform="translate(361.30 420.74) rotate(421.88) scale(0.77 1)" dominant-baseline="central" stroke="#1c1c1c" stroke-width="0.16">TAG 18:0 - 18:0 - 18:1</text>
<text font-size="5.0" fill="#1c1c1c" text-anchor="end" transform="translate(366.89 418.10) rotate(427.50) scale(0.77 1)" dominant-baseline="central" stroke="#1c1c1c" stroke-width="0.16">TAG 16:0 - 18:1 - 18:1</text>
<text font-size="5.0" fill="#1c1c1c" text-anchor="end" transform="translate(372.71 416.01) rotate(433.12) scale(0.77 1)" dominant-baseline="central" stroke="#1c1c1c" stroke-width="0.16">TAG 18:1 - 18:2 - 18:1</text>
<text font-size="5.0" fill="#1c1c1c" text-anchor="end" transform="translate(378.71 414.51) rotate(438.75) scale(0.77 1)" dominant-baseline="central" stroke="#1c1c1c" stroke-width="0.16">TAG 16:0 - 18:1 - 20:1</text>
<text font-size="5.0" fill="#1c1c1c" text-anchor="end" transform="translate(384.82 413.60) rotate(444.38) scale(0.77 1)" dominant-baseline="central" stroke="#1c1c1c" stroke-width="0.16">TAG 18:0 - 18:2 - 20:1</text>
<text font-size="6.0" fill="#962050" text-anchor="middle" font-weight="bold" x="383.00" y="420.50" dominant-baseline="central">Low</text>
<text font-size="6.7" fill="#962050" text-anchor="middle" font-weight="bold" x="383.40" y="477.00" dominant-baseline="central">High</text>
<text font-size="14" fill="#000" font-weight="bold" x="8.00" y="608.60" stroke="#000" stroke-width="0.35">G</text>
<text font-size="9.4" fill="#1e1e1e" textLength="52" lengthAdjust="spacingAndGlyphs" x="32.70" y="605.20">Sphingolipids</text>
<path d="M120.70 665.20L120.70 631.20M122.37 665.29L125.93 631.47M124.03 665.55L131.10 632.29M125.64 665.98L136.15 633.65M127.21 666.58L141.04 635.52M128.70 667.34L145.70 637.90M130.10 668.26L150.09 640.75M131.41 669.31L154.16 644.04M132.59 670.49L157.86 647.74M133.64 671.80L161.15 651.81M134.56 673.20L164.00 656.20M135.32 674.69L166.38 660.86M135.92 676.26L168.25 665.75M136.35 677.87L169.61 670.80M136.61 679.53L170.43 675.97M136.70 681.20L170.70 681.20M136.61 682.87L170.43 686.43M136.35 684.53L169.61 691.60M135.92 686.14L168.25 696.65M135.32 687.71L166.38 701.54M134.56 689.20L164.00 706.20M133.64 690.60L161.15 710.59M132.59 691.91L157.86 714.66M131.41 693.09L154.16 718.36M130.10 694.14L150.09 721.65M128.70 695.06L145.70 724.50M127.21 695.82L141.04 726.88M125.64 696.42L136.15 728.75M124.03 696.85L131.10 730.11M122.37 697.11L125.93 730.93M120.70 697.20L120.70 731.20M119.03 697.11L115.47 730.93M117.37 696.85L110.30 730.11M115.76 696.42L105.25 728.75M114.19 695.82L100.36 726.88M112.70 695.06L95.70 724.50M111.30 694.14L91.31 721.65M109.99 693.09L87.24 718.36M108.81 691.91L83.54 714.66M107.76 690.60L80.25 710.59M106.84 689.20L77.40 706.20M106.08 687.71L75.02 701.54M105.48 686.14L73.15 696.65M105.05 684.53L71.79 691.60M104.79 682.87L70.97 686.43M104.70 681.20L70.70 681.20M104.79 679.53L70.97 675.97M105.05 677.87L71.79 670.80M105.48 676.26L73.15 665.75M106.08 674.69L75.02 660.86M106.84 673.20L77.40 656.20M107.76 671.80L80.25 651.81M108.81 670.49L83.54 647.74M109.99 669.31L87.24 644.04M111.30 668.26L91.31 640.75M112.70 667.34L95.70 637.90M114.19 666.58L100.36 635.52M115.76 665.98L105.25 633.65M117.37 665.55L110.30 632.29M119.03 665.29L115.47 631.47" stroke="#9a9a9a" stroke-width="0.95" fill="none"/>
<circle cx="120.70" cy="681.20" r="50.00" fill="none" stroke="#b5b5b5" stroke-width="0.6"/>
<path d="M120.70 681.20L120.70 640.42A40.78 40.78 0 0 1 124.96 640.64ZM120.70 681.20L124.94 640.88A40.54 40.54 0 0 1 129.13 641.54ZM120.70 681.20L129.03 642.02A40.06 40.06 0 0 1 133.08 643.10ZM120.70 681.20L132.87 643.73A39.39 39.39 0 0 1 136.72 645.21ZM120.70 681.20L136.63 645.41A39.18 39.18 0 0 1 140.29 647.27ZM120.70 681.20L140.08 647.62A38.77 38.77 0 0 1 143.49 649.83ZM120.70 681.20L143.32 650.06A38.49 38.49 0 0 1 146.46 652.60ZM120.70 681.20L146.24 652.83A38.17 38.17 0 0 1 149.07 655.66ZM120.70 681.20L148.46 656.20A37.36 37.36 0 0 1 150.92 659.24ZM120.70 681.20L150.57 659.50A36.92 36.92 0 0 1 152.67 662.74ZM120.70 681.20L152.72 662.71A36.98 36.98 0 0 1 154.48 666.16ZM120.70 681.20L153.85 666.44A36.28 36.28 0 0 1 155.21 669.99ZM120.70 681.20L154.97 670.07A36.03 36.03 0 0 1 155.94 673.71ZM120.70 681.20L155.06 673.90A35.13 35.13 0 0 1 155.63 677.53ZM120.70 681.20L155.45 677.55A34.94 34.94 0 0 1 155.64 681.20ZM120.70 681.20L155.36 681.20A34.66 34.66 0 0 1 155.17 684.82ZM120.70 681.20L154.43 684.74A33.91 33.91 0 0 1 153.87 688.25ZM120.70 681.20L153.73 688.22A33.77 33.77 0 0 1 152.81 691.63ZM120.70 681.20L152.22 691.44A33.14 33.14 0 0 1 150.98 694.68ZM120.70 681.20L149.95 694.22A32.02 32.02 0 0 1 148.43 697.21ZM120.70 681.20L147.91 696.91A31.42 31.42 0 0 1 146.12 699.67ZM120.70 681.20L145.88 699.49A31.12 31.12 0 0 1 143.83 702.03ZM120.70 681.20L143.56 701.78A30.76 30.76 0 0 1 141.28 704.06ZM120.70 681.20L140.66 703.37A29.83 29.83 0 0 1 138.23 705.33ZM120.70 681.20L137.82 704.77A29.13 29.13 0 0 1 135.26 706.43ZM120.70 681.20L135.05 706.05A28.69 28.69 0 0 1 132.37 707.41ZM120.70 681.20L132.06 706.72A27.94 27.94 0 0 1 129.33 707.77ZM120.70 681.20L129.21 707.39A27.53 27.53 0 0 1 126.42 708.13ZM120.70 681.20L126.34 707.75A27.14 27.14 0 0 1 123.54 708.19ZM120.70 681.20L123.49 707.71A26.66 26.66 0 0 1 120.70 707.86ZM120.70 681.20L120.70 707.18A25.98 25.98 0 0 1 117.98 707.04ZM120.70 681.20L118.04 706.53A25.47 25.47 0 0 1 115.40 706.12ZM120.70 681.20L115.51 705.61A24.96 24.96 0 0 1 112.99 704.93ZM120.70 681.20L113.10 704.59A24.59 24.59 0 0 1 110.70 703.66ZM120.70 681.20L110.95 703.11A23.98 23.98 0 0 1 108.71 701.97ZM120.70 681.20L109.05 701.39A23.31 23.31 0 0 1 107.00 700.06ZM120.70 681.20L107.01 700.04A23.29 23.29 0 0 1 105.12 698.51ZM120.70 681.20L105.44 698.15A22.80 22.80 0 0 1 103.75 696.46ZM120.70 681.20L103.92 696.31A22.58 22.58 0 0 1 102.43 694.47ZM120.70 681.20L102.88 694.15A22.03 22.03 0 0 1 101.62 692.21ZM120.70 681.20L101.44 692.32A22.24 22.24 0 0 1 100.39 690.24ZM120.70 681.20L100.71 690.10A21.88 21.88 0 0 1 99.89 687.96ZM120.70 681.20L100.57 687.74A21.16 21.16 0 0 1 100.00 685.60ZM120.70 681.20L100.15 685.57A21.01 21.01 0 0 1 99.80 683.40ZM120.70 681.20L99.84 683.39A20.97 20.97 0 0 1 99.73 681.20ZM120.70 681.20L99.89 681.20A20.81 20.81 0 0 1 100.01 679.03ZM120.70 681.20L99.91 679.02A20.90 20.90 0 0 1 100.25 676.85ZM120.70 681.20L100.60 676.93A20.55 20.55 0 0 1 101.15 674.85ZM120.70 681.20L100.96 674.79A20.76 20.76 0 0 1 101.74 672.76ZM120.70 681.20L101.86 672.81A20.62 20.62 0 0 1 102.84 670.89ZM120.70 681.20L103.18 671.08A20.23 20.23 0 0 1 104.33 669.31ZM120.70 681.20L104.44 669.38A20.10 20.10 0 0 1 105.76 667.75ZM120.70 681.20L105.85 667.83A19.98 19.98 0 0 1 107.33 666.35ZM120.70 681.20L107.58 666.63A19.61 19.61 0 0 1 109.17 665.34ZM120.70 681.20L109.65 665.99A18.80 18.80 0 0 1 111.30 664.92ZM120.70 681.20L111.57 665.39A18.25 18.25 0 0 1 113.28 664.52ZM120.70 681.20L113.66 665.38A17.32 17.32 0 0 1 115.35 664.73ZM120.70 681.20L115.47 665.10A16.93 16.93 0 0 1 117.18 664.64ZM120.70 681.20L117.22 664.80A16.76 16.76 0 0 1 118.95 664.53ZM120.70 681.20L119.01 665.15A16.14 16.14 0 0 1 120.70 665.06Z" fill="#444"/>
<path d="M120.7 681.2 L120.7 635.7 L123.08 635.76 Z" fill="#444"/>
<path d="M120.70 665.20L120.70 639.20M122.37 665.29L125.09 639.43M124.03 665.55L129.43 640.12M125.64 665.98L133.68 641.26M127.21 666.58L137.78 642.83M128.70 667.34L141.70 644.83M130.10 668.26L145.39 647.22M131.41 669.31L148.80 649.99M132.59 670.49L151.91 653.10M133.64 671.80L154.68 656.51M134.56 673.20L157.07 660.20M135.32 674.69L159.07 664.12M135.92 676.26L160.64 668.22M136.35 677.87L161.78 672.47M136.61 679.53L162.47 676.81M136.70 681.20L162.70 681.20M136.61 682.87L162.47 685.59M136.35 684.53L161.78 689.93M135.92 686.14L160.64 694.18M135.32 687.71L159.07 698.28M134.56 689.20L157.07 702.20M133.64 690.60L154.68 705.89M132.59 691.91L151.91 709.30M131.41 693.09L148.80 712.41M130.10 694.14L145.39 715.18M128.70 695.06L141.70 717.57M127.21 695.82L137.78 719.57M125.64 696.42L133.68 721.14M124.03 696.85L129.43 722.28M122.37 697.11L125.09 722.97M120.70 697.20L120.70 723.20M119.03 697.11L116.31 722.97M117.37 696.85L111.97 722.28M115.76 696.42L107.72 721.14M114.19 695.82L103.62 719.57M112.70 695.06L99.70 717.57M111.30 694.14L96.01 715.18M109.99 693.09L92.60 712.41M108.81 691.91L89.49 709.30M107.76 690.60L86.72 705.89M106.84 689.20L84.33 702.20M106.08 687.71L82.33 698.28M105.48 686.14L80.76 694.18M105.05 684.53L79.62 689.93M104.79 682.87L78.93 685.59M104.70 681.20L78.70 681.20M104.79 679.53L78.93 676.81M105.05 677.87L79.62 672.47M105.48 676.26L80.76 668.22M106.08 674.69L82.33 664.12M106.84 673.20L84.33 660.20M107.76 671.80L86.72 656.51M108.81 670.49L89.49 653.10M109.99 669.31L92.60 649.99M111.30 668.26L96.01 647.22M112.70 667.34L99.70 644.83M114.19 666.58L103.62 642.83M115.76 665.98L107.72 641.26M117.37 665.55L111.97 640.12M119.03 665.29L116.31 639.43" stroke="#dcdcdc" stroke-width="0.8" fill="none"/>
<circle cx="120.70" cy="681.20" r="24.50" fill="none" stroke="#d4d4d4" stroke-width="0.8"/>
<circle cx="120.70" cy="681.20" r="33.50" fill="none" stroke="#d4d4d4" stroke-width="0.8"/>
<circle cx="120.70" cy="681.20" r="17.00" fill="#b5b5b5" stroke="#e8e8e8" stroke-width="0.7"/>
<text font-size="5.0" fill="#1c1c1c" transform="translate(120.70 630.20) rotate(-90.00) scale(0.77 1)" dominant-baseline="central" stroke="#1c1c1c" stroke-width="0.16">Cer d18:1/24:1</text>
<text font-size="5.0" fill="#1c1c1c" transform="translate(126.03 630.48) rotate(-84.00) scale(0.77 1)" dominant-baseline="central" stroke="#1c1c1c" stroke-width="0.16">Cer d18:1/24:0</text>
<text font-size="5.0" fill="#1c1c1c" transform="translate(131.30 631.31) rotate(-78.00) scale(0.77 1)" dominant-baseline="central" stroke="#1c1c1c" stroke-width="0.16">Cer d18:1/22:0</text>
<text font-size="5.0" fill="#1c1c1c" transform="translate(136.46 632.70) rotate(-72.00) scale(0.77 1)" dominant-baseline="central" stroke="#1c1c1c" stroke-width="0.16">Cer d18:1/20:0</text>
<text font-size="5.0" fill="#1c1c1c" transform="translate(141.44 634.61) rotate(-66.00) scale(0.77 1)" dominant-baseline="central" stroke="#1c1c1c" stroke-width="0.16">Cer d18:1/16:0</text>
<text font-size="5.0" fill="#1c1c1c" transform="translate(146.20 637.03) rotate(-60.00) scale(0.77 1)" dominant-baseline="central" stroke="#1c1c1c" stroke-width="0.16">HexCer d18:1/24:1</text>
<text font-size="5.0" fill="#1c1c1c" transform="translate(150.68 639.94) rotate(-54.00) scale(0.77 1)" dominant-baseline="central" stroke="#1c1c1c" stroke-width="0.16">Cer d18:0/24:0</text>
<text font-size="5.0" fill="#1c1c1c" transform="translate(154.83 643.30) rotate(-48.00) scale(0.77 1)" dominant-baseline="central" stroke="#1c1c1c" stroke-width="0.16">SM d18:1/18:0</text>
<text font-size="5.0" fill="#1c1c1c" transform="translate(158.60 647.07) rotate(-42.00) scale(0.77 1)" dominant-baseline="central" stroke="#1c1c1c" stroke-width="0.16">SPC d18:1</text>
<text font-size="5.0" fill="#1c1c1c" transform="translate(161.96 651.22) rotate(-36.00) scale(0.77 1)" dominant-baseline="central" stroke="#1c1c1c" stroke-width="0.16">DihexCer d18:1/24:1</text>
<text font-size="5.0" fill="#1c1c1c" transform="translate(164.87 655.70) rotate(-30.00) scale(0.77 1)" dominant-baseline="central" stroke="#1c1c1c" stroke-width="0.16">Cer d18:2/24:0</text>
<text font-size="5.0" fill="#1c1c1c" transform="translate(167.29 660.46) rotate(-24.00) scale(0.77 1)" dominant-baseline="central" stroke="#1c1c1c" stroke-width="0.16">Cer d18:1/26:1</text>
<text font-size="5.0" fill="#1c1c1c" transform="translate(169.20 665.44) rotate(-18.00) scale(0.77 1)" dominant-baseline="central" stroke="#1c1c1c" stroke-width="0.16">Cer d18:1/22:1</text>
<text font-size="5.0" fill="#1c1c1c" transform="translate(170.59 670.60) rotate(-12.00) scale(0.77 1)" dominant-baseline="central" stroke="#1c1c1c" stroke-width="0.16">Cer d18:1/23:0</text>
<text font-size="5.0" fill="#1c1c1c" transform="translate(171.42 675.87) rotate(-6.00) scale(0.77 1)" dominant-baseline="central" stroke="#1c1c1c" stroke-width="0.16">Cer d18:1/18:0</text>
<text font-size="5.0" fill="#1c1c1c" font-weight="bold" transform="translate(171.70 681.20) rotate(0.00) scale(0.77 1)" dominant-baseline="central" stroke="#1c1c1c" stroke-width="0.16">Cer d18:2/24:1</text>
<text font-size="5.0" fill="#1c1c1c" transform="translate(171.42 686.53) rotate(6.00) scale(0.77 1)" dominant-baseline="central" stroke="#1c1c1c" stroke-width="0.16">Cer d18:1/26:0</text>
<text font-size="5.0" fill="#1c1c1c" transform="translate(170.59 691.80) rotate(12.00) scale(0.77 1)" dominant-baseline="central" stroke="#1c1c1c" stroke-width="0.16">HexCer d18:1/16:0</text>
<text font-size="5.0" fill="#1c1c1c" transform="translate(169.20 696.96) rotate(18.00) scale(0.77 1)" dominant-baseline="central" stroke="#1c1c1c" stroke-width="0.16">SM d18:1/24:0</text>
<text font-size="5.0" fill="#1c1c1c" transform="translate(167.29 701.94) rotate(24.00) scale(0.77 1)" dominant-baseline="central" stroke="#1c1c1c" stroke-width="0.16">Cer d18:1/25:0</text>
<text font-size="5.0" fill="#1c1c1c" transform="translate(164.87 706.70) rotate(30.00) scale(0.77 1)" dominant-baseline="central" stroke="#1c1c1c" stroke-width="0.16">SM d18:1/22:0</text>
<text font-size="5.0" fill="#1c1c1c" transform="translate(161.96 711.18) rotate(36.00) scale(0.77 1)" dominant-baseline="central" stroke="#1c1c1c" stroke-width="0.16">SM d18:1/23:0</text>
<text font-size="5.0" fill="#1c1c1c" transform="translate(158.60 715.33) rotate(42.00) scale(0.77 1)" dominant-baseline="central" stroke="#1c1c1c" stroke-width="0.16">SM d18:2/24:1</text>
<text font-size="5.0" fill="#1c1c1c" transform="translate(154.83 719.10) rotate(48.00) scale(0.77 1)" dominant-baseline="central" stroke="#1c1c1c" stroke-width="0.16">HexCer d18:1/22:0</text>
<text font-size="5.0" fill="#1c1c1c" transform="translate(150.68 722.46) rotate(54.00) scale(0.77 1)" dominant-baseline="central" stroke="#1c1c1c" stroke-width="0.16">SM d18:1/16:1</text>
<text font-size="5.0" fill="#1c1c1c" transform="translate(146.20 725.37) rotate(60.00) scale(0.77 1)" dominant-baseline="central" stroke="#1c1c1c" stroke-width="0.16">HexCer d18:1/24:0</text>
<text font-size="5.0" fill="#1c1c1c" transform="translate(141.44 727.79) rotate(66.00) scale(0.77 1)" dominant-baseline="central" stroke="#1c1c1c" stroke-width="0.16">SM d18:2/16:0</text>
<text font-size="5.0" fill="#1c1c1c" transform="translate(136.46 729.70) rotate(72.00) scale(0.77 1)" dominant-baseline="central" stroke="#1c1c1c" stroke-width="0.16">SM d18:1/14:0</text>
<text font-size="5.0" fill="#1c1c1c" transform="translate(131.30 731.09) rotate(78.00) scale(0.77 1)" dominant-baseline="central" stroke="#1c1c1c" stroke-width="0.16">Sa 18:0</text>
<text font-size="5.0" fill="#1c1c1c" transform="translate(126.03 731.92) rotate(84.00) scale(0.77 1)" dominant-baseline="central" stroke="#1c1c1c" stroke-width="0.16">SM d18:1/20:0</text>
<text font-size="5.0" fill="#1c1c1c" text-anchor="end" transform="translate(120.70 732.20) rotate(270.00) scale(0.77 1)" dominant-baseline="central" stroke="#1c1c1c" stroke-width="0.16">Cer d18:1/12:0</text>
<text font-size="5.0" fill="#1c1c1c" text-anchor="end" transform="translate(115.37 731.92) rotate(276.00) scale(0.77 1)" dominant-baseline="central" stroke="#1c1c1c" stroke-width="0.16">SM d18:1/21:0</text>
<text font-size="5.0" fill="#1c1c1c" text-anchor="end" transform="translate(110.10 731.09) rotate(282.00) scale(0.77 1)" dominant-baseline="central" stroke="#1c1c1c" stroke-width="0.16">Cer d18:0/16:0</text>
<text font-size="5.0" fill="#1c1c1c" text-anchor="end" transform="translate(104.94 729.70) rotate(288.00) scale(0.77 1)" dominant-baseline="central" stroke="#1c1c1c" stroke-width="0.16">SM d18:1/24:2</text>
<text font-size="5.0" fill="#1c1c1c" text-anchor="end" transform="translate(99.96 727.79) rotate(294.00) scale(0.77 1)" dominant-baseline="central" stroke="#1c1c1c" stroke-width="0.16">HexCer d18:1/24:0</text>
<text font-size="5.0" fill="#1c1c1c" text-anchor="end" transform="translate(95.20 725.37) rotate(300.00) scale(0.77 1)" dominant-baseline="central" stroke="#1c1c1c" stroke-width="0.16">SM d18:1/18:1</text>
<text font-size="5.0" fill="#1c1c1c" text-anchor="end" transform="translate(90.72 722.46) rotate(306.00) scale(0.77 1)" dominant-baseline="central" stroke="#1c1c1c" stroke-width="0.16">Sa 18:1</text>
<text font-size="5.0" fill="#1c1c1c" text-anchor="end" transform="translate(86.57 719.10) rotate(312.00) scale(0.77 1)" dominant-baseline="central" stroke="#1c1c1c" stroke-width="0.16">SaP 18:0</text>
<text font-size="5.0" fill="#1c1c1c" text-anchor="end" transform="translate(82.80 715.33) rotate(318.00) scale(0.77 1)" dominant-baseline="central" stroke="#1c1c1c" stroke-width="0.16">SM d18:2/24:1</text>
<text font-size="5.0" fill="#1c1c1c" text-anchor="end" transform="translate(79.44 711.18) rotate(324.00) scale(0.77 1)" dominant-baseline="central" stroke="#1c1c1c" stroke-width="0.16">Cer d18:1/22:0</text>
<text font-size="5.0" fill="#1c1c1c" text-anchor="end" transform="translate(76.53 706.70) rotate(330.00) scale(0.77 1)" dominant-baseline="central" stroke="#1c1c1c" stroke-width="0.16">SM d18:2/18:0</text>
<text font-size="5.0" fill="#1c1c1c" text-anchor="end" transform="translate(74.11 701.94) rotate(336.00) scale(0.77 1)" dominant-baseline="central" stroke="#1c1c1c" stroke-width="0.16">Cer d18:1/26:0</text>
<text font-size="5.0" fill="#1c1c1c" text-anchor="end" transform="translate(72.20 696.96) rotate(342.00) scale(0.77 1)" dominant-baseline="central" stroke="#1c1c1c" stroke-width="0.16">SM d18:2/18:1</text>
<text font-size="5.0" fill="#1c1c1c" text-anchor="end" transform="translate(70.81 691.80) rotate(348.00) scale(0.77 1)" dominant-baseline="central" stroke="#1c1c1c" stroke-width="0.16">So 18:1</text>
<text font-size="5.0" fill="#1c1c1c" text-anchor="end" transform="translate(69.98 686.53) rotate(354.00) scale(0.77 1)" dominant-baseline="central" stroke="#1c1c1c" stroke-width="0.16">Cer d18:1/24:0</text>
<text font-size="5.0" fill="#1c1c1c" text-anchor="end" font-weight="bold" transform="translate(69.70 681.20) rotate(360.00) scale(0.77 1)" dominant-baseline="central" stroke="#1c1c1c" stroke-width="0.16">SM d18:2/22:0</text>
<text font-size="5.0" fill="#1c1c1c" text-anchor="end" transform="translate(69.98 675.87) rotate(366.00) scale(0.77 1)" dominant-baseline="central" stroke="#1c1c1c" stroke-width="0.16">SM d18:1/16:0</text>
<text font-size="5.0" fill="#1c1c1c" text-anchor="end" transform="translate(70.81 670.60) rotate(372.00) scale(0.77 1)" dominant-baseline="central" stroke="#1c1c1c" stroke-width="0.16">SM d18:2/22:1</text>
<text font-size="5.0" fill="#1c1c1c" text-anchor="end" transform="translate(72.20 665.44) rotate(378.00) scale(0.77 1)" dominant-baseline="central" stroke="#1c1c1c" stroke-width="0.16">SM d18:1/22:1</text>
<text font-size="5.0" fill="#1c1c1c" text-anchor="end" transform="translate(74.11 660.46) rotate(384.00) scale(0.77 1)" dominant-baseline="central" stroke="#1c1c1c" stroke-width="0.16">SM d18:1/24:1</text>
<text font-size="5.0" fill="#1c1c1c" text-anchor="end" transform="translate(76.53 655.70) rotate(390.00) scale(0.77 1)" dominant-baseline="central" stroke="#1c1c1c" stroke-width="0.16">SM d18:1/20:1</text>
<text font-size="5.0" fill="#1c1c1c" text-anchor="end" transform="translate(79.44 651.22) rotate(396.00) scale(0.77 1)" dominant-baseline="central" stroke="#1c1c1c" stroke-width="0.16">SM d18:2/23:0</text>
<text font-size="5.0" fill="#1c1c1c" text-anchor="end" transform="translate(82.80 647.07) rotate(402.00) scale(0.77 1)" dominant-baseline="central" stroke="#1c1c1c" stroke-width="0.16">SM d18:1/25:1</text>
<text font-size="5.0" fill="#1c1c1c" text-anchor="end" transform="translate(86.57 643.30) rotate(408.00) scale(0.77 1)" dominant-baseline="central" stroke="#1c1c1c" stroke-width="0.16">Cer d18:1/18:1</text>
<text font-size="5.0" fill="#1c1c1c" text-anchor="end" transform="translate(90.72 639.94) rotate(414.00) scale(0.77 1)" dominant-baseline="central" stroke="#1c1c1c" stroke-width="0.16">SM d18:0/18:0</text>
<text font-size="5.0" fill="#1c1c1c" text-anchor="end" transform="translate(95.20 637.03) rotate(420.00) scale(0.77 1)" dominant-baseline="central" stroke="#1c1c1c" stroke-width="0.16">SM d18:2/20:0</text>
<text font-size="5.0" fill="#1c1c1c" text-anchor="end" transform="translate(99.96 634.61) rotate(426.00) scale(0.77 1)" dominant-baseline="central" stroke="#1c1c1c" stroke-width="0.16">Cer d18:1/20:1</text>
<text font-size="5.0" fill="#1c1c1c" text-anchor="end" transform="translate(104.94 632.70) rotate(432.00) scale(0.77 1)" dominant-baseline="central" stroke="#1c1c1c" stroke-width="0.16">SM d18:1/26:1</text>
<text font-size="5.0" fill="#1c1c1c" text-anchor="end" transform="translate(110.10 631.31) rotate(438.00) scale(0.77 1)" dominant-baseline="central" stroke="#1c1c1c" stroke-width="0.16">SM d18:1/17:0</text>
<text font-size="5.0" fill="#1c1c1c" text-anchor="end" transform="translate(115.37 630.48) rotate(444.00) scale(0.77 1)" dominant-baseline="central" stroke="#1c1c1c" stroke-width="0.16">Cer d18:1/21:0</text>
<text font-size="6.5" fill="#962050" text-anchor="middle" font-weight="bold" x="112.50" y="637.00" dominant-baseline="central">Low</text>
<text font-size="6.7" fill="#962050" text-anchor="middle" font-weight="bold" x="110.90" y="673.70" dominant-baseline="central">High</text>
<text font-size="14" fill="#000" font-weight="bold" x="215.00" y="608.60" stroke="#000" stroke-width="0.35">H</text>
<text font-size="9.4" fill="#1e1e1e" textLength="60.8" lengthAdjust="spacingAndGlyphs" x="247.70" y="604.50">Lipid mediators</text>
<path d="M307.50 676.50L307.50 639.00M309.48 676.71L317.27 640.03M311.36 677.32L326.62 643.06M313.08 678.31L335.13 647.98M314.56 679.64L342.43 654.55M315.73 681.25L348.20 662.50M316.54 683.06L352.20 671.48M316.95 685.01L354.24 681.09M316.95 686.99L354.24 690.91M316.54 688.94L352.20 700.52M315.73 690.75L348.20 709.50M314.56 692.36L342.43 717.45M313.08 693.69L335.13 724.02M311.36 694.68L326.62 728.94M309.48 695.29L317.27 731.97M307.50 695.50L307.50 733.00M305.52 695.29L297.73 731.97M303.64 694.68L288.38 728.94M301.92 693.69L279.87 724.02M300.44 692.36L272.57 717.45M299.27 690.75L266.80 709.50M298.46 688.94L262.80 700.52M298.05 686.99L260.76 690.91M298.05 685.01L260.76 681.09M298.46 683.06L262.80 671.48M299.27 681.25L266.80 662.50M300.44 679.64L272.57 654.55M301.92 678.31L279.87 647.98M303.64 677.32L288.38 643.06M305.52 676.71L297.73 640.03" stroke="#9c9c9c" stroke-width="1.05" fill="none"/>
<circle cx="307.50" cy="686.00" r="17.00" fill="none" stroke="#b0b0b0" stroke-width="0.85"/>
<circle cx="307.50" cy="686.00" r="25.00" fill="none" stroke="#b0b0b0" stroke-width="0.85"/>
<circle cx="307.50" cy="686.00" r="33.00" fill="none" stroke="#b0b0b0" stroke-width="0.85"/>
<circle cx="307.50" cy="686.00" r="40.50" fill="none" stroke="#b0b0b0" stroke-width="0.85"/>
<circle cx="307.50" cy="686.00" r="47.00" fill="none" stroke="#b0b0b0" stroke-width="0.85"/>
<path d="M307.50 686.00L307.50 640.95A45.05 45.05 0 0 1 316.87 641.93ZM307.50 686.00L316.72 642.63A44.34 44.34 0 0 1 325.53 645.49ZM307.50 686.00L325.03 646.62A43.11 43.11 0 0 1 332.84 651.13ZM307.50 686.00L332.01 652.26A41.70 41.70 0 0 1 338.49 658.10ZM307.50 686.00L337.67 658.83A40.60 40.60 0 0 1 342.66 665.70ZM307.50 686.00L341.64 666.29A39.42 39.42 0 0 1 344.99 673.82ZM307.50 686.00L344.00 674.14A38.38 38.38 0 0 1 345.67 681.99ZM307.50 686.00L344.61 682.10A37.32 37.32 0 0 1 344.61 689.90ZM307.50 686.00L343.49 689.78A36.18 36.18 0 0 1 341.91 697.18ZM307.50 686.00L341.08 696.91A35.30 35.30 0 0 1 338.07 703.65ZM307.50 686.00L337.62 703.39A34.77 34.77 0 0 1 333.34 709.27ZM307.50 686.00L332.56 708.57A33.73 33.73 0 0 1 327.32 713.29ZM307.50 686.00L326.82 712.59A32.87 32.87 0 0 1 320.87 716.03ZM307.50 686.00L320.35 714.85A31.58 31.58 0 0 1 314.07 716.89ZM307.50 686.00L313.90 716.10A30.77 30.77 0 0 1 307.50 716.77ZM307.50 686.00L307.50 715.95A29.95 29.95 0 0 1 301.27 715.29ZM307.50 686.00L301.50 714.24A28.87 28.87 0 0 1 295.76 712.38ZM307.50 686.00L296.00 711.83A28.28 28.28 0 0 1 290.88 708.88ZM307.50 686.00L291.41 708.15A27.38 27.38 0 0 1 287.15 704.32ZM307.50 686.00L287.95 703.61A26.31 26.31 0 0 1 284.71 699.16ZM307.50 686.00L285.29 698.82A25.64 25.64 0 0 1 283.11 693.92ZM307.50 686.00L283.55 693.78A25.18 25.18 0 0 1 282.45 688.63ZM307.50 686.00L282.96 688.58A24.68 24.68 0 0 1 282.96 683.42ZM307.50 686.00L283.00 683.43A24.63 24.63 0 0 1 284.07 678.39ZM307.50 686.00L283.96 678.35A24.75 24.75 0 0 1 286.07 673.62ZM307.50 686.00L286.09 673.64A24.72 24.72 0 0 1 289.13 669.46ZM307.50 686.00L290.25 670.47A23.21 23.21 0 0 1 293.86 667.22ZM307.50 686.00L296.35 670.65A18.97 18.97 0 0 1 299.78 668.67ZM307.50 686.00L301.67 672.92A14.32 14.32 0 0 1 304.52 671.99ZM307.50 686.00L304.84 673.50A12.78 12.78 0 0 1 307.50 673.22Z" fill="#454545"/>
<path d="M307.50 676.50L307.50 640.00M309.48 676.71L317.06 641.01M311.36 677.32L326.21 643.98M313.08 678.31L334.54 648.79M314.56 679.64L341.68 655.22M315.73 681.25L347.34 663.00M316.54 683.06L351.25 671.79M316.95 685.01L353.25 681.19M316.95 686.99L353.25 690.81M316.54 688.94L351.25 700.21M315.73 690.75L347.34 709.00M314.56 692.36L341.68 716.78M313.08 693.69L334.54 723.21M311.36 694.68L326.21 728.02M309.48 695.29L317.06 730.99M307.50 695.50L307.50 732.00M305.52 695.29L297.94 730.99M303.64 694.68L288.79 728.02M301.92 693.69L280.46 723.21M300.44 692.36L273.32 716.78M299.27 690.75L267.66 709.00M298.46 688.94L263.75 700.21M298.05 686.99L261.75 690.81M298.05 685.01L261.75 681.19M298.46 683.06L263.75 671.79M299.27 681.25L267.66 663.00M300.44 679.64L273.32 655.22M301.92 678.31L280.46 648.79M303.64 677.32L288.79 643.98M305.52 676.71L297.94 641.01" stroke="#d4d4d4" stroke-width="0.85" fill="none"/>
<circle cx="307.50" cy="686.00" r="17.00" fill="none" stroke="#d4d4d4" stroke-width="0.8"/>
<circle cx="307.50" cy="686.00" r="25.00" fill="none" stroke="#d4d4d4" stroke-width="0.8"/>
<circle cx="307.50" cy="686.00" r="33.00" fill="none" stroke="#d4d4d4" stroke-width="0.8"/>
<circle cx="307.50" cy="686.00" r="40.50" fill="none" stroke="#d4d4d4" stroke-width="0.8"/>
<circle cx="307.50" cy="686.00" r="9.50" fill="#b0b0b0" stroke="#999" stroke-width="0.5"/>
<text font-size="5.0" fill="#1c1c1c" transform="translate(307.50 636.50) rotate(-90.00) scale(0.77 1)" dominant-baseline="central" stroke="#1c1c1c" stroke-width="0.16">LTB4</text>
<text font-size="5.0" fill="#1c1c1c" transform="translate(317.79 637.58) rotate(-78.00) scale(0.77 1)" dominant-baseline="central" stroke="#1c1c1c" stroke-width="0.16">15-HETE ●</text>
<text font-size="5.0" fill="#1c1c1c" transform="translate(327.63 640.78) rotate(-66.00) scale(0.77 1)" dominant-baseline="central" stroke="#1c1c1c" stroke-width="0.16">Tetranor-12-HETE</text>
<text font-size="5.0" fill="#1c1c1c" transform="translate(336.60 645.95) rotate(-54.00) scale(0.77 1)" dominant-baseline="central" stroke="#1c1c1c" stroke-width="0.16">LTB4 ●</text>
<text font-size="5.0" fill="#1c1c1c" transform="translate(344.29 652.88) rotate(-42.00) scale(0.77 1)" dominant-baseline="central" stroke="#1c1c1c" stroke-width="0.16">12-oxoETE</text>
<text font-size="5.0" fill="#1c1c1c" transform="translate(350.37 661.25) rotate(-30.00) scale(0.77 1)" dominant-baseline="central" stroke="#1c1c1c" stroke-width="0.16">5,6-diHETE</text>
<text font-size="5.0" fill="#1c1c1c" transform="translate(354.58 670.70) rotate(-18.00) scale(0.77 1)" dominant-baseline="central" stroke="#1c1c1c" stroke-width="0.16">PGE2 ●</text>
<text font-size="5.0" fill="#1c1c1c" transform="translate(356.73 680.83) rotate(-6.00) scale(0.77 1)" dominant-baseline="central" stroke="#1c1c1c" stroke-width="0.16">15-HETE</text>
<text font-size="5.0" fill="#1c1c1c" transform="translate(356.73 691.17) rotate(6.00) scale(0.77 1)" dominant-baseline="central" stroke="#1c1c1c" stroke-width="0.16">Tetranor-12-HETE ●</text>
<text font-size="5.0" fill="#1c1c1c" transform="translate(354.58 701.30) rotate(18.00) scale(0.77 1)" dominant-baseline="central" stroke="#1c1c1c" stroke-width="0.16">8,9-EET</text>
<text font-size="5.0" fill="#1c1c1c" transform="translate(350.37 710.75) rotate(30.00) scale(0.77 1)" dominant-baseline="central" stroke="#1c1c1c" stroke-width="0.16">12-HHTrE ●</text>
<text font-size="5.0" fill="#1c1c1c" transform="translate(344.29 719.12) rotate(42.00) scale(0.77 1)" dominant-baseline="central" stroke="#1c1c1c" stroke-width="0.16">PGD2</text>
<text font-size="5.0" fill="#1c1c1c" transform="translate(336.60 726.05) rotate(54.00) scale(0.77 1)" dominant-baseline="central" stroke="#1c1c1c" stroke-width="0.16">9-HODE ●</text>
<text font-size="5.0" fill="#1c1c1c" transform="translate(327.63 731.22) rotate(66.00) scale(0.77 1)" dominant-baseline="central" stroke="#1c1c1c" stroke-width="0.16">9-HODE</text>
<text font-size="5.0" fill="#1c1c1c" transform="translate(317.79 734.42) rotate(78.00) scale(0.77 1)" dominant-baseline="central" stroke="#1c1c1c" stroke-width="0.16">TXB2 ●</text>
<text font-size="5.0" fill="#1c1c1c" text-anchor="end" transform="translate(307.50 735.50) rotate(270.00) scale(0.77 1)" dominant-baseline="central" stroke="#1c1c1c" stroke-width="0.16">12-OxoETE</text>
<text font-size="5.0" fill="#1c1c1c" text-anchor="end" transform="translate(297.21 734.42) rotate(282.00) scale(0.77 1)" dominant-baseline="central" stroke="#1c1c1c" stroke-width="0.16">13-HODE ●</text>
<text font-size="5.0" fill="#1c1c1c" text-anchor="end" transform="translate(287.37 731.22) rotate(294.00) scale(0.77 1)" dominant-baseline="central" stroke="#1c1c1c" stroke-width="0.16">12-HEPE ●</text>
<text font-size="5.0" fill="#1c1c1c" text-anchor="end" transform="translate(278.40 726.05) rotate(306.00) scale(0.77 1)" dominant-baseline="central" stroke="#1c1c1c" stroke-width="0.16">12-OxoETE ●</text>
<text font-size="5.0" fill="#1c1c1c" text-anchor="end" transform="translate(270.71 719.12) rotate(318.00) scale(0.77 1)" dominant-baseline="central" stroke="#1c1c1c" stroke-width="0.16">15-HEpHE ●</text>
<text font-size="5.0" fill="#1c1c1c" text-anchor="end" transform="translate(264.63 710.75) rotate(330.00) scale(0.77 1)" dominant-baseline="central" stroke="#1c1c1c" stroke-width="0.16">13-HODE</text>
<text font-size="5.0" fill="#1c1c1c" text-anchor="end" transform="translate(260.42 701.30) rotate(342.00) scale(0.77 1)" dominant-baseline="central" stroke="#1c1c1c" stroke-width="0.16">12-HEPE</text>
<text font-size="5.0" fill="#1c1c1c" text-anchor="end" transform="translate(258.27 691.17) rotate(354.00) scale(0.77 1)" dominant-baseline="central" stroke="#1c1c1c" stroke-width="0.16">15-HDHE</text>
<text font-size="5.0" fill="#1c1c1c" text-anchor="end" transform="translate(258.27 680.83) rotate(366.00) scale(0.77 1)" dominant-baseline="central" stroke="#1c1c1c" stroke-width="0.16">TXB2</text>
<text font-size="5.0" fill="#1c1c1c" text-anchor="end" transform="translate(260.42 670.70) rotate(378.00) scale(0.77 1)" dominant-baseline="central" stroke="#1c1c1c" stroke-width="0.16">8-HETE ●</text>
<text font-size="5.0" fill="#1c1c1c" text-anchor="end" transform="translate(264.63 661.25) rotate(390.00) scale(0.77 1)" dominant-baseline="central" stroke="#1c1c1c" stroke-width="0.16">12-HETE ●</text>
<text font-size="5.0" fill="#1c1c1c" text-anchor="end" transform="translate(270.71 652.88) rotate(402.00) scale(0.77 1)" dominant-baseline="central" stroke="#1c1c1c" stroke-width="0.16">8-HETE</text>
<text font-size="5.0" fill="#1c1c1c" text-anchor="end" transform="translate(278.40 645.95) rotate(414.00) scale(0.77 1)" dominant-baseline="central" stroke="#1c1c1c" stroke-width="0.16">12-HETE</text>
<text font-size="5.0" fill="#1c1c1c" text-anchor="end" transform="translate(287.37 640.78) rotate(426.00) scale(0.77 1)" dominant-baseline="central" stroke="#1c1c1c" stroke-width="0.16">AA ●</text>
<text font-size="5.0" fill="#1c1c1c" text-anchor="end" transform="translate(297.21 637.58) rotate(438.00) scale(0.77 1)" dominant-baseline="central" stroke="#1c1c1c" stroke-width="0.16">ALA</text>
<text font-size="6.9" fill="#962050" text-anchor="middle" font-weight="bold" x="298.40" y="641.00" dominant-baseline="central">Low</text>
<text font-size="6.75" fill="#962050" text-anchor="middle" font-weight="bold" x="297.90" y="680.80" dominant-baseline="central">High</text>
<text font-size="14" fill="#000" font-weight="bold" x="402.00" y="607.80" stroke="#000" stroke-width="0.35">I</text>
<text font-size="9.4" fill="#1e1e1e" textLength="60.6" lengthAdjust="spacingAndGlyphs" x="429.80" y="605.20">Cholesterol and</text>
<text font-size="9.4" fill="#1e1e1e" textLength="61.9" lengthAdjust="spacingAndGlyphs" x="429.80" y="615.60">cholesteryl ester</text>
<polyline points="465.30,676.30 472.34,679.69 474.07,687.30 469.20,693.41 461.40,693.41 456.53,687.30 458.26,679.69 465.30,676.30" fill="none" stroke="#c0c0c0" stroke-width="0.8" stroke-linejoin="miter" stroke-linecap="round"/>
<polyline points="465.30,671.80 475.85,676.88 478.46,688.30 471.16,697.46 459.44,697.46 452.14,688.30 454.75,676.88 465.30,671.80" fill="none" stroke="#c0c0c0" stroke-width="0.8" stroke-linejoin="miter" stroke-linecap="round"/>
<polyline points="465.30,667.30 479.37,674.08 482.85,689.31 473.11,701.52 457.49,701.52 447.75,689.31 451.23,674.08 465.30,667.30" fill="none" stroke="#c0c0c0" stroke-width="0.8" stroke-linejoin="miter" stroke-linecap="round"/>
<polyline points="465.30,662.70 482.97,671.21 487.33,690.33 475.11,705.66 455.49,705.66 443.27,690.33 447.63,671.21 465.30,662.70" fill="none" stroke="#c0c0c0" stroke-width="0.8" stroke-linejoin="miter" stroke-linecap="round"/>
<polygon points="465.30,666.50 479.06,674.33 482.75,689.28 472.63,700.53 458.79,698.81 452.53,688.22 464.67,684.80" fill="#474747"/>
<line x1="465.30" y1="685.30" x2="465.30" y2="658.80" stroke="#6a6a6a" stroke-width="1.1"/>
<line x1="465.30" y1="685.30" x2="485.63" y2="669.09" stroke="#6a6a6a" stroke-width="1.1"/>
<line x1="465.30" y1="685.30" x2="490.65" y2="691.09" stroke="#6a6a6a" stroke-width="1.1"/>
<line x1="465.30" y1="685.30" x2="477.01" y2="709.63" stroke="#6a6a6a" stroke-width="1.1"/>
<line x1="465.30" y1="685.30" x2="453.59" y2="709.63" stroke="#6a6a6a" stroke-width="1.1"/>
<line x1="465.30" y1="685.30" x2="439.95" y2="691.09" stroke="#6a6a6a" stroke-width="1.1"/>
<line x1="465.30" y1="685.30" x2="442.63" y2="667.22" stroke="#6a6a6a" stroke-width="1.1"/>
<text font-size="4.9" fill="#2a2a2a" transform="translate(465.30 656.80) rotate(-90.00) scale(0.9 1)" dominant-baseline="central">CholE 18:0</text>
<text font-size="4.9" fill="#2a2a2a" transform="translate(487.58 667.53) rotate(-38.57) scale(0.9 1)" dominant-baseline="central">CholE 16:1</text>
<text font-size="4.9" fill="#2a2a2a" transform="translate(493.09 691.64) rotate(12.86) scale(0.9 1)" dominant-baseline="central">CholE 16:0</text>
<text font-size="4.9" fill="#2a2a2a" transform="translate(477.67 710.98) rotate(64.29) scale(0.9 1)" dominant-baseline="central">CholE 18:1</text>
<text font-size="4.9" fill="#2a2a2a" text-anchor="end" transform="translate(452.93 710.98) rotate(295.71) scale(0.9 1)" dominant-baseline="central">CholE 20:4</text>
<text font-size="4.9" fill="#2a2a2a" text-anchor="end" transform="translate(437.51 691.64) rotate(347.14) scale(0.9 1)" dominant-baseline="central">CholE 18:2</text>
<text font-size="4.9" fill="#2a2a2a" text-anchor="end" transform="translate(441.85 666.60) rotate(398.57) scale(0.9 1)" dominant-baseline="central">Cholesterol</text>
<text font-size="6.8" fill="#962050" text-anchor="middle" font-weight="bold" x="457.40" y="661.00" dominant-baseline="central">Low</text>
<text font-size="6.75" fill="#962050" text-anchor="middle" font-weight="bold" x="456.80" y="685.20" dominant-baseline="central">High</text>
<path d="M0 0.75H520M0.75 0V774" stroke="#000" stroke-width="1.5"/><path d="M0 773H520M519 0V774" stroke="#000" stroke-width="2"/>
</svg></body></html>
